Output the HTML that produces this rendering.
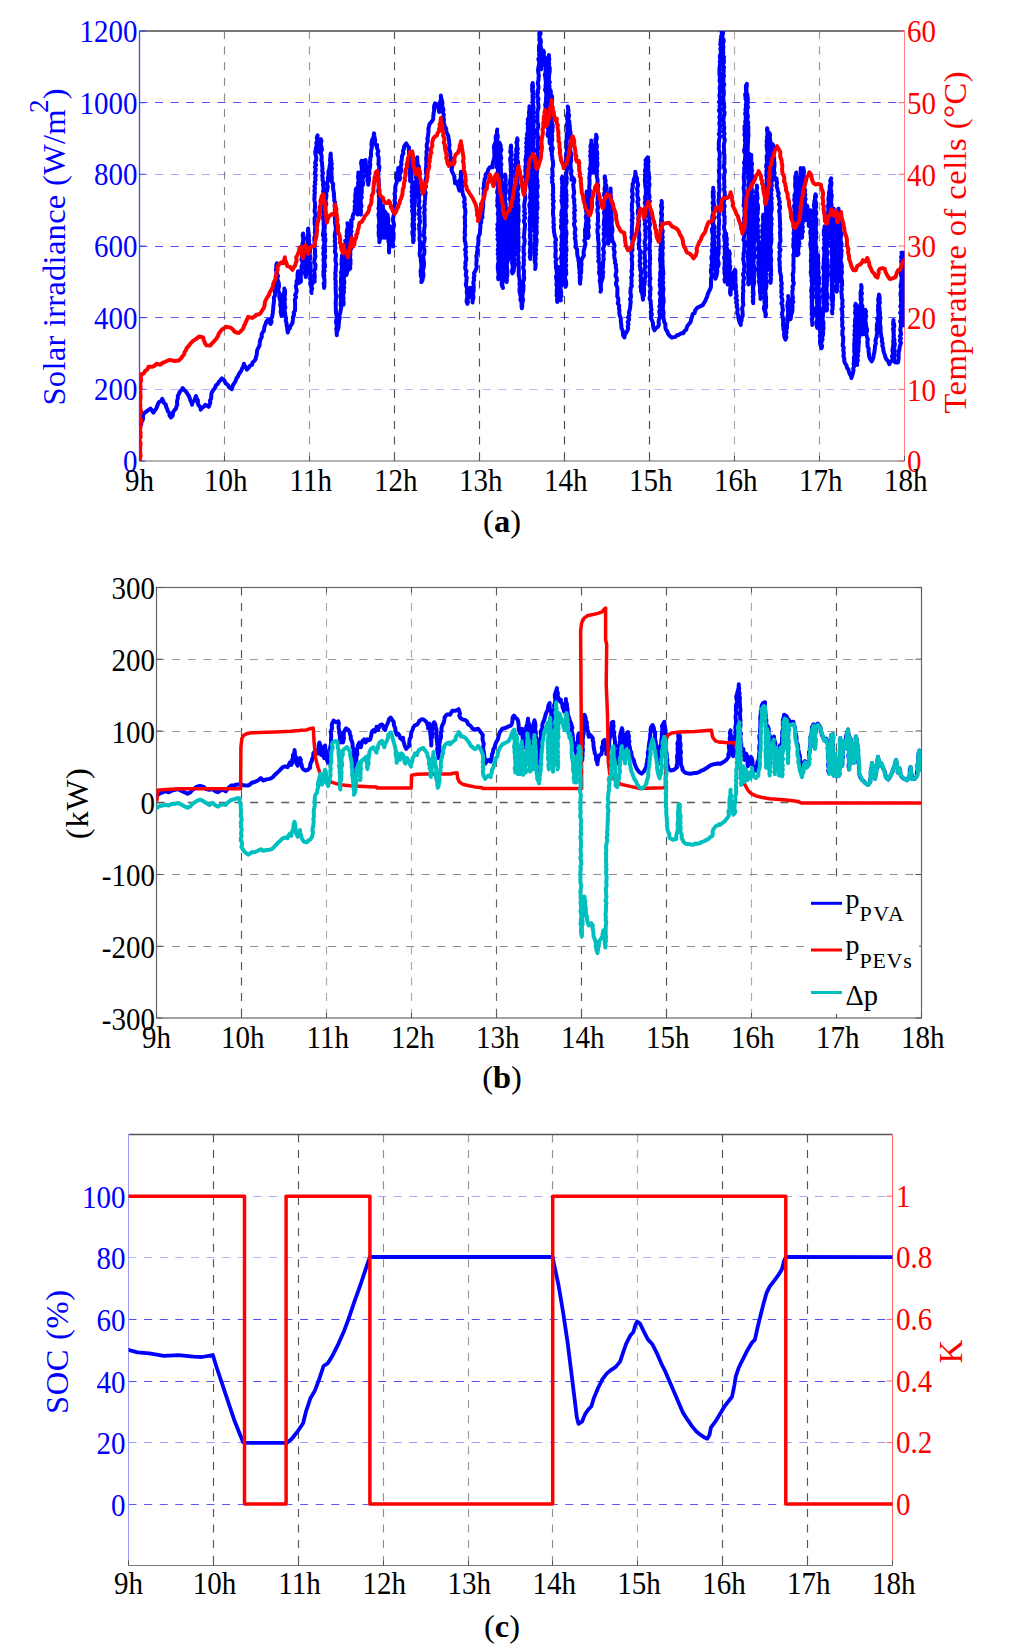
<!DOCTYPE html>
<html><head><meta charset="utf-8"><title>Figure</title>
<style>html,body{margin:0;padding:0;background:#fff}svg{display:block}text{font-family:"Liberation Serif", serif}</style>
</head><body>
<svg width="1024" height="1652" viewBox="0 0 1024 1652">
<rect width="1024" height="1652" fill="#fff"/>
<g>
<line x1="224.5" y1="31" x2="224.5" y2="461" stroke="#8a8a8a" stroke-width="1.15" stroke-dasharray="8 7.6"/>
<line x1="309.5" y1="31" x2="309.5" y2="461" stroke="#999" stroke-width="1.15" stroke-dasharray="8 7.6"/>
<line x1="394.5" y1="31" x2="394.5" y2="461" stroke="#555" stroke-width="1.15" stroke-dasharray="8 7.6"/>
<line x1="479.5" y1="31" x2="479.5" y2="461" stroke="#505050" stroke-width="1.15" stroke-dasharray="8 7.6"/>
<line x1="564.5" y1="31" x2="564.5" y2="461" stroke="#484848" stroke-width="1.15" stroke-dasharray="8 7.6"/>
<line x1="649.5" y1="31" x2="649.5" y2="461" stroke="#484848" stroke-width="1.15" stroke-dasharray="8 7.6"/>
<line x1="734.5" y1="31" x2="734.5" y2="461" stroke="#aaa" stroke-width="1.15" stroke-dasharray="8 7.6"/>
<line x1="819.5" y1="31" x2="819.5" y2="461" stroke="#999" stroke-width="1.15" stroke-dasharray="8 7.6"/>
<line x1="139.5" y1="389.5" x2="904.5" y2="389.5" stroke="#2222ff" stroke-opacity="0.33" stroke-width="1.1" stroke-dasharray="8 7.6"/>
<line x1="139.5" y1="317.5" x2="904.5" y2="317.5" stroke="#2222ff" stroke-opacity="0.75" stroke-width="1.1" stroke-dasharray="8 7.6"/>
<line x1="139.5" y1="246.5" x2="904.5" y2="246.5" stroke="#2222ff" stroke-opacity="0.8" stroke-width="1.1" stroke-dasharray="8 7.6"/>
<line x1="139.5" y1="174.5" x2="904.5" y2="174.5" stroke="#2222ff" stroke-opacity="0.4" stroke-width="1.1" stroke-dasharray="8 7.6"/>
<line x1="139.5" y1="102.5" x2="904.5" y2="102.5" stroke="#2222ff" stroke-opacity="0.8" stroke-width="1.1" stroke-dasharray="8 7.6"/>
<line x1="139.5" y1="31" x2="904.5" y2="31" stroke="#777" stroke-width="2.1"/>
<line x1="139.5" y1="461" x2="904.5" y2="461" stroke="#999" stroke-width="1.3"/>
<line x1="139.5" y1="31" x2="139.5" y2="461" stroke="#4444ff" stroke-width="1.3"/>
<line x1="904.5" y1="31" x2="904.5" y2="461" stroke="#ff8080" stroke-width="1"/>
<line x1="139.5" y1="461" x2="139.5" y2="456" stroke="#555" stroke-width="1"/>
<line x1="224.5" y1="461" x2="224.5" y2="456" stroke="#555" stroke-width="1"/>
<line x1="309.5" y1="461" x2="309.5" y2="456" stroke="#555" stroke-width="1"/>
<line x1="394.5" y1="461" x2="394.5" y2="456" stroke="#555" stroke-width="1"/>
<line x1="479.5" y1="461" x2="479.5" y2="456" stroke="#555" stroke-width="1"/>
<line x1="564.5" y1="461" x2="564.5" y2="456" stroke="#555" stroke-width="1"/>
<line x1="649.5" y1="461" x2="649.5" y2="456" stroke="#555" stroke-width="1"/>
<line x1="734.5" y1="461" x2="734.5" y2="456" stroke="#555" stroke-width="1"/>
<line x1="819.5" y1="461" x2="819.5" y2="456" stroke="#555" stroke-width="1"/>
<line x1="904.5" y1="461" x2="904.5" y2="456" stroke="#555" stroke-width="1"/>
<line x1="139.5" y1="461.0" x2="145.5" y2="461.0" stroke="#4444ff" stroke-width="1"/>
<line x1="904.5" y1="461.0" x2="898.5" y2="461.0" stroke="#ff6060" stroke-width="1"/>
<text transform="translate(137.50,471.90) scale(1,1.09)" fill="#0000ff" text-anchor="end" font-size="29" >0</text>
<text transform="translate(906.90,472.40) scale(1,1.09)" fill="#ff0000" text-anchor="start" font-size="29" >0</text>
<line x1="139.5" y1="389.3" x2="145.5" y2="389.3" stroke="#4444ff" stroke-width="1"/>
<line x1="904.5" y1="389.3" x2="898.5" y2="389.3" stroke="#ff6060" stroke-width="1"/>
<text transform="translate(137.50,400.23) scale(1,1.09)" fill="#0000ff" text-anchor="end" font-size="29" >200</text>
<text transform="translate(906.90,400.73) scale(1,1.09)" fill="#ff0000" text-anchor="start" font-size="29" >10</text>
<line x1="139.5" y1="317.7" x2="145.5" y2="317.7" stroke="#4444ff" stroke-width="1"/>
<line x1="904.5" y1="317.7" x2="898.5" y2="317.7" stroke="#ff6060" stroke-width="1"/>
<text transform="translate(137.50,328.57) scale(1,1.09)" fill="#0000ff" text-anchor="end" font-size="29" >400</text>
<text transform="translate(906.90,329.07) scale(1,1.09)" fill="#ff0000" text-anchor="start" font-size="29" >20</text>
<line x1="139.5" y1="246.0" x2="145.5" y2="246.0" stroke="#4444ff" stroke-width="1"/>
<line x1="904.5" y1="246.0" x2="898.5" y2="246.0" stroke="#ff6060" stroke-width="1"/>
<text transform="translate(137.50,256.90) scale(1,1.09)" fill="#0000ff" text-anchor="end" font-size="29" >600</text>
<text transform="translate(906.90,257.40) scale(1,1.09)" fill="#ff0000" text-anchor="start" font-size="29" >30</text>
<line x1="139.5" y1="174.3" x2="145.5" y2="174.3" stroke="#4444ff" stroke-width="1"/>
<line x1="904.5" y1="174.3" x2="898.5" y2="174.3" stroke="#ff6060" stroke-width="1"/>
<text transform="translate(137.50,185.23) scale(1,1.09)" fill="#0000ff" text-anchor="end" font-size="29" >800</text>
<text transform="translate(906.90,185.73) scale(1,1.09)" fill="#ff0000" text-anchor="start" font-size="29" >40</text>
<line x1="139.5" y1="102.7" x2="145.5" y2="102.7" stroke="#4444ff" stroke-width="1"/>
<line x1="904.5" y1="102.7" x2="898.5" y2="102.7" stroke="#ff6060" stroke-width="1"/>
<text transform="translate(137.50,113.57) scale(1,1.09)" fill="#0000ff" text-anchor="end" font-size="29" >1000</text>
<text transform="translate(906.90,114.07) scale(1,1.09)" fill="#ff0000" text-anchor="start" font-size="29" >50</text>
<line x1="139.5" y1="31.0" x2="145.5" y2="31.0" stroke="#4444ff" stroke-width="1"/>
<line x1="904.5" y1="31.0" x2="898.5" y2="31.0" stroke="#ff6060" stroke-width="1"/>
<text transform="translate(137.50,41.90) scale(1,1.09)" fill="#0000ff" text-anchor="end" font-size="29" >1200</text>
<text transform="translate(906.90,42.40) scale(1,1.09)" fill="#ff0000" text-anchor="start" font-size="29" >60</text>
<text transform="translate(139.50,490.50) scale(1,1.09)" fill="#000" text-anchor="middle" font-size="29" >9h</text>
<text transform="translate(225.70,490.50) scale(1,1.09)" fill="#000" text-anchor="middle" font-size="29" >10h</text>
<text transform="translate(310.70,490.50) scale(1,1.09)" fill="#000" text-anchor="middle" font-size="29" >11h</text>
<text transform="translate(395.70,490.50) scale(1,1.09)" fill="#000" text-anchor="middle" font-size="29" >12h</text>
<text transform="translate(480.70,490.50) scale(1,1.09)" fill="#000" text-anchor="middle" font-size="29" >13h</text>
<text transform="translate(565.70,490.50) scale(1,1.09)" fill="#000" text-anchor="middle" font-size="29" >14h</text>
<text transform="translate(650.70,490.50) scale(1,1.09)" fill="#000" text-anchor="middle" font-size="29" >15h</text>
<text transform="translate(735.70,490.50) scale(1,1.09)" fill="#000" text-anchor="middle" font-size="29" >16h</text>
<text transform="translate(820.70,490.50) scale(1,1.09)" fill="#000" text-anchor="middle" font-size="29" >17h</text>
<text transform="translate(905.70,490.50) scale(1,1.09)" fill="#000" text-anchor="middle" font-size="29" >18h</text>
<clipPath id="ca"><rect x="139.5" y="31" width="765.0" height="430"/></clipPath>
<polyline points="140.7,425.3 141.3,424.3 141.3,422.1 142.7,420.1 143.1,418.0 142.9,415.7 143.7,413.6 145.6,412.1 147.6,410.7 150.5,408.7 152.0,410.6 153.4,412.6 154.9,410.4 156.4,408.3 157.3,405.8 158.1,403.7 159.2,402.0 161.4,400.9 162.2,398.9 163.3,400.9 163.9,403.0 165.8,404.5 166.1,406.8 167.2,408.9 167.8,411.2 169.4,413.0 169.5,415.6 171.0,417.5 172.7,415.6 172.9,412.8 174.1,410.6 175.9,408.7 176.4,406.6 177.3,404.6 177.0,402.4 177.2,400.3 177.9,398.2 177.8,396.0 178.8,394.1 179.8,391.9 181.4,390.1 182.7,388.2 184.4,390.1 186.3,391.9 187.6,394.1 188.9,396.1 189.8,398.2 190.4,400.5 191.5,402.5 192.1,404.8 192.5,402.3 194.5,400.6 195.1,398.2 196.0,396.0 196.6,398.4 198.0,400.4 197.7,403.1 198.7,405.3 200.4,407.2 200.7,409.7 202.0,407.9 203.9,406.6 205.2,404.8 208.7,406.8 209.5,404.7 210.3,402.7 210.0,400.5 211.1,398.5 211.3,396.3 211.3,394.1 212.0,392.1 213.4,389.9 215.1,387.8 215.9,385.3 217.8,383.9 218.9,381.9 220.4,380.2 221.8,378.4 224.3,380.5 225.7,383.3 227.9,385.0 229.3,387.5 231.6,389.2 232.4,387.0 233.1,384.7 234.6,382.8 235.7,380.7 236.4,378.4 237.9,376.6 238.7,374.4 240.0,372.5 241.3,370.6 242.2,368.3 243.4,366.2 243.9,363.8 244.8,365.8 246.0,367.6 246.8,369.6 248.5,368.0 249.9,365.9 252.1,364.8 252.5,362.5 254.3,361.0 255.6,359.2 256.0,356.9 256.7,354.8 256.9,352.5 257.2,350.1 258.2,348.0 259.4,346.0 259.7,343.7 259.9,341.3 260.6,339.1 261.8,337.0 261.6,334.5 262.7,332.4 264.0,330.4 264.2,328.0 264.8,325.7 265.7,323.7 266.4,321.6 267.7,319.8 269.1,321.8 270.6,323.8 271.6,321.7 270.6,319.3 272.0,317.3 272.4,315.1 272.8,313.0 272.9,310.8 273.3,308.6 273.3,306.4 273.6,304.2 273.9,302.0 274.0,299.7 273.8,297.4 275.2,295.4 275.0,293.1 274.8,290.8 275.5,288.6 275.6,286.5 275.7,284.4 275.7,282.2 275.8,280.1 276.1,278.0 276.4,275.9 276.5,273.8 276.4,271.7 275.9,269.5 276.3,267.4 276.3,265.3 276.9,263.2 276.9,265.3 276.6,267.5 276.9,269.6 277.0,271.7 277.1,273.8 278.0,275.9 277.3,278.0 277.7,280.1 278.6,282.2 278.9,284.3 279.0,286.4 278.4,288.6 278.3,290.7 279.2,292.8 279.7,294.8 279.2,297.0 279.8,299.1 280.4,301.1 280.5,303.3 280.2,305.4 280.9,307.5 281.0,309.6 280.6,311.8 281.2,313.8 281.4,315.9 281.3,313.8 281.8,311.7 281.4,309.6 282.1,307.5 282.4,305.4 282.3,303.3 282.4,301.2 283.7,299.2 283.4,297.0 283.2,294.9 284.0,292.8 284.5,290.7 284.3,288.6 285.0,290.7 285.1,292.8 285.0,294.9 284.3,297.0 285.1,299.1 284.5,301.2 284.6,303.3 284.8,305.4 285.4,307.5 284.4,309.7 284.7,311.7 285.2,313.8 285.3,315.9 286.0,318.3 285.8,320.7 286.5,323.0 286.6,325.4 287.3,327.8 287.3,330.2 287.8,332.5 288.3,330.0 290.0,327.9 290.5,325.7 292.1,323.8 292.7,321.6 292.9,319.2 293.0,317.0 294.1,314.9 293.7,312.6 295.0,310.6 295.1,308.4 295.1,306.1 295.1,303.9 295.0,301.6 294.8,299.4 296.1,297.2 295.1,294.9 296.3,292.7 296.7,290.5 296.2,288.2 295.8,285.9 296.9,283.7 296.5,281.4 297.6,279.0 297.5,276.4 297.6,273.8 298.0,271.3 298.4,273.6 298.8,275.9 299.3,278.2 298.9,280.6 299.4,282.9 300.9,281.4 300.9,279.3 300.7,277.1 300.7,274.9 301.6,272.7 301.2,270.5 301.6,268.4 301.5,266.2 302.4,264.0 302.5,261.9 301.4,259.6 301.8,257.4 302.4,255.3 302.2,253.1 303.2,251.0 303.0,248.8 302.4,246.6 302.3,244.4 303.0,242.2 303.3,240.1 303.5,237.9 302.8,235.7 303.1,233.5 302.7,235.7 303.1,237.9 303.5,240.0 303.0,242.3 304.2,244.4 303.6,246.6 304.7,248.7 304.7,250.9 303.8,253.1 304.5,255.3 305.0,257.4 304.4,259.7 304.7,261.8 304.5,264.0 305.3,266.2 305.4,268.4 305.6,270.5 304.9,272.7 305.4,274.9 305.7,277.1 306.8,274.8 307.2,272.3 307.1,269.8 306.7,267.6 307.3,265.5 306.7,263.3 306.7,261.1 306.8,258.9 308.0,256.8 307.9,254.6 308.0,252.4 307.4,250.2 307.8,248.0 308.1,245.9 307.6,243.7 307.9,241.5 307.5,239.3 307.4,237.1 307.7,234.9 308.6,232.8 308.2,230.6 308.2,228.4 307.8,230.9 308.6,233.3 309.1,235.8 308.6,238.3 309.2,240.8 308.8,243.0 310.0,245.2 309.2,247.5 310.1,249.7 310.1,251.9 309.1,254.1 310.4,256.3 310.2,258.6 309.2,260.8 310.1,263.0 310.6,265.2 310.6,267.5 310.5,269.7 309.9,272.0 310.3,274.2 311.0,276.2 310.0,278.4 310.9,280.5 310.2,282.6 310.4,284.7 311.4,286.7 311.6,288.8 311.4,291.0 311.5,293.1 311.2,290.8 312.2,288.7 311.6,286.5 311.8,284.3 313.4,282.2 313.0,280.0 314.7,281.4 314.4,279.3 314.8,277.2 314.6,275.1 314.5,273.0 314.1,270.9 315.3,268.8 315.4,266.6 315.4,264.5 314.2,262.4 314.4,260.3 314.9,258.2 315.5,256.1 314.8,254.0 315.1,251.9 315.0,249.7 314.5,247.6 314.9,245.5 314.5,243.4 314.5,241.3 314.2,239.2 314.5,237.1 315.5,235.0 314.8,232.8 315.1,230.7 315.1,228.6 315.5,226.5 314.7,224.4 314.6,222.3 314.6,220.2 314.6,218.0 315.4,215.9 315.5,213.8 314.6,211.7 314.7,209.6 315.0,207.5 315.0,205.4 315.1,203.3 314.6,201.1 314.3,199.0 314.6,196.9 314.4,194.8 315.0,192.7 314.4,190.6 315.0,188.5 314.4,186.3 315.3,184.2 314.8,182.0 315.6,179.9 315.2,177.8 315.8,175.6 314.8,173.5 315.4,171.3 315.8,169.2 314.9,167.0 316.1,164.9 315.1,162.8 316.0,160.6 316.3,158.5 316.1,156.4 315.5,154.2 315.2,152.1 315.8,149.9 315.9,147.8 316.8,145.4 316.3,142.8 317.4,140.4 316.8,137.8 317.6,135.4 317.2,137.9 318.7,140.1 318.5,142.6 317.9,145.0 318.2,147.4 318.3,149.8 319.1,152.1 319.8,150.0 320.0,147.8 320.3,145.6 319.9,143.4 320.5,141.2 320.9,139.1 321.5,141.2 320.8,143.3 321.0,145.5 321.6,147.6 322.0,149.7 320.8,151.9 321.1,154.0 321.6,156.1 321.7,158.2 321.3,160.4 322.0,162.5 322.1,164.6 322.3,166.7 322.5,168.9 322.2,171.0 323.0,173.3 322.2,175.5 322.7,177.8 322.5,180.1 323.4,182.3 323.0,184.6 323.4,186.8 323.6,189.1 323.1,191.4 323.5,193.5 322.7,195.6 323.3,197.7 323.4,199.8 323.1,201.9 323.6,204.0 324.0,206.1 323.3,208.2 323.3,210.3 323.1,212.4 323.5,214.5 323.1,216.6 323.1,218.7 323.8,220.8 323.5,222.9 323.5,225.0 323.9,227.1 323.6,229.2 323.5,231.3 323.0,233.4 323.0,235.5 323.9,237.6 323.4,239.7 324.3,241.8 324.3,243.9 323.7,246.0 323.2,248.1 324.2,250.2 323.4,252.3 323.3,254.4 324.1,256.5 323.6,258.6 323.4,260.7 324.1,262.8 323.6,264.9 323.6,267.0 323.8,269.1 323.5,271.2 323.4,273.3 323.4,275.4 323.9,277.5 324.5,279.6 324.4,281.7 324.5,283.8 324.0,285.9 324.1,288.0 324.5,285.9 323.6,283.7 324.5,281.6 324.5,279.5 324.1,277.3 324.3,275.2 323.8,273.1 324.7,270.9 323.7,268.8 325.1,266.7 324.8,264.6 324.6,262.4 324.1,260.3 325.1,258.2 325.2,256.0 324.0,253.9 325.0,251.8 325.1,249.7 324.8,247.5 324.9,245.4 324.6,243.3 325.3,241.1 325.4,239.0 324.6,236.9 325.2,234.8 324.7,232.6 324.4,230.5 324.6,228.4 324.9,226.2 324.5,224.0 325.7,221.8 325.8,219.6 324.8,217.3 325.6,215.1 325.4,212.8 325.1,210.6 325.5,208.3 325.5,206.1 326.3,203.9 325.4,201.6 325.8,199.4 326.3,197.2 326.4,195.0 326.0,192.9 327.1,190.8 327.3,188.7 327.8,186.7 327.1,184.5 327.4,182.4 328.0,180.3 327.8,178.1 328.4,176.1 328.5,173.9 328.4,171.6 329.2,169.4 329.6,167.2 329.9,164.9 330.4,162.7 330.0,160.4 330.2,158.1 330.9,155.9 330.7,153.6 330.4,155.7 330.8,157.8 331.2,159.9 331.4,162.0 331.8,164.1 330.9,166.3 332.0,168.4 331.2,170.5 331.6,172.6 331.1,174.7 331.8,176.8 331.8,179.3 331.8,181.8 333.2,184.0 333.0,186.5 333.2,189.0 333.6,191.4 334.0,193.6 333.9,195.9 334.3,198.1 334.2,200.4 335.1,202.6 334.6,204.9 334.8,207.2 335.2,209.4 335.0,211.7 335.2,213.8 334.7,215.9 334.8,218.0 335.1,220.2 334.9,222.3 335.3,224.4 335.6,226.5 335.9,228.6 335.6,230.7 335.1,232.8 334.7,235.0 334.8,237.1 335.3,239.2 334.7,241.3 335.4,243.4 334.9,245.5 335.5,247.6 335.1,249.7 334.8,251.9 335.8,254.0 336.0,256.1 335.4,258.2 335.5,260.3 335.8,262.4 336.3,264.5 335.8,266.6 335.7,268.8 335.8,270.9 335.2,273.0 335.6,275.1 335.4,277.2 335.2,279.3 335.8,281.4 335.5,283.6 335.9,285.7 335.5,287.9 335.7,290.0 335.8,292.2 335.8,294.3 336.2,296.5 335.9,298.6 335.9,300.8 335.6,303.0 335.8,305.1 335.8,307.3 335.9,309.4 335.9,311.6 336.2,313.7 336.6,315.8 336.8,318.0 336.2,320.2 336.0,322.3 336.5,324.4 337.1,326.6 336.2,328.8 336.7,330.9 336.8,333.0 336.8,335.2 336.6,332.5 337.7,330.1 338.5,327.6 338.7,325.0 338.9,322.6 339.1,320.2 339.8,317.8 339.3,315.3 340.3,312.9 340.6,310.5 341.2,308.3 340.9,306.0 340.5,303.8 341.0,301.6 340.9,299.4 340.4,297.1 340.4,294.9 341.4,292.7 340.6,290.4 340.4,288.2 341.4,286.0 341.1,283.8 340.9,281.5 341.1,279.3 341.1,277.1 341.6,274.9 340.9,272.7 341.6,270.6 341.8,268.4 342.0,266.2 341.3,264.0 341.9,261.8 341.5,259.6 342.0,257.5 342.0,255.3 342.5,257.4 341.7,259.6 341.7,261.7 342.5,263.9 342.7,266.0 341.7,268.2 342.2,270.3 342.0,272.5 343.2,274.6 342.1,276.8 342.5,278.9 343.0,281.1 342.9,283.2 342.5,285.4 342.6,287.5 343.5,289.6 342.9,291.8 343.6,293.9 342.6,296.1 343.4,298.2 342.8,300.4 343.1,302.6 343.5,304.7 343.7,302.6 343.2,300.4 343.6,298.3 343.1,296.2 343.2,294.1 344.0,292.0 343.6,289.8 344.2,287.7 343.5,285.6 344.2,283.5 344.3,281.3 343.7,279.2 344.1,277.1 343.6,274.9 344.0,272.8 344.2,270.7 343.8,268.5 344.0,266.4 343.8,264.2 344.7,262.1 345.1,260.0 344.3,257.8 344.1,255.7 345.1,253.6 345.3,251.5 345.6,249.3 345.2,247.2 344.9,245.0 345.6,242.9 345.2,240.8 345.8,242.9 345.1,245.0 346.0,247.1 345.6,249.3 345.6,251.4 345.8,253.6 346.2,255.7 346.2,257.8 345.4,260.0 346.0,262.1 345.9,264.2 346.5,266.4 345.9,268.5 346.5,270.6 346.2,272.8 346.4,274.9 347.0,272.8 347.1,270.6 345.9,268.4 347.0,266.3 347.1,264.2 346.4,262.0 346.5,259.9 346.8,257.7 347.3,255.6 346.7,253.4 347.4,251.3 347.2,249.1 346.4,247.0 347.5,244.8 346.3,242.7 346.6,240.5 347.3,238.4 346.5,236.2 347.0,234.1 346.7,231.9 347.2,229.8 347.8,227.6 347.9,225.5 347.4,223.3 348.1,225.4 348.1,227.5 347.1,229.7 348.3,231.8 348.0,233.9 348.3,236.0 348.4,238.1 348.6,240.2 347.8,242.4 347.7,244.5 347.9,246.6 347.7,248.7 348.0,250.8 348.5,252.9 348.2,255.0 347.8,257.2 348.3,259.3 348.9,261.4 349.3,263.5 348.1,265.6 348.6,267.7 348.8,269.8 350.3,268.4 350.1,266.2 350.5,264.0 350.5,261.8 350.5,259.7 349.8,257.5 350.3,255.3 350.4,253.1 350.1,250.9 351.1,248.8 350.5,246.6 350.9,244.4 351.0,242.2 351.1,240.0 351.1,237.9 351.1,235.7 350.5,233.5 351.5,231.3 350.4,229.1 351.5,227.0 351.5,224.8 351.5,222.6 351.0,220.4 352.8,219.0 352.6,216.7 353.2,214.5 354.6,212.5 354.6,210.2 354.8,208.1 354.8,205.9 355.8,203.8 354.6,201.5 355.4,199.4 355.4,197.2 355.2,195.0 355.7,192.8 356.3,190.7 356.1,188.5 355.7,190.7 357.0,192.8 356.4,195.0 357.2,197.1 356.3,199.4 357.4,201.5 357.6,203.7 357.2,205.9 356.9,208.1 357.6,210.2 358.0,212.4 357.6,214.6 358.0,212.5 358.1,210.4 358.2,208.3 357.4,206.2 357.6,204.1 357.4,202.0 357.9,199.9 357.6,197.7 357.7,195.6 358.3,193.5 358.6,191.4 358.1,189.3 357.5,187.2 358.3,185.1 358.0,183.0 358.8,180.9 358.5,178.8 358.7,176.7 358.5,174.6 358.3,172.5 358.4,174.6 358.0,176.7 358.2,178.8 359.1,180.8 359.4,182.9 359.2,185.1 359.2,187.2 359.9,189.2 359.4,191.4 359.8,193.5 359.6,195.6 360.5,197.7 359.5,199.8 359.9,201.9 360.5,204.0 360.7,206.1 360.7,208.3 360.9,210.4 360.4,212.5 360.9,214.6 360.9,212.5 361.0,210.3 360.5,208.2 361.6,206.0 360.8,203.9 360.8,201.7 360.5,199.6 361.8,197.4 361.1,195.3 361.7,193.1 361.8,191.0 361.8,188.8 361.6,186.7 361.8,184.5 361.8,182.4 361.7,180.2 360.8,178.0 361.4,175.9 361.4,173.8 362.1,171.6 361.8,169.5 361.7,167.3 361.8,165.2 361.3,163.0 361.5,160.8 361.0,163.1 361.5,165.4 361.9,167.6 362.0,169.8 361.3,172.1 362.1,174.3 362.7,176.5 362.8,178.8 362.2,181.1 362.4,183.3 362.6,185.6 363.3,183.3 362.4,181.0 362.8,178.8 363.4,176.6 362.5,174.3 362.7,172.1 363.4,169.8 363.2,167.6 363.0,165.3 363.4,163.1 363.8,160.8 365.6,160.1 365.6,162.4 366.0,164.7 366.9,167.0 367.1,169.3 366.3,171.7 367.0,173.9 367.0,176.1 367.9,178.2 367.2,180.5 368.6,182.6 368.2,184.8 368.2,182.5 369.0,180.3 369.0,177.9 368.5,175.6 369.6,173.4 369.2,171.0 369.5,168.9 370.1,166.7 370.3,164.5 369.8,162.3 370.3,160.1 370.3,158.0 371.1,155.8 371.0,153.6 371.1,151.4 371.4,149.3 371.9,147.1 371.4,144.9 371.6,142.5 372.0,140.1 373.3,138.0 373.8,135.7 374.0,133.2 374.3,135.6 374.7,137.9 375.2,140.2 374.8,142.6 375.7,144.9 377.2,144.9 376.9,147.1 377.4,149.2 378.4,151.4 377.4,153.6 378.1,155.8 378.7,157.9 378.7,160.1 378.6,162.3 378.4,164.4 379.4,166.5 379.2,168.6 379.0,170.7 378.2,172.8 378.4,174.9 378.1,177.0 378.7,179.1 378.7,181.2 378.7,183.3 378.8,185.4 378.8,187.5 378.4,189.6 378.3,191.7 379.0,193.8 378.8,195.9 379.2,198.0 379.2,200.1 379.0,202.3 378.9,204.4 379.0,206.5 378.4,208.6 379.5,210.7 378.9,212.8 378.4,214.9 378.8,217.0 379.0,219.1 379.3,221.2 379.3,223.3 378.6,225.4 378.7,227.5 379.0,229.6 378.7,231.7 378.7,233.8 378.8,235.9 379.5,238.0 379.4,240.1 379.4,242.2 379.8,240.1 379.3,238.0 379.9,235.9 379.5,233.8 379.4,231.7 379.6,229.6 379.2,227.5 379.6,225.4 379.7,223.2 379.2,221.1 379.5,219.0 379.6,216.9 380.5,214.8 380.2,212.7 379.8,210.6 380.9,208.5 379.9,206.4 380.3,204.3 380.7,202.2 380.4,200.1 380.2,202.3 380.6,204.5 380.2,206.8 380.7,209.0 380.4,211.2 380.8,213.4 380.2,215.7 380.6,217.9 381.6,220.1 381.6,222.3 380.5,224.5 381.6,226.7 381.9,228.9 381.7,231.2 381.4,233.4 380.8,235.6 381.5,237.8 381.5,235.7 382.0,233.6 382.3,231.5 381.3,229.3 382.2,227.2 382.8,225.1 382.3,222.9 382.4,220.8 382.2,218.7 383.1,216.6 383.3,214.4 382.1,212.3 382.9,210.2 382.8,208.0 383.0,205.9 382.8,208.0 383.7,210.1 383.6,212.3 383.6,214.4 383.4,216.5 383.0,218.7 383.0,220.8 383.2,222.9 383.4,225.1 384.3,227.2 384.0,229.3 383.7,231.5 384.3,233.6 384.1,235.7 384.1,237.8 384.8,235.7 383.8,233.5 384.9,231.3 383.9,229.1 384.4,226.9 385.2,224.8 384.3,222.6 384.9,220.4 384.8,218.2 385.5,216.1 385.8,213.9 385.2,211.7 385.6,213.9 385.4,216.1 385.0,218.3 385.6,220.4 386.2,222.6 385.5,224.8 386.2,226.9 386.2,229.1 386.9,231.3 385.7,233.5 386.3,235.7 386.6,237.8 387.3,235.8 387.5,233.7 386.6,231.5 387.0,229.4 387.0,227.3 387.5,225.2 387.7,223.1 387.0,220.9 387.1,218.8 387.8,216.7 387.6,214.6 387.8,216.8 388.3,219.0 388.3,221.3 387.9,223.5 387.9,225.7 387.5,228.0 388.2,230.2 388.2,232.4 388.9,234.6 388.6,236.8 388.9,239.0 388.4,241.3 389.1,243.5 389.2,245.7 389.1,247.9 389.0,250.2 389.1,252.4 389.0,250.2 389.4,248.0 388.9,245.8 390.0,243.7 389.8,241.5 389.7,239.3 389.1,237.1 389.6,234.9 390.2,232.8 390.3,230.6 390.6,228.4 390.2,226.2 389.9,228.7 391.0,231.0 391.0,233.5 391.5,235.9 392.0,238.3 391.7,240.8 392.9,243.5 393.2,246.6 392.9,244.4 392.7,242.2 393.3,240.0 393.6,237.9 393.5,235.7 393.7,233.5 393.1,231.3 393.1,229.1 393.7,227.0 394.1,224.8 393.5,222.6 393.0,220.4 393.1,218.2 393.5,216.1 394.0,213.9 393.9,211.7 393.5,209.4 393.8,207.2 394.6,204.9 395.2,202.7 394.5,200.4 395.0,198.2 395.0,195.9 394.5,193.6 395.3,191.4 395.3,189.2 395.3,186.9 395.7,184.8 396.7,182.7 396.8,180.5 396.8,178.3 396.5,175.7 396.9,173.1 398.2,170.7 398.2,168.1 399.1,170.4 399.1,172.7 399.4,175.1 400.0,177.3 399.7,179.7 399.3,177.5 399.6,175.3 400.2,173.2 401.2,171.1 401.0,168.9 400.6,166.6 401.5,164.5 401.1,162.3 401.7,160.1 401.9,157.9 402.1,155.6 403.4,153.4 403.0,150.9 404.0,148.7 404.1,146.3 406.2,143.4 407.5,145.7 409.1,147.8 408.7,150.0 409.1,152.2 408.9,154.5 409.6,156.7 409.3,158.9 409.4,161.1 409.6,163.4 409.7,165.6 409.8,167.8 410.1,170.0 409.4,172.3 409.9,174.5 410.1,176.7 410.8,178.9 410.3,181.2 410.0,180.4 410.2,178.2 409.9,175.9 410.1,173.6 410.6,171.4 410.9,169.1 410.6,166.8 410.8,164.6 411.3,162.3 411.4,160.1 411.5,162.2 411.7,164.3 412.1,166.4 411.8,168.5 411.5,170.6 411.7,172.7 411.7,174.8 411.3,176.9 411.5,179.0 411.6,181.1 412.6,183.2 412.3,185.3 411.8,187.4 412.6,189.5 411.5,191.7 412.7,193.7 411.7,195.9 412.7,198.0 411.8,200.1 411.9,202.2 412.6,204.3 411.9,206.4 413.0,208.5 412.0,210.6 412.7,212.7 412.7,214.8 413.2,216.9 412.6,219.0 413.1,221.1 412.6,223.2 412.4,225.3 412.7,227.4 413.6,229.5 412.3,231.7 412.4,233.8 412.9,235.9 413.3,238.0 413.1,240.1 413.2,242.2 413.8,240.0 413.3,237.7 413.9,235.5 413.7,233.2 413.6,231.0 414.4,228.8 413.7,226.5 414.1,224.3 413.4,222.0 414.1,219.8 413.6,217.5 414.4,215.3 414.8,213.1 413.9,210.8 414.1,208.6 414.3,206.3 414.4,204.1 415.0,201.9 414.9,199.6 414.9,197.4 416.0,195.2 416.0,193.0 415.8,190.7 416.1,188.5 415.8,186.2 416.4,184.0 415.7,181.7 416.6,179.5 415.9,177.3 416.5,175.1 416.3,172.8 416.1,170.6 417.1,168.4 417.4,166.1 416.7,163.9 417.6,161.7 416.9,159.4 417.3,157.2 417.3,159.6 417.1,162.1 417.6,164.5 418.9,166.8 418.6,169.3 418.7,171.7 418.9,173.8 419.1,176.0 418.4,178.1 418.9,180.2 418.6,182.4 418.7,184.5 418.9,186.7 419.6,188.8 418.8,190.9 418.5,193.1 419.6,195.2 418.9,197.3 419.2,199.5 419.4,201.6 418.9,203.8 418.6,205.9 420.0,208.0 418.8,210.2 419.5,212.3 418.9,214.4 419.9,216.6 419.2,218.7 420.1,220.8 419.8,223.0 418.9,225.1 419.4,227.3 419.2,229.4 419.7,231.5 419.7,233.7 419.8,235.8 419.4,237.9 419.5,240.1 420.3,242.2 419.9,244.3 420.0,246.6 420.0,248.8 420.0,251.0 419.6,253.3 419.8,255.5 420.9,257.7 420.7,259.9 421.1,262.1 421.3,264.3 421.3,266.5 421.3,268.8 420.5,271.0 420.8,273.2 420.7,275.5 421.5,277.7 421.7,279.9 421.3,282.1 422.5,280.1 422.8,277.9 423.5,275.7 423.4,273.4 422.7,271.3 423.3,269.2 423.7,267.1 423.9,265.0 424.1,262.9 423.6,260.8 423.5,258.6 423.0,256.5 424.1,254.4 424.4,252.3 424.4,250.2 424.0,248.1 423.6,246.0 423.5,243.9 424.3,241.8 424.6,239.7 424.7,237.6 423.6,235.4 424.2,233.3 424.1,231.2 424.1,229.1 424.6,227.0 424.8,224.9 424.6,222.8 424.6,220.7 424.6,218.6 424.6,216.5 424.5,214.3 424.1,212.2 424.9,210.1 424.5,208.0 424.1,205.9 424.9,203.8 424.6,201.6 425.0,199.5 425.2,197.3 425.0,195.2 425.8,193.1 424.8,190.9 424.6,188.8 426.0,186.7 425.2,184.5 425.2,182.4 425.5,180.2 425.9,178.1 426.5,176.0 426.2,173.8 426.0,171.7 425.8,169.5 426.2,167.2 426.2,165.0 426.4,162.8 426.3,160.6 426.1,158.3 426.5,156.1 426.6,153.9 426.4,151.6 427.4,149.4 426.8,147.2 426.7,145.0 427.3,142.7 427.8,140.5 427.4,138.3 428.1,136.0 428.2,133.7 428.6,131.4 428.4,129.0 428.9,126.7 429.5,124.3 431.1,122.3 433.2,119.4 433.2,117.1 433.5,114.8 433.7,112.5 434.2,110.3 434.0,107.9 434.2,105.6 435.0,103.4 437.6,106.3 438.7,109.1 439.1,112.1 438.9,110.0 440.0,108.0 439.8,105.9 439.6,103.7 440.1,101.7 441.0,99.7 440.8,97.5 440.9,95.4 441.2,97.9 441.8,100.3 442.4,102.8 442.2,105.3 442.7,107.8 443.5,110.0 442.7,112.4 443.9,114.6 443.2,116.9 443.9,119.2 443.7,121.5 444.1,123.8 444.7,126.2 446.1,128.5 446.3,131.0 447.0,133.5 448.3,135.7 448.5,138.3 449.1,140.4 449.1,142.6 449.5,144.8 449.2,147.0 449.0,149.3 449.9,151.4 450.4,153.6 450.0,155.9 451.1,158.1 450.6,160.4 451.4,162.6 451.4,164.9 452.2,167.1 451.4,169.5 452.1,171.7 453.6,174.6 454.4,176.7 454.4,179.0 455.0,181.1 455.0,183.3 457.2,181.9 457.3,184.2 458.2,186.3 458.7,188.4 459.4,190.6 459.9,188.5 459.4,186.4 459.3,184.2 460.5,182.2 459.9,180.1 460.8,178.0 461.2,175.9 460.9,173.8 460.9,171.7 461.6,173.8 460.7,175.9 461.1,178.0 461.8,180.1 462.1,182.2 461.8,184.3 462.5,186.4 461.6,188.5 462.3,190.6 462.7,193.1 463.3,195.6 464.5,197.8 464.7,200.0 464.0,202.2 465.1,204.3 464.3,206.5 465.0,208.6 465.4,210.8 465.3,213.0 465.2,215.1 464.5,217.3 465.1,219.4 465.0,221.6 464.8,223.8 465.3,225.9 464.9,228.1 464.9,230.2 464.6,232.4 465.2,234.6 464.7,236.7 464.6,238.9 464.9,241.0 465.5,243.2 465.7,245.3 466.0,247.5 465.0,249.7 466.0,251.8 465.5,254.0 465.7,256.1 466.3,258.3 466.1,260.4 465.3,262.6 465.7,264.8 465.2,266.9 465.3,269.1 466.5,271.2 465.9,273.4 465.8,275.6 466.8,277.7 466.4,279.9 466.4,282.1 465.8,284.3 466.4,286.5 467.1,288.6 466.8,290.8 466.8,293.0 467.4,295.2 467.3,297.4 466.7,299.6 466.6,301.8 467.4,303.9 468.0,301.8 467.3,299.5 468.7,297.4 468.3,295.2 469.1,293.1 468.8,290.8 470.3,287.9 471.1,290.3 471.5,292.7 470.8,295.3 472.0,297.6 472.7,299.9 472.5,302.5 472.6,300.2 473.4,298.0 473.3,295.8 472.8,293.5 473.7,291.3 473.6,289.1 473.7,286.8 473.6,284.6 473.3,282.3 474.2,280.1 473.7,277.9 474.4,275.7 473.9,273.4 475.1,271.3 476.1,269.1 476.8,266.9 476.3,264.7 476.4,262.5 476.7,260.3 476.5,258.1 476.4,255.9 477.1,253.8 477.1,251.6 477.8,249.5 477.2,247.2 478.2,245.1 478.3,242.9 478.5,240.8 478.3,238.5 478.6,236.2 479.8,234.0 480.0,231.6 480.1,229.3 480.5,226.9 480.3,224.4 481.3,222.1 480.9,219.5 482.5,217.3 482.1,214.8 482.6,212.4 482.6,210.2 483.0,208.0 483.2,205.9 483.2,203.7 483.2,201.5 483.6,199.3 484.0,197.2 483.5,194.9 483.7,192.8 484.3,190.6 483.3,188.4 484.1,186.2 483.9,183.8 484.4,181.6 484.6,179.2 485.8,177.0 485.6,174.6 487.7,171.7 488.4,169.3 489.9,167.3 492.8,167.3 492.4,165.1 492.9,163.0 493.4,160.8 494.0,158.7 494.4,156.5 494.4,154.3 494.2,152.1 494.3,149.9 493.9,147.5 494.2,145.2 495.3,143.0 495.9,140.7 495.7,138.3 495.8,136.1 497.1,134.0 496.9,131.8 497.2,129.6 497.1,131.7 497.0,133.8 497.8,135.9 497.7,138.0 496.6,140.1 497.6,142.2 497.9,144.3 497.6,146.4 497.0,148.5 497.7,150.6 497.8,152.8 497.7,154.9 497.4,157.0 497.1,159.1 497.7,161.2 496.9,163.3 496.8,165.4 497.0,167.5 498.1,169.6 497.8,171.7 496.9,173.8 497.0,175.9 498.1,178.0 497.6,180.2 497.8,182.3 497.3,184.4 498.3,186.5 497.9,188.6 497.3,190.7 497.1,192.8 498.3,194.9 497.6,197.0 497.5,199.1 497.2,201.2 497.9,203.3 497.1,205.5 498.2,207.6 498.3,209.7 498.3,211.8 497.7,213.9 498.4,216.0 498.2,218.1 498.3,220.2 498.5,222.3 497.3,224.4 498.2,226.5 497.3,228.6 497.6,230.7 498.4,232.8 497.4,235.0 498.7,237.1 497.4,239.2 498.7,241.3 498.4,243.4 498.0,245.5 498.8,247.6 497.7,249.7 498.7,251.8 497.7,253.9 498.8,256.0 498.1,258.1 498.6,260.2 498.5,262.4 498.2,264.5 498.4,266.6 498.4,268.7 498.1,270.8 498.7,272.9 498.8,275.0 498.1,277.1 498.3,279.2 498.1,277.1 499.0,275.0 498.3,272.9 498.4,270.8 497.8,268.7 497.8,266.6 497.9,264.5 498.6,262.4 498.7,260.3 499.1,258.2 498.4,256.1 498.8,254.0 498.3,251.9 498.0,249.8 498.5,247.7 498.9,245.6 499.0,243.5 499.3,241.4 499.1,239.3 498.7,237.2 498.7,235.1 498.7,233.0 498.7,230.9 499.0,228.8 498.8,226.7 499.2,224.6 498.7,222.5 498.7,220.4 499.3,218.3 499.1,216.2 498.9,214.1 498.9,212.0 499.3,209.9 499.0,207.8 498.5,205.7 498.6,203.6 499.1,201.5 498.3,199.4 498.9,197.3 499.5,195.2 498.6,193.1 498.9,191.0 499.3,188.9 499.6,186.8 499.3,184.7 499.2,182.6 498.9,180.5 499.0,178.4 499.3,176.3 498.9,174.2 499.5,172.1 498.5,170.0 499.5,167.9 499.5,165.8 498.9,163.7 498.5,161.5 499.0,159.4 499.4,157.3 499.7,155.3 499.8,153.1 498.9,151.0 498.7,148.9 498.8,146.8 500.0,144.7 499.4,142.6 500.8,145.6 500.6,147.7 501.4,149.8 500.6,151.9 500.2,154.0 500.7,156.1 501.3,158.2 500.3,160.3 500.7,162.4 501.4,164.5 500.6,166.7 501.0,168.8 500.9,170.9 501.2,173.0 501.3,175.1 501.2,177.2 501.0,179.3 501.1,181.4 500.6,183.6 501.7,185.7 501.5,187.8 500.5,189.9 501.0,192.0 501.0,194.1 501.0,196.2 501.6,198.3 501.4,200.4 501.6,202.6 501.7,204.7 500.6,206.8 500.9,208.9 500.8,211.0 502.0,213.1 501.0,215.2 501.6,217.3 501.4,219.4 501.1,221.6 502.1,223.7 501.6,225.8 501.4,227.9 500.9,230.0 501.4,232.1 501.7,234.2 501.3,236.3 501.4,238.4 501.8,240.6 501.5,242.7 501.9,244.8 502.3,246.9 501.8,249.0 502.2,251.1 501.6,253.2 501.6,255.3 501.1,257.5 501.3,259.6 501.3,261.7 501.0,263.8 502.0,265.9 501.9,268.0 502.1,270.1 502.3,272.2 501.8,274.3 501.8,276.4 502.3,278.6 501.8,280.7 501.6,283.2 501.9,285.6 503.0,287.9 502.4,285.8 502.4,283.6 502.5,281.5 503.5,279.3 503.7,277.2 502.6,275.0 502.6,272.9 503.4,270.7 503.1,268.6 502.7,266.4 502.8,264.2 503.1,262.1 503.1,259.9 503.3,257.8 503.7,255.6 503.3,253.5 503.3,251.3 503.4,249.2 504.3,247.0 503.5,244.9 504.0,242.7 503.9,240.6 503.7,238.4 503.9,236.3 503.4,234.1 503.7,232.0 504.1,229.8 504.4,227.7 504.6,225.6 503.9,223.4 503.9,221.3 504.9,219.2 503.8,217.1 504.8,215.0 505.0,212.8 504.0,210.7 505.0,208.6 504.1,206.5 504.0,204.3 504.4,202.2 504.5,200.1 504.9,198.0 504.7,195.8 505.2,193.7 505.1,191.6 504.4,189.5 504.5,187.3 505.3,185.2 504.5,183.1 505.7,181.0 505.5,178.9 504.7,176.7 505.2,174.6 505.5,176.7 505.6,178.8 505.4,180.9 505.6,183.0 506.0,185.1 505.7,187.3 505.8,189.4 505.6,191.5 505.5,193.6 504.9,195.7 505.3,197.8 505.3,199.9 505.0,202.0 505.7,204.1 505.7,206.2 506.0,208.3 505.2,210.5 505.1,212.6 505.1,214.7 505.6,216.8 506.3,218.9 506.4,221.0 505.4,223.1 505.3,225.2 505.8,227.3 505.3,229.4 505.3,231.5 505.6,233.6 506.2,235.7 506.1,237.9 506.3,240.0 506.2,242.1 506.1,244.2 506.8,246.3 506.7,248.4 506.7,250.5 506.1,252.6 505.7,254.7 506.0,256.8 506.8,258.9 506.4,261.0 506.2,263.2 506.9,265.2 507.0,267.4 506.3,269.5 506.8,271.6 506.3,273.7 507.0,275.8 506.1,277.9 506.9,280.0 506.6,282.1 506.6,280.0 506.8,277.8 507.3,275.7 507.4,273.5 507.3,271.4 507.2,269.2 506.3,267.0 506.6,264.9 507.1,262.7 507.8,260.6 507.5,258.4 506.7,256.2 507.0,254.1 507.9,252.0 507.3,249.8 507.9,247.6 507.9,245.5 507.9,243.3 507.7,241.2 507.8,239.0 507.4,236.8 507.1,234.7 508.3,232.6 507.1,230.4 507.5,228.2 508.0,226.1 508.5,223.9 507.5,221.7 507.6,219.6 508.5,217.5 508.1,215.3 508.4,217.5 508.4,219.6 508.5,221.8 509.0,224.0 507.8,226.2 508.2,228.4 509.3,230.5 509.2,232.7 509.2,234.9 509.0,237.1 508.3,239.3 509.4,241.4 509.4,243.6 509.3,245.8 509.1,248.0 508.7,250.2 509.2,252.3 508.8,254.5 509.4,256.7 509.5,258.9 509.5,256.7 510.1,254.6 509.7,252.5 509.6,250.3 509.7,248.2 509.5,246.0 509.6,243.9 509.1,241.8 509.4,239.6 510.2,237.5 509.3,235.4 509.4,233.2 509.4,231.1 509.7,228.9 509.3,226.8 509.8,224.7 510.1,222.5 510.3,220.4 510.6,218.3 509.5,216.1 510.3,214.0 509.7,211.8 509.9,209.7 510.3,207.6 510.7,205.4 510.5,203.3 510.9,201.2 509.6,199.0 510.1,196.9 510.3,194.7 509.7,192.6 509.8,190.4 510.2,188.3 510.5,186.2 510.0,184.0 509.9,181.9 510.3,179.8 510.9,177.6 510.7,175.5 511.3,173.4 510.8,171.2 511.2,169.1 510.8,166.9 510.7,164.8 510.6,162.7 510.2,160.5 510.2,158.4 511.1,156.2 511.4,154.1 510.2,152.0 510.5,149.8 510.7,147.7 511.0,145.6 511.3,147.7 510.6,149.8 511.4,151.9 511.3,154.1 511.1,156.2 510.5,158.3 511.4,160.5 511.0,162.6 511.8,164.7 511.3,166.9 510.6,169.0 511.7,171.1 511.5,173.3 511.1,175.4 511.3,177.5 511.3,179.6 511.2,181.8 511.2,183.9 511.7,186.0 511.7,188.2 511.6,190.3 511.5,192.4 511.4,194.6 511.0,196.7 511.7,198.8 511.7,201.0 511.2,203.1 511.0,205.2 512.0,207.3 511.4,209.5 512.1,211.6 511.4,213.7 512.4,215.9 511.8,218.0 511.7,220.1 511.6,222.3 511.3,224.4 511.5,226.5 511.8,228.7 512.0,230.8 512.7,232.9 511.9,235.1 511.9,237.2 511.7,239.3 512.5,241.4 512.0,243.6 512.7,245.7 511.8,247.8 511.7,250.0 512.3,252.1 511.9,254.2 512.0,256.4 512.5,258.5 512.9,260.6 511.9,262.8 512.5,264.9 512.8,267.0 512.5,269.1 511.9,271.3 512.4,273.4 513.7,271.1 513.8,268.6 514.3,266.1 515.0,264.0 513.9,261.9 514.4,259.7 513.7,257.6 514.1,255.5 515.0,253.3 513.9,251.2 514.8,249.0 514.6,246.9 515.3,244.8 515.3,242.6 514.1,240.5 514.4,238.4 515.4,236.2 514.5,234.1 514.3,231.9 515.4,229.8 515.0,227.7 514.6,225.5 515.0,223.4 514.8,221.3 514.9,219.1 515.0,217.0 514.5,214.9 515.2,212.7 515.7,210.6 515.2,208.5 515.5,206.3 514.8,204.2 514.7,202.0 514.5,199.9 515.9,197.8 514.7,195.6 515.1,193.5 515.5,191.4 515.7,189.2 515.5,187.1 515.3,184.9 515.9,182.8 515.4,180.7 516.0,178.5 514.9,176.4 515.9,174.3 515.0,172.1 515.4,170.0 515.5,167.9 515.2,165.7 515.6,163.6 516.2,161.4 515.1,159.3 515.8,157.2 515.5,155.0 516.8,153.0 516.2,150.9 516.3,148.8 517.2,146.7 517.1,144.6 516.4,142.5 517.2,140.4 517.2,138.3 517.7,140.4 516.9,142.5 517.2,144.6 516.9,146.7 517.9,148.8 516.8,151.0 517.8,153.1 516.9,155.2 517.5,157.3 516.9,159.4 518.0,161.5 518.1,163.6 517.6,165.7 516.9,167.9 517.6,170.0 517.6,172.1 518.1,174.2 517.6,176.3 517.8,178.4 517.1,180.5 517.4,182.6 517.8,184.7 518.2,186.8 518.3,189.0 517.1,191.1 517.7,193.2 518.2,195.3 517.4,197.4 518.3,199.5 518.0,201.6 517.4,203.7 518.5,205.8 518.5,208.0 518.6,210.1 518.5,212.2 518.2,214.3 518.3,216.4 518.4,218.5 518.8,220.6 518.2,222.7 518.2,224.9 517.8,227.0 518.5,229.1 518.1,231.2 518.5,233.3 517.9,235.4 518.7,237.5 518.3,239.6 518.4,241.7 518.4,243.9 518.3,246.0 518.4,248.1 518.7,250.2 518.0,252.3 517.8,254.4 518.4,256.5 518.3,258.6 518.2,260.7 518.8,262.9 518.5,265.0 518.7,267.1 518.7,269.2 518.8,271.3 518.7,273.4 518.8,275.6 519.4,277.7 519.6,279.9 519.8,282.1 519.4,284.3 520.1,286.5 519.5,288.7 519.5,290.9 519.9,293.0 520.4,295.2 520.9,297.4 520.3,299.6 521.4,301.7 521.6,303.9 521.5,306.1 521.9,308.3 522.3,306.0 522.1,303.7 522.8,301.5 523.0,299.3 522.4,296.9 522.5,294.7 522.9,292.4 523.4,290.2 523.3,287.9 523.6,285.8 522.9,283.7 523.3,281.5 524.0,279.4 524.2,277.3 523.7,275.2 524.0,273.1 524.1,270.9 523.3,268.8 523.1,266.7 523.9,264.5 523.6,262.4 524.1,260.3 523.5,258.2 523.8,256.0 524.3,253.9 523.4,251.8 523.8,249.7 523.5,247.5 524.1,245.4 524.4,243.3 524.8,241.2 524.5,239.0 523.7,236.9 524.1,234.8 524.3,232.7 524.5,230.5 524.6,228.4 525.0,226.3 525.0,224.2 524.0,222.0 524.0,219.9 525.2,217.8 524.1,215.6 525.2,213.5 524.1,211.4 524.8,209.3 524.2,207.1 524.2,205.0 524.5,202.9 524.8,200.8 525.3,198.6 525.2,196.5 524.7,194.3 524.5,192.2 524.9,190.0 524.7,187.9 524.9,185.7 525.3,183.6 525.3,181.4 526.0,179.3 524.9,177.1 525.6,175.0 525.7,172.8 525.2,170.7 525.5,168.5 525.3,166.4 526.4,164.3 525.7,162.1 525.4,159.9 526.0,157.8 526.1,155.7 526.7,153.5 526.2,151.4 526.7,149.3 526.1,147.1 527.2,145.1 526.1,142.9 527.2,140.8 526.4,138.6 527.6,136.6 526.9,134.4 527.8,132.4 528.0,130.3 527.7,128.1 528.2,126.0 527.5,123.7 528.1,121.6 527.8,119.4 528.9,117.2 529.4,115.1 528.9,112.9 529.3,110.7 529.5,108.5 529.4,106.3 529.9,108.4 529.6,110.6 529.7,112.7 529.1,114.8 529.6,116.9 529.7,119.0 529.4,121.2 529.9,123.3 530.1,125.4 529.9,127.5 530.2,129.6 529.3,131.7 529.6,133.9 529.4,136.0 529.5,138.1 530.2,140.2 529.2,142.3 529.2,144.5 530.3,146.6 529.8,148.7 529.3,150.8 529.8,152.9 529.2,155.1 529.4,157.2 529.5,159.3 529.2,161.4 529.4,163.5 529.6,165.6 530.4,167.8 529.9,169.9 529.5,172.0 529.8,174.1 529.7,176.2 530.1,178.4 529.4,180.5 530.2,182.6 529.7,184.7 530.0,186.8 530.4,189.0 530.6,191.1 530.4,193.2 530.2,195.3 530.0,197.4 530.6,199.5 530.6,201.7 529.6,203.8 529.3,205.9 530.1,208.0 530.1,210.1 529.9,212.3 530.6,214.4 530.0,216.5 529.8,218.6 529.5,220.7 529.9,222.9 530.0,225.0 530.2,227.1 529.6,229.2 530.1,231.3 530.2,233.5 529.8,235.6 530.3,237.7 530.8,239.8 530.1,241.9 529.7,244.1 530.4,246.2 530.8,248.3 530.8,250.4 529.7,252.5 530.8,254.6 530.1,256.8 530.3,258.9 529.8,256.7 530.4,254.6 531.0,252.5 530.0,250.3 530.2,248.2 530.6,246.1 530.6,243.9 530.6,241.8 530.4,239.6 530.0,237.5 530.8,235.4 530.3,233.2 530.9,231.1 530.6,229.0 530.4,226.8 531.5,224.7 530.6,222.6 531.5,220.4 530.8,218.3 530.9,216.1 530.6,214.0 530.5,211.9 531.3,209.7 531.0,207.6 531.2,205.5 530.6,203.3 531.1,201.2 531.4,199.1 531.5,196.9 531.4,194.8 531.1,192.6 531.5,190.5 531.4,188.4 531.3,186.2 531.3,184.1 531.6,182.0 531.1,179.9 530.8,177.8 531.0,175.7 532.2,173.6 532.1,171.5 532.0,169.4 531.2,167.3 532.1,165.2 532.1,163.1 531.7,161.0 531.4,158.9 531.2,156.8 532.5,154.7 532.5,152.6 532.3,150.5 531.8,148.3 532.2,146.2 532.5,144.1 532.0,142.0 531.4,139.9 532.7,137.8 532.1,135.7 532.4,133.6 532.3,131.5 531.5,129.4 532.1,127.3 531.5,125.2 531.9,123.1 532.9,121.0 532.5,118.9 532.4,116.8 531.8,114.6 532.6,112.6 532.5,110.4 532.6,108.3 532.7,106.2 533.1,104.1 532.4,102.0 532.7,99.9 532.6,97.8 532.7,95.7 532.9,93.6 532.2,91.5 532.1,89.4 532.2,87.3 532.1,85.2 532.8,83.1 532.7,85.2 533.1,87.3 532.4,89.4 533.3,91.5 533.4,93.6 532.4,95.7 533.5,97.8 533.2,99.9 532.7,102.0 532.9,104.1 533.4,106.2 533.6,108.3 533.0,110.4 533.5,112.5 532.7,114.6 533.5,116.7 532.6,118.8 533.9,120.9 533.1,123.0 533.6,125.1 533.3,127.2 533.4,129.3 532.9,131.4 533.8,133.5 533.0,135.6 534.1,137.7 533.3,139.8 533.0,141.9 533.6,144.0 533.1,146.1 533.8,148.2 533.8,150.3 533.0,152.4 533.0,154.5 533.3,156.6 534.1,158.7 533.1,160.8 533.9,162.9 533.3,165.0 534.1,167.1 534.2,169.2 534.2,171.3 533.6,173.4 533.2,175.6 533.9,177.6 534.5,179.7 533.7,181.9 533.5,184.0 533.6,186.1 534.8,188.1 534.4,190.2 533.7,192.4 533.9,194.5 533.5,196.6 533.6,198.7 534.2,200.8 533.8,202.9 534.0,205.0 534.5,207.2 535.0,209.3 534.0,211.4 534.5,213.6 533.9,215.7 535.0,217.8 534.0,220.0 534.3,222.1 534.0,224.2 534.3,226.4 534.7,228.5 534.6,230.6 535.3,232.8 535.1,234.9 534.7,237.0 535.2,239.2 535.0,241.3 534.7,243.4 534.8,245.6 534.4,247.7 535.0,249.8 534.9,252.0 535.1,254.1 534.7,256.3 534.9,258.4 534.5,260.5 535.6,262.6 535.7,264.8 535.5,266.9 535.2,269.1 535.5,266.9 535.5,264.8 535.0,262.6 535.2,260.5 535.7,258.4 535.3,256.2 536.1,254.1 535.2,252.0 536.2,249.9 535.3,247.7 536.2,245.6 536.3,243.4 536.6,241.3 536.6,239.2 535.4,237.0 536.4,234.9 536.8,232.8 536.7,230.6 536.3,228.5 536.7,226.4 536.1,224.2 536.9,222.1 536.4,220.0 537.3,217.8 536.0,215.7 536.9,213.6 536.3,211.4 537.2,209.3 537.6,207.2 537.0,205.0 537.5,202.9 536.7,200.7 536.5,198.6 537.6,196.5 537.3,194.3 537.1,192.2 536.7,190.1 537.5,188.0 537.9,185.9 536.8,183.8 537.5,181.6 537.2,179.5 536.7,177.4 536.8,175.3 536.8,173.2 537.2,171.0 537.2,168.9 537.5,166.8 537.6,164.7 538.0,162.6 538.0,160.5 537.1,158.3 537.7,156.2 538.1,154.1 537.2,152.0 537.7,149.9 538.3,147.7 537.8,145.6 537.9,143.5 537.4,141.4 538.3,139.3 538.1,137.1 537.4,135.0 537.4,132.9 537.0,130.8 537.7,128.7 538.3,126.5 538.2,124.4 537.3,122.3 537.4,120.2 537.3,118.1 537.5,115.9 537.4,113.8 537.4,111.7 537.9,109.6 538.5,107.5 538.4,105.4 538.1,103.2 537.7,101.1 538.5,99.0 537.6,96.9 537.3,94.8 538.0,92.6 537.7,90.5 538.5,88.4 538.5,86.3 538.0,84.2 537.9,82.1 538.6,80.0 538.5,77.9 538.9,75.8 538.5,73.7 538.1,71.6 538.1,69.5 538.4,67.4 538.9,65.3 539.2,63.2 539.0,61.1 538.3,59.0 539.7,56.9 539.1,54.8 539.3,52.7 538.9,50.5 539.0,48.4 539.0,46.3 539.6,44.2 540.1,42.2 539.3,40.0 539.5,37.9 539.5,35.8 539.2,33.7 539.9,31.6 540.6,33.7 539.6,35.8 539.5,37.9 540.8,40.0 540.9,42.1 540.4,44.2 540.7,46.3 540.9,48.4 540.1,50.5 541.1,52.6 541.2,54.7 540.3,56.8 540.8,58.9 540.7,61.0 540.9,63.1 541.8,65.2 540.6,67.3 541.3,69.4 540.9,67.2 541.4,65.2 542.0,63.1 542.7,61.1 543.1,59.0 542.0,56.7 542.4,54.7 542.5,52.5 543.4,50.5 544.1,52.7 543.3,55.1 544.8,57.3 544.4,59.6 545.1,61.9 545.7,64.1 545.3,66.5 545.6,68.6 545.7,70.7 545.3,72.9 544.8,75.0 545.4,77.1 545.4,79.2 545.8,81.4 545.9,83.5 545.5,85.6 545.7,87.7 545.0,89.9 546.0,92.0 546.3,94.1 546.3,96.2 545.9,98.3 546.1,100.5 545.9,102.6 545.2,104.7 545.5,106.8 545.7,109.0 545.4,111.1 545.3,113.2 546.5,115.3 545.7,117.5 546.5,119.6 546.0,121.7 545.9,119.5 545.9,117.4 545.8,115.2 545.5,113.1 545.8,110.9 546.5,108.8 546.9,106.7 546.9,104.5 545.7,102.3 546.5,100.2 546.1,98.0 546.6,95.9 546.6,93.8 546.2,91.6 546.1,89.4 546.7,87.3 546.1,85.1 547.3,83.0 547.4,80.9 546.2,78.7 547.4,76.6 547.5,74.4 546.4,72.2 547.2,70.1 547.1,68.0 547.2,70.1 547.6,72.2 546.8,74.4 547.2,76.5 546.8,78.6 546.7,80.8 546.7,82.9 547.1,85.0 546.9,87.2 548.0,89.3 547.7,91.4 547.5,93.6 547.5,95.7 547.7,97.8 547.1,100.0 547.5,102.1 547.1,104.2 547.7,106.4 547.0,108.5 547.9,110.6 547.0,112.8 547.7,114.9 547.9,117.0 547.6,119.2 548.4,121.3 547.6,123.4 547.7,125.6 547.5,127.7 548.5,129.8 548.1,132.0 547.9,134.1 548.0,136.2 547.4,134.1 548.4,132.0 548.6,129.8 548.3,127.7 548.5,125.5 548.8,123.4 548.1,121.2 548.2,119.1 548.8,117.0 548.5,114.8 548.0,112.7 548.4,110.5 548.7,108.4 548.8,106.3 547.8,104.1 547.9,102.0 548.7,99.8 548.7,97.7 548.8,95.6 548.5,93.4 548.3,91.3 549.2,89.1 548.2,87.0 548.3,84.8 547.9,82.7 548.0,80.6 548.8,78.4 548.9,76.3 548.3,74.1 549.0,72.0 548.3,69.9 548.6,67.7 549.0,65.6 549.2,63.4 548.8,61.3 549.3,59.2 548.8,57.0 548.9,54.9 548.7,57.0 548.5,59.1 548.9,61.2 548.9,63.3 548.4,65.4 549.7,67.5 549.7,69.6 549.7,71.7 549.3,73.9 549.0,76.0 549.0,78.1 548.9,80.2 549.8,82.3 548.7,84.4 549.6,86.5 548.6,88.6 549.5,90.7 548.8,92.9 549.0,95.0 550.0,97.1 549.3,99.2 549.5,101.3 548.7,103.4 549.8,105.5 549.6,107.6 549.9,109.7 550.1,111.8 549.4,114.0 549.3,116.1 550.0,118.2 549.1,120.3 549.9,122.4 549.0,124.5 549.4,126.6 549.0,128.7 549.7,130.8 549.2,133.0 549.5,135.1 549.4,137.2 549.8,139.3 549.7,141.4 549.8,143.5 549.5,141.3 549.6,139.2 550.4,137.1 549.3,134.9 550.3,132.8 550.2,130.6 549.4,128.4 549.8,126.3 550.4,124.2 550.0,122.0 550.0,119.8 550.0,117.7 549.6,115.5 550.8,113.4 550.5,111.2 549.8,109.1 549.9,106.9 550.5,104.8 550.7,102.6 550.3,100.5 549.9,98.3 550.1,96.2 550.4,94.0 550.9,91.9 550.3,89.7 550.1,91.8 550.8,93.9 551.1,96.0 550.2,98.2 550.8,100.3 550.0,102.4 551.0,104.5 549.9,106.6 550.2,108.7 551.0,110.8 551.3,112.9 550.3,115.0 551.3,117.1 551.2,119.2 551.0,121.3 551.3,123.4 551.4,125.5 550.8,127.6 550.7,129.7 550.5,131.8 551.6,133.9 551.6,136.0 551.1,138.1 550.7,140.2 551.5,142.3 551.0,144.4 551.7,146.5 550.6,148.7 551.2,150.8 551.8,148.6 551.9,146.5 551.1,144.4 550.7,142.3 551.8,140.1 551.3,138.0 551.2,135.9 551.3,133.8 551.7,131.7 551.8,129.5 551.4,127.4 551.2,125.3 551.0,123.1 550.9,121.0 552.2,118.9 552.2,116.8 551.0,114.7 551.7,112.5 552.3,110.4 551.8,108.3 552.3,106.2 551.2,104.0 552.0,101.9 552.2,99.8 551.2,97.7 551.8,95.5 552.2,97.7 551.2,99.8 552.2,101.9 551.7,104.0 551.3,106.1 551.6,108.2 551.5,110.3 552.2,112.4 551.5,114.5 552.5,116.6 552.1,118.7 552.0,120.8 551.7,122.9 552.7,125.0 552.7,127.1 552.3,129.3 552.6,131.4 551.5,133.5 552.2,135.6 552.0,137.7 552.3,139.8 551.7,141.9 551.6,144.0 551.7,146.1 552.8,148.2 552.1,150.3 551.9,152.4 551.7,154.5 552.2,156.6 552.4,158.8 552.8,160.9 553.1,163.0 553.1,165.1 552.7,167.2 552.1,169.3 552.6,171.4 552.4,173.5 552.8,175.6 551.8,177.7 552.5,179.8 552.0,182.0 553.0,184.1 552.9,186.3 553.3,188.4 553.0,190.6 553.3,192.7 552.6,194.9 553.3,197.0 552.8,199.2 553.8,201.3 552.9,203.5 553.1,205.6 553.6,207.7 553.0,209.9 553.0,212.1 553.0,214.2 553.3,216.3 553.7,218.5 553.6,220.6 553.4,222.8 554.1,224.9 553.4,227.1 554.0,229.2 553.9,231.5 554.4,233.6 554.7,235.8 555.4,237.9 556.1,240.0 555.1,242.2 555.7,244.3 555.4,246.5 555.5,248.6 555.9,250.7 555.5,252.9 555.4,255.0 555.3,257.1 556.7,259.2 555.5,261.4 555.8,263.5 556.1,265.6 555.9,267.8 556.6,269.9 556.6,272.0 557.1,274.1 556.0,276.3 556.2,278.4 556.7,280.6 556.6,282.7 556.4,284.8 557.3,286.9 556.8,289.1 556.7,291.2 556.9,293.3 556.5,295.5 557.5,297.6 557.0,299.7 557.3,301.9 557.8,299.7 557.4,297.5 558.3,295.4 557.6,293.1 557.4,290.9 557.5,288.8 557.9,286.6 558.9,284.5 558.9,282.3 559.0,280.1 558.7,277.9 558.6,275.7 558.9,273.5 559.0,271.4 559.6,269.2 559.1,267.0 559.3,269.2 559.4,271.4 559.1,273.7 559.1,275.9 559.3,278.1 560.2,280.3 559.7,282.6 560.3,284.8 560.4,287.0 560.6,289.3 561.0,291.5 561.0,293.7 560.3,296.0 560.3,298.2 560.8,300.4 560.3,298.3 561.5,296.2 560.8,294.0 561.3,291.9 560.3,289.8 560.4,287.6 561.4,285.5 560.4,283.4 560.4,281.2 561.3,279.1 560.4,277.0 561.0,274.9 561.6,272.7 560.6,270.6 561.7,268.5 561.8,266.3 561.9,264.2 561.4,262.1 561.7,260.0 560.8,257.8 561.4,255.7 561.9,253.6 561.9,251.4 560.9,249.3 561.9,247.2 561.3,245.0 561.5,242.9 561.9,240.8 561.8,238.7 561.3,236.5 562.1,234.4 562.2,232.3 562.1,230.1 561.0,228.0 561.0,225.9 561.8,223.8 561.2,221.6 561.2,219.5 562.3,217.4 561.2,215.2 561.5,213.1 561.6,211.0 562.5,208.9 562.5,206.7 562.3,204.6 561.9,202.5 561.4,200.3 562.6,198.2 561.6,196.1 562.2,193.9 562.5,191.8 562.1,189.7 562.7,187.6 562.8,185.4 562.0,183.3 562.5,181.2 561.7,179.0 562.2,176.9 562.4,179.0 562.1,181.2 562.7,183.3 562.5,185.4 562.0,187.6 562.8,189.7 561.9,191.9 563.0,194.0 562.9,196.1 562.4,198.3 563.0,200.4 562.1,202.5 562.8,204.7 563.2,206.8 562.5,208.9 562.8,211.1 562.6,213.2 563.3,215.3 563.4,217.5 563.1,219.6 562.9,221.7 563.3,223.9 563.3,226.0 562.5,228.2 563.4,230.3 563.2,232.4 562.5,234.6 562.4,236.7 562.7,238.8 563.6,240.9 562.8,243.1 563.8,245.2 562.8,247.4 563.6,249.5 563.7,251.6 563.4,253.8 563.9,255.9 563.1,258.0 563.0,260.2 563.2,262.3 563.1,264.4 564.0,266.6 563.8,268.7 563.1,270.9 563.8,273.0 563.3,275.1 563.6,277.3 564.2,279.4 563.7,281.5 565.0,284.0 565.6,286.8 566.2,284.6 566.2,282.5 565.8,280.4 565.0,278.2 565.0,276.1 566.3,274.0 566.1,271.8 566.0,269.7 565.4,267.6 566.3,265.4 565.1,263.3 566.0,261.2 566.0,259.1 565.6,256.9 566.2,254.8 565.4,252.7 566.5,250.5 566.4,248.4 565.6,246.3 565.6,244.1 566.3,242.0 565.7,239.9 566.0,237.7 566.2,235.6 566.5,233.5 566.3,231.3 565.6,229.2 565.7,227.1 565.4,225.0 566.4,222.8 566.5,220.7 565.6,218.6 566.0,216.4 565.8,214.3 565.7,212.2 565.4,210.0 566.2,207.9 566.7,205.8 565.6,203.6 566.5,201.5 566.5,199.4 566.2,197.3 566.6,195.1 566.0,193.0 566.3,190.9 565.6,188.7 565.7,186.6 566.3,184.5 566.7,182.3 566.2,180.2 566.9,178.1 566.2,175.9 566.1,173.8 566.7,171.7 566.9,169.6 566.9,167.4 566.3,165.3 566.6,163.2 566.0,161.1 566.2,159.0 566.6,156.9 565.9,154.8 566.4,152.7 567.1,150.6 566.4,148.5 567.0,146.4 566.6,144.3 566.4,142.2 566.7,140.1 566.7,138.0 566.7,135.9 566.8,133.8 567.7,131.7 567.3,129.6 567.3,127.5 567.0,125.4 567.1,123.3 567.8,121.2 567.2,119.1 567.0,116.9 567.4,114.9 567.9,112.8 568.3,110.7 568.2,108.6 567.8,106.5 568.0,108.6 568.6,110.8 567.8,113.0 569.2,115.1 568.7,117.4 568.3,119.6 569.4,121.7 569.3,123.9 569.8,126.0 569.9,128.2 570.0,130.4 570.6,132.6 569.9,134.7 569.9,136.9 570.7,139.0 571.0,141.1 570.7,143.3 570.6,145.4 570.5,147.6 570.2,149.8 570.6,151.9 571.3,154.0 571.4,156.2 570.9,158.3 571.3,160.5 570.5,162.7 570.6,164.8 570.6,166.9 570.9,169.1 571.6,171.2 570.8,173.4 571.6,175.5 571.8,177.7 571.4,179.8 573.6,178.4 574.3,180.5 573.9,182.6 573.1,184.8 573.5,186.9 573.6,189.0 574.1,191.2 574.1,193.3 573.5,195.5 573.4,197.6 574.4,199.7 574.1,201.8 574.3,204.0 574.7,206.1 574.3,208.2 575.0,210.4 574.0,212.5 574.6,214.6 574.4,216.8 574.2,218.9 575.0,221.0 574.1,223.2 574.1,225.3 574.9,227.4 575.5,229.6 574.8,231.7 574.8,233.9 575.5,236.0 574.7,238.1 575.5,240.2 575.6,242.4 575.9,244.5 575.3,246.7 577.2,249.6 577.2,251.7 577.2,253.9 577.5,256.0 578.2,258.1 578.4,260.2 578.9,262.3 578.9,264.5 579.0,266.6 579.3,268.7 579.7,270.8 579.4,273.0 580.1,275.1 579.6,277.3 580.5,279.4 580.1,281.6 580.1,283.7 579.7,281.5 579.9,279.3 580.8,277.2 580.1,274.9 581.2,272.8 581.2,270.6 581.2,268.5 581.2,266.3 581.6,264.1 581.1,261.9 581.6,259.7 582.7,257.5 584.0,255.4 583.5,253.2 583.6,251.1 584.3,249.0 584.7,246.9 585.3,244.8 585.3,242.6 584.3,240.4 585.6,238.4 585.0,236.2 585.2,234.1 585.0,231.9 585.0,229.8 585.6,227.7 585.9,225.5 585.9,223.4 586.5,221.3 586.3,219.2 585.7,217.0 586.3,214.9 586.6,212.8 585.9,210.6 586.0,208.5 586.0,206.4 587.0,204.2 585.9,202.1 586.7,200.0 586.3,197.8 586.9,195.7 586.6,193.6 586.7,191.4 587.1,193.5 586.3,195.7 586.8,197.8 587.6,199.9 587.4,202.0 587.5,204.1 587.4,206.2 587.7,208.3 587.1,210.5 587.2,212.6 587.5,214.7 587.8,216.8 587.3,218.9 587.8,221.0 587.3,223.1 587.2,225.3 587.5,227.4 587.2,229.5 588.2,231.6 587.5,233.7 588.2,235.8 588.1,237.9 588.7,235.8 588.4,233.6 588.0,231.5 588.0,229.3 588.9,227.2 588.4,225.0 588.0,222.9 588.7,220.7 588.1,218.5 588.0,216.4 588.4,214.2 589.1,212.1 588.4,209.9 589.4,207.8 588.3,205.6 588.8,203.5 588.3,201.3 589.3,199.2 589.3,197.0 589.6,194.9 589.7,192.7 589.9,190.6 589.2,188.4 589.2,186.3 589.6,184.1 589.5,182.0 589.6,179.8 589.2,177.6 589.7,175.5 589.7,173.3 590.5,171.1 589.5,168.9 590.5,166.8 590.5,164.6 590.9,162.4 590.5,160.2 590.8,158.0 590.1,155.8 591.3,153.7 590.2,151.5 591.1,149.3 590.5,147.1 590.7,144.9 591.5,142.8 591.3,140.6 591.6,142.7 591.3,144.9 592.1,147.0 592.4,149.1 592.2,151.2 592.1,153.4 591.8,155.5 591.8,157.7 592.6,159.8 592.0,161.9 592.6,164.0 593.3,166.1 592.9,168.3 592.8,170.4 593.2,172.6 593.9,170.2 593.4,167.6 594.2,165.3 595.0,163.2 594.6,160.9 593.9,158.7 594.5,156.6 595.4,154.4 594.4,152.2 594.9,150.0 595.5,147.9 594.9,145.6 595.9,143.5 595.8,141.3 595.5,139.1 596.4,137.0 596.1,134.8 596.8,136.9 596.7,139.1 595.9,141.2 596.2,143.4 596.9,145.5 596.7,147.6 596.1,149.8 597.1,151.9 597.3,154.1 596.8,156.2 597.3,158.4 596.7,160.5 597.4,162.7 597.5,164.8 597.0,167.0 596.6,169.1 597.2,171.2 596.7,173.4 596.7,175.6 597.1,177.7 597.6,179.8 597.5,182.0 597.8,184.1 598.2,186.2 597.6,188.4 598.1,190.5 597.6,192.6 597.8,194.8 597.7,196.9 597.6,199.0 597.7,201.2 597.2,203.3 597.7,205.5 598.4,207.6 597.3,209.7 597.5,211.9 598.1,214.0 598.0,216.1 597.9,218.3 598.1,220.4 597.8,222.6 597.3,224.7 598.7,226.8 597.5,229.0 597.4,231.1 597.6,233.2 598.2,235.4 597.9,237.5 598.2,239.6 598.4,241.8 598.7,243.9 598.6,246.0 598.3,248.2 598.6,250.3 598.3,252.5 598.8,254.6 598.4,256.8 599.0,259.0 598.3,261.2 599.5,263.3 599.4,265.5 599.2,267.7 599.7,269.9 598.9,272.1 599.5,274.3 600.2,276.4 600.2,278.6 599.6,280.8 600.3,283.0 600.4,285.1 600.6,287.3 601.0,289.5 600.5,291.7 601.1,289.6 600.8,287.3 600.9,285.1 601.0,282.9 601.8,280.8 602.4,278.7 603.0,276.5 602.6,274.3 603.3,272.1 602.1,270.0 602.9,267.8 603.0,265.7 603.1,263.6 603.1,261.4 603.8,259.3 603.5,257.2 603.3,255.0 604.1,252.9 603.6,250.8 603.0,248.6 603.9,246.5 604.5,244.4 604.1,242.2 603.6,240.1 604.1,237.9 604.6,235.8 603.5,233.7 604.7,231.5 603.7,229.4 604.7,227.3 603.8,225.2 603.8,223.0 604.0,220.9 604.3,218.8 604.6,216.6 604.4,214.5 603.8,212.4 605.0,210.3 604.9,208.1 604.3,206.0 603.8,203.9 604.4,201.7 605.2,199.6 605.2,197.5 604.1,195.3 604.2,193.2 605.3,191.1 604.4,189.0 605.0,186.8 605.3,184.7 605.2,182.6 605.2,180.5 605.0,178.3 604.8,176.2 604.6,178.5 605.7,180.7 605.0,183.1 606.2,185.2 606.5,187.5 605.9,189.8 605.8,192.2 606.7,194.3 606.4,196.5 606.7,198.7 607.5,200.8 606.9,202.9 607.5,205.1 607.0,207.2 607.3,209.4 607.7,211.5 607.2,213.7 606.9,215.8 607.1,218.0 608.0,220.1 606.9,222.3 607.0,224.4 607.9,226.6 607.1,228.7 608.2,230.9 608.0,233.0 607.4,235.2 608.6,237.3 608.2,239.4 608.8,241.6 608.2,243.8 607.9,241.6 608.1,239.4 608.9,237.2 608.7,235.0 608.1,232.8 609.1,230.7 609.2,228.5 608.6,226.3 608.5,224.1 609.4,222.0 609.8,219.8 608.9,217.6 609.1,215.4 609.2,213.2 610.2,211.1 609.6,208.9 609.1,206.6 609.2,204.3 609.5,202.1 610.0,199.8 610.8,197.6 609.7,195.3 610.8,193.1 610.6,190.8 610.6,188.5 610.2,190.7 610.1,192.9 610.5,195.0 611.2,197.1 610.4,199.3 611.7,201.4 610.4,203.6 611.3,205.7 611.5,207.9 610.7,210.0 611.3,212.2 611.6,214.3 611.7,216.4 611.6,218.6 611.9,220.7 611.6,222.9 611.8,225.0 612.1,227.2 612.5,229.3 612.4,231.5 611.6,233.6 611.7,235.8 612.1,237.9 612.5,241.0 614.0,243.8 614.6,245.8 613.7,248.0 613.9,250.1 614.8,252.2 614.1,254.4 614.3,256.5 614.6,258.6 615.2,260.7 614.9,262.8 616.0,264.8 615.7,267.0 616.3,269.2 616.4,271.4 615.8,273.7 615.5,276.0 616.7,278.1 616.9,280.4 616.0,282.7 616.1,284.9 617.2,287.1 617.5,289.3 617.3,291.6 617.4,293.8 617.2,296.1 618.2,298.4 618.4,300.8 617.8,303.4 619.2,305.6 619.0,308.1 619.4,310.6 619.3,312.8 619.6,315.0 620.4,317.1 620.9,319.2 620.8,321.5 621.2,323.6 621.3,325.8 621.5,328.0 622.5,330.3 623.0,332.7 623.1,335.3 624.4,337.5 624.8,335.0 626.0,332.9 627.3,330.9 628.1,328.7 627.8,326.4 628.5,324.2 627.7,321.8 629.2,319.7 628.1,317.3 629.4,315.1 628.9,312.8 629.5,310.6 630.0,308.4 630.3,306.1 630.4,303.9 630.8,301.7 630.0,299.4 631.0,297.2 630.9,294.9 630.4,292.7 630.6,290.4 630.6,288.2 631.9,286.0 631.3,283.7 631.7,281.5 631.5,279.4 631.2,277.3 632.2,275.2 631.8,273.1 631.4,271.0 632.2,268.8 631.9,266.7 632.2,264.6 632.1,262.5 631.8,260.4 631.7,258.3 632.4,256.2 631.5,254.0 631.4,251.9 632.5,249.8 632.2,247.7 632.6,245.6 632.2,243.5 632.7,241.4 631.9,239.3 631.4,237.1 632.3,235.0 631.7,232.9 631.9,230.8 631.9,228.7 631.9,226.6 632.2,224.5 632.3,222.4 631.6,220.2 632.7,218.1 632.0,216.0 632.6,213.9 632.0,211.8 631.7,209.7 632.0,207.6 631.9,205.4 632.0,203.3 632.6,201.2 632.6,199.1 631.9,197.0 632.7,194.9 632.6,192.8 631.9,190.6 632.4,188.5 632.9,186.5 632.5,184.3 633.7,182.3 633.6,180.1 634.4,178.1 635.2,176.1 635.3,174.0 635.3,171.8 635.7,174.0 636.1,176.2 637.0,178.3 637.1,180.5 637.5,182.7 638.2,184.8 637.6,187.0 637.0,189.1 637.7,191.2 637.4,193.3 637.3,195.5 637.8,197.6 638.5,199.7 637.3,201.8 638.1,204.0 638.2,206.1 638.8,208.2 637.9,210.3 637.8,212.5 638.3,214.6 638.8,216.7 638.2,218.8 639.0,220.9 638.8,223.1 639.0,225.2 638.7,227.3 638.5,229.4 638.7,231.6 639.3,233.7 639.3,235.8 639.0,237.9 639.5,240.0 639.1,242.2 638.6,244.3 639.1,246.4 638.9,248.5 640.1,250.6 640.3,252.7 639.6,254.9 640.2,257.0 640.1,259.1 639.6,261.3 640.6,263.3 639.6,265.5 640.4,267.6 640.2,269.7 641.1,271.8 641.1,273.9 640.4,276.1 641.3,278.2 640.6,280.3 641.1,282.4 641.2,284.5 640.4,286.7 641.1,288.8 641.0,291.1 642.2,293.1 642.4,295.3 642.9,297.5 643.0,299.7 642.7,297.4 644.1,295.2 643.9,292.9 644.2,290.6 644.0,288.3 643.9,286.0 644.7,283.8 644.8,281.5 644.4,279.4 645.4,277.3 645.4,275.1 645.5,273.0 644.4,270.9 644.6,268.7 645.4,266.6 644.8,264.5 645.0,262.4 645.2,260.2 644.5,258.1 644.9,256.0 644.4,253.8 644.3,251.7 645.6,249.6 645.3,247.5 645.2,245.3 644.6,243.2 644.7,241.1 645.6,239.0 645.7,236.8 645.3,234.7 645.7,232.6 644.9,230.4 645.6,228.3 645.4,226.2 644.7,224.1 645.7,221.9 644.5,219.8 644.8,217.7 645.2,215.5 645.8,213.4 645.0,211.3 644.7,209.2 645.5,207.0 645.5,204.9 644.7,202.8 645.5,200.6 645.1,198.5 645.2,196.4 645.9,194.3 645.8,192.1 646.0,190.0 645.6,187.9 645.2,185.7 645.2,183.6 644.9,181.5 644.8,179.4 645.4,177.2 644.9,175.1 645.5,173.0 645.0,170.8 645.5,168.7 646.0,166.6 645.4,164.5 646.1,162.3 645.5,160.2 647.7,157.3 648.1,159.5 648.5,161.8 647.8,164.1 648.4,166.3 648.2,168.6 648.4,170.8 648.8,173.1 649.0,175.3 649.4,177.5 649.1,179.8 648.5,182.0 649.6,184.1 649.2,186.3 648.7,188.4 648.8,190.6 648.6,192.7 649.1,194.8 649.6,197.0 648.8,199.1 649.9,201.3 648.7,203.4 649.4,205.6 649.1,207.7 648.8,209.9 649.4,212.0 649.0,214.2 648.9,216.3 649.4,218.5 648.9,220.6 649.8,222.7 650.0,224.9 649.2,227.0 649.1,229.2 649.7,231.3 650.2,233.5 649.7,235.6 650.0,237.8 650.2,239.9 650.1,242.1 649.5,244.2 649.8,246.4 649.2,248.5 650.1,250.6 649.6,252.8 650.0,254.9 650.0,257.1 650.2,259.2 649.4,261.4 650.1,263.5 649.6,265.7 649.5,267.8 649.8,270.0 649.6,272.1 649.9,274.3 649.6,276.5 650.5,278.6 649.5,280.8 649.9,283.0 649.5,285.2 650.5,287.4 650.6,289.6 649.8,291.8 650.3,294.0 650.0,296.2 649.5,298.5 650.7,300.7 650.7,302.9 651.0,305.2 650.9,307.4 651.6,309.6 650.7,312.0 651.9,314.1 651.2,316.5 651.3,318.7 652.2,320.9 653.0,323.2 653.0,325.7 653.5,328.1 654.6,330.3 655.8,328.1 658.0,326.7 659.0,324.5 658.6,322.0 658.9,319.7 659.9,317.5 659.9,315.1 659.4,312.9 659.3,310.7 660.6,308.6 659.3,306.4 660.2,304.2 660.1,302.0 660.0,299.8 660.5,297.7 660.6,295.5 659.5,293.3 660.3,291.1 660.7,288.9 660.1,286.7 659.7,284.6 660.4,282.4 659.6,280.2 660.2,278.0 660.4,275.9 660.0,273.7 660.5,271.5 660.9,269.3 660.5,267.1 660.5,265.0 660.6,262.9 660.1,260.7 659.9,258.6 660.6,256.5 660.3,254.3 660.9,252.2 660.2,250.0 660.7,247.9 660.9,245.8 661.3,243.6 660.3,241.5 661.5,239.4 660.5,237.2 661.6,235.1 661.5,233.0 661.6,230.8 661.7,228.7 660.6,226.5 661.0,224.4 661.4,222.3 661.0,220.1 661.5,218.0 661.9,215.9 661.0,213.7 661.2,211.6 662.0,209.4 661.3,207.3 661.0,205.2 661.9,203.0 661.6,200.9 661.9,203.0 661.6,205.2 662.3,207.3 661.7,209.4 661.4,211.6 661.9,213.7 662.1,215.8 661.5,218.0 661.9,220.1 662.0,222.3 662.5,224.4 661.8,226.5 661.7,228.7 662.8,230.8 662.5,232.9 662.0,235.1 662.8,237.2 661.8,239.4 662.8,241.5 662.7,243.6 662.5,245.8 663.0,247.9 661.9,250.1 662.5,252.2 662.7,254.3 662.4,256.5 662.3,258.6 662.6,260.7 662.5,262.9 662.5,265.0 662.8,267.1 662.9,269.3 663.2,271.5 663.4,273.7 662.7,275.9 663.1,278.0 662.3,280.2 663.3,282.4 662.6,284.6 663.1,286.8 663.5,288.9 663.2,291.1 662.9,293.3 662.9,295.5 663.4,297.6 663.6,299.8 663.7,302.0 663.1,304.2 663.0,306.4 662.7,308.5 663.3,310.7 663.6,312.9 663.4,315.1 663.3,317.5 663.9,319.8 664.2,322.1 665.5,324.3 665.3,326.7 665.8,329.3 667.3,331.5 668.2,334.0 669.8,336.0 671.8,337.6 675.4,336.9 676.9,335.3 679.1,334.7 681.0,333.3 683.4,333.2 684.4,331.0 686.3,329.6 686.8,327.4 687.7,325.5 689.2,323.8 690.7,321.6 691.2,319.0 692.1,316.5 692.6,314.3 694.7,313.0 695.0,310.7 697.2,307.8 700.1,306.4 703.0,304.9 703.9,302.9 705.2,301.2 705.9,299.1 707.1,296.8 707.7,294.2 708.8,291.8 710.0,289.5 710.9,287.2 711.0,284.6 711.0,282.4 711.0,280.3 711.1,278.2 711.8,276.1 711.4,273.9 710.9,271.8 710.9,269.6 711.9,267.5 711.2,265.4 712.2,263.3 712.0,261.1 711.5,259.0 711.4,256.8 712.3,254.7 712.2,252.6 711.7,250.4 712.9,248.3 712.3,246.1 712.1,244.0 712.8,241.8 712.5,239.7 712.6,237.5 712.9,235.3 712.4,233.2 711.9,231.0 712.1,228.8 713.3,226.7 712.8,224.5 712.0,222.4 712.2,220.2 712.2,218.0 712.4,215.9 713.0,213.7 713.4,211.6 713.0,209.4 712.9,207.2 713.5,205.1 712.4,202.9 713.6,200.8 713.2,198.6 712.7,196.4 713.5,194.3 712.7,192.1 713.3,190.0 713.2,187.8 713.3,189.9 713.8,192.1 712.7,194.2 713.8,196.3 713.6,198.4 713.3,200.6 713.8,202.7 714.1,204.8 713.8,206.9 713.8,209.1 713.2,211.2 713.6,213.3 713.1,215.5 714.3,217.6 713.4,219.7 713.2,221.9 713.2,224.0 714.2,226.1 714.5,228.2 713.6,230.4 714.1,232.5 713.9,234.6 714.7,236.7 713.5,238.9 714.2,241.0 714.4,243.2 713.7,245.5 715.1,247.6 714.8,249.9 714.6,252.1 714.8,254.3 715.1,256.5 714.1,258.8 714.8,261.0 714.3,263.2 714.9,265.4 714.6,267.7 714.9,269.9 715.7,272.1 715.0,274.3 715.0,276.5 715.4,278.8 716.5,275.9 717.1,272.9 717.3,270.6 717.0,268.2 718.3,266.0 718.7,263.7 718.3,261.3 717.7,259.2 717.7,257.1 718.2,255.0 718.7,252.9 718.3,250.8 718.8,248.7 718.9,246.5 718.6,244.4 718.6,242.3 718.7,240.2 718.3,238.1 718.1,236.0 719.1,233.9 718.2,231.7 719.0,229.6 718.6,227.5 718.9,225.4 719.0,223.3 719.2,221.2 719.1,219.1 718.4,216.9 719.1,214.8 719.2,212.7 718.9,210.6 718.3,208.5 719.4,206.4 719.2,204.3 718.6,202.1 718.5,200.0 719.2,197.9 719.0,195.8 718.7,193.7 719.4,191.6 719.6,189.5 719.1,187.3 719.4,185.2 719.1,183.1 718.7,181.0 719.4,178.9 719.3,176.8 719.5,174.7 719.0,172.6 718.8,170.4 719.7,168.3 719.3,166.1 719.4,164.0 719.6,161.9 719.1,159.7 719.6,157.6 719.7,155.5 719.8,153.3 719.3,151.2 718.6,149.0 718.9,146.9 718.8,144.8 718.8,142.6 719.1,140.5 719.5,138.4 720.0,136.2 718.8,134.1 720.0,132.0 719.5,129.8 719.9,127.7 719.9,125.6 719.3,123.4 719.8,121.3 719.9,119.1 719.3,117.0 720.1,114.9 720.1,112.7 718.9,110.6 720.1,108.5 719.5,106.3 720.3,104.2 719.1,102.0 720.2,99.9 719.7,97.8 719.4,95.6 719.7,93.5 720.2,91.4 719.7,89.2 719.7,87.1 720.4,85.0 720.3,82.8 719.5,80.7 719.9,78.5 719.8,76.4 719.5,74.3 719.5,72.1 719.4,70.0 719.5,67.9 719.9,65.7 720.0,63.6 719.8,61.4 720.5,59.3 719.8,57.2 720.1,55.0 721.2,53.0 720.7,50.8 720.3,48.7 721.3,46.6 720.2,44.4 720.7,42.3 720.6,40.1 721.1,38.0 721.2,35.9 722.0,33.8 721.5,31.6 722.9,31.6 723.0,33.7 722.4,35.8 722.4,37.9 723.7,40.0 723.6,42.1 722.7,44.3 723.4,46.3 723.2,48.5 723.0,50.6 723.3,52.7 722.8,54.8 724.0,56.9 723.7,59.0 724.0,61.1 723.7,63.2 722.7,65.3 724.1,67.4 723.4,69.5 723.9,71.6 723.2,73.7 724.0,75.8 723.3,77.9 723.6,80.0 723.0,82.1 724.3,84.2 723.7,86.3 723.2,88.4 723.8,90.5 723.8,92.6 723.9,94.8 723.2,96.9 723.4,99.1 723.5,101.3 724.0,103.4 724.1,105.6 724.2,107.7 723.3,109.9 724.5,112.0 724.5,114.2 723.8,116.3 723.5,118.5 723.3,120.6 723.9,122.8 723.5,124.9 724.3,127.1 724.1,129.2 723.7,131.4 724.6,133.5 723.8,135.7 724.2,137.8 724.8,140.0 724.4,142.1 723.9,144.3 723.8,146.5 724.0,148.6 724.2,150.8 723.9,152.9 724.4,155.0 724.5,157.1 724.4,159.3 724.3,161.4 724.5,163.5 723.7,165.7 724.0,167.8 724.8,169.9 724.8,172.1 724.3,174.2 724.1,176.3 724.0,178.4 724.4,180.6 724.2,182.7 724.2,184.8 724.6,187.0 723.9,189.1 724.5,191.2 724.8,193.4 724.8,195.5 724.1,197.6 724.4,199.7 723.8,201.9 723.8,204.0 724.7,206.1 723.9,208.3 724.1,210.4 724.3,212.5 723.7,214.7 724.8,216.8 724.5,218.9 724.5,221.0 724.7,223.2 724.2,225.3 723.9,227.4 724.4,229.6 725.0,231.7 724.7,233.8 724.1,236.0 724.4,238.1 724.5,240.3 725.1,242.4 724.8,244.6 724.4,246.8 724.7,249.0 724.9,251.2 724.7,253.3 725.1,255.5 724.0,257.7 724.9,259.9 724.7,262.1 724.6,264.2 724.7,266.4 724.1,268.6 725.2,270.8 724.7,273.0 725.2,275.1 725.4,277.3 724.5,279.5 724.8,281.7 724.7,279.5 725.3,277.3 725.0,275.1 724.4,272.9 724.6,270.8 724.6,268.6 725.4,266.4 725.2,264.2 725.1,262.0 725.2,259.9 725.5,257.7 726.1,255.5 726.2,253.4 726.2,251.2 726.2,249.0 725.4,246.8 725.8,244.6 726.5,242.5 725.7,240.2 726.5,238.1 725.7,235.9 726.3,233.7 725.9,235.9 726.7,237.9 726.8,240.1 725.9,242.2 727.1,244.3 726.1,246.4 727.0,248.5 727.1,250.7 727.3,252.8 727.5,254.9 727.1,257.0 727.1,259.1 727.3,261.3 727.8,263.4 726.6,265.5 726.8,267.6 727.1,269.7 727.9,271.8 727.9,274.0 727.5,276.1 728.0,278.2 727.9,280.3 728.1,282.4 727.7,284.6 728.2,282.4 728.2,280.1 727.6,277.9 728.7,275.7 728.4,273.4 728.7,271.2 728.6,269.0 728.5,266.7 728.6,264.5 728.6,262.3 728.2,260.0 729.5,257.9 728.8,255.6 728.5,253.4 729.2,251.2 729.8,253.3 729.5,255.5 729.1,257.7 729.5,259.9 729.8,262.0 729.0,264.3 730.3,266.4 730.1,268.6 729.3,270.8 730.0,272.9 730.0,275.1 730.6,277.3 730.0,279.5 729.9,281.7 729.8,283.9 730.9,286.0 730.3,288.2 730.1,290.4 730.0,292.6 730.6,294.7 730.5,292.1 731.1,289.6 732.6,287.2 732.5,284.6 732.6,282.4 732.9,280.2 733.6,278.1 733.1,275.8 733.2,273.6 734.0,271.5 734.0,273.8 734.1,276.1 733.8,278.4 735.1,280.6 734.5,282.9 735.4,285.2 735.0,287.5 735.1,285.3 735.2,283.1 734.9,280.9 734.8,278.6 734.9,276.4 735.4,274.2 735.5,272.0 735.0,269.8 735.2,272.0 734.9,274.2 735.4,276.4 735.5,278.5 735.4,280.7 735.5,282.9 735.8,285.1 735.9,287.3 735.5,289.5 736.3,291.6 736.0,293.8 736.8,295.9 735.7,298.2 737.2,300.3 736.2,302.5 737.2,304.7 736.6,306.9 737.7,309.0 737.3,311.2 737.2,313.4 738.4,315.7 738.5,318.2 739.1,320.7 739.8,322.9 740.8,325.0 740.5,322.6 741.6,320.4 741.7,318.0 742.7,315.8 742.6,313.4 742.5,311.2 742.1,308.9 742.5,306.7 743.4,304.5 743.0,302.2 742.9,300.0 742.9,297.8 743.0,295.5 742.9,293.3 743.5,291.1 743.0,288.8 743.1,286.6 743.7,284.4 743.2,282.2 743.4,280.1 744.3,278.0 743.3,275.8 743.1,273.7 744.4,271.6 743.8,269.5 744.5,267.3 744.2,265.2 743.8,263.1 743.7,261.0 743.1,258.8 743.7,256.7 743.5,254.6 743.7,252.5 744.4,250.3 744.1,248.2 744.5,246.1 744.3,244.0 744.4,241.8 743.4,239.7 744.0,237.6 744.4,235.4 744.4,233.3 744.4,231.2 743.9,229.1 743.5,226.9 744.0,224.8 744.1,222.7 744.4,220.6 743.9,218.4 744.6,216.3 744.6,214.2 744.4,212.1 744.4,209.9 744.8,207.8 743.5,205.7 743.9,203.5 744.0,201.4 744.0,199.3 744.1,197.2 744.4,195.0 744.1,192.9 744.1,190.7 743.6,188.6 743.7,186.4 744.3,184.3 744.1,182.1 744.0,179.9 743.7,177.8 743.8,175.6 744.0,173.5 744.4,171.3 744.1,169.2 744.5,167.0 744.9,164.9 744.0,162.7 744.8,160.6 745.0,158.4 745.2,156.3 745.4,154.1 744.3,152.0 744.1,149.8 745.0,147.7 744.9,145.5 745.4,143.4 745.0,141.2 744.9,139.1 745.4,137.0 744.3,134.8 745.0,132.7 744.6,130.6 744.6,128.5 744.5,126.3 745.8,124.2 745.1,122.1 745.7,120.0 745.7,117.9 745.8,115.8 745.1,113.6 745.8,111.5 745.4,109.4 746.1,107.3 745.8,105.2 746.2,103.1 746.3,100.9 745.5,98.8 745.5,96.7 745.1,94.6 746.3,92.5 746.0,90.3 745.9,88.2 745.9,85.9 746.9,83.8 746.8,86.0 746.4,88.1 746.5,90.3 746.4,92.4 747.4,94.6 747.5,96.7 747.9,98.8 747.8,101.0 747.7,103.1 747.2,105.3 748.1,107.4 746.9,109.6 747.3,111.7 747.1,113.8 747.9,116.0 747.6,118.1 747.1,120.3 748.3,122.4 747.8,124.5 748.4,126.6 748.3,128.7 748.2,130.8 748.3,132.9 748.5,135.0 748.3,137.1 747.9,139.2 748.1,141.4 747.9,143.5 747.9,145.6 747.6,147.7 747.8,149.8 747.2,151.9 747.3,154.0 747.3,156.1 747.9,158.2 748.3,160.3 748.0,162.4 747.9,164.5 747.9,166.6 747.3,168.7 747.7,170.8 747.4,172.9 748.5,175.0 747.8,177.1 748.3,179.2 748.7,181.3 748.7,183.4 748.2,185.5 748.5,187.6 748.3,189.7 748.7,191.8 748.7,193.9 748.4,196.0 747.7,198.1 748.1,200.2 747.8,202.3 747.5,204.4 748.1,206.5 748.0,208.6 748.5,210.7 748.3,212.9 747.8,215.0 747.7,217.1 748.6,219.2 748.6,221.3 748.2,223.4 748.2,225.5 748.0,227.6 747.7,229.7 748.5,231.8 748.8,233.9 748.8,236.0 748.5,238.1 748.4,240.2 748.7,242.3 747.8,244.4 748.4,246.5 748.6,248.6 748.6,250.7 747.7,252.8 748.1,254.9 747.8,257.0 748.8,259.1 748.8,261.2 748.4,263.3 748.4,265.4 748.8,267.5 748.7,269.6 748.9,271.7 748.9,273.8 748.8,275.9 748.7,278.0 748.6,280.1 748.2,282.2 748.4,284.4 749.1,282.2 748.5,280.1 748.4,278.0 748.3,275.9 747.9,273.8 748.7,271.7 748.4,269.6 748.7,267.5 748.3,265.4 748.1,263.3 748.3,261.1 748.0,259.0 748.2,256.9 749.2,254.8 748.2,252.7 748.7,250.6 749.2,248.5 748.5,246.4 748.4,244.3 748.1,242.2 748.2,240.1 749.3,238.0 748.7,235.8 748.5,233.7 748.1,231.6 749.0,229.5 748.2,227.4 748.8,225.3 749.1,223.2 749.2,221.1 749.3,219.0 748.5,216.9 748.4,214.7 748.3,212.6 748.6,210.5 748.7,208.4 748.5,206.3 748.4,204.2 748.8,202.1 748.8,200.0 748.4,197.9 749.4,195.8 748.4,193.7 748.8,191.6 748.8,189.4 748.9,187.3 749.2,185.2 749.1,183.1 749.2,181.0 749.4,178.9 748.5,176.8 749.8,174.7 749.1,172.6 749.5,170.5 748.7,168.4 749.1,166.2 749.6,164.1 748.9,162.0 749.3,159.9 749.7,157.8 749.3,155.7 749.2,153.6 749.2,155.7 749.0,157.9 748.7,160.0 749.6,162.1 748.7,164.2 749.0,166.4 749.5,168.5 749.8,170.6 749.7,172.7 749.5,174.9 749.1,177.0 749.6,179.1 750.1,181.3 750.1,183.4 748.9,185.5 750.1,187.7 749.0,189.8 749.0,191.9 749.4,194.0 749.4,196.2 749.1,198.3 749.2,200.4 749.3,202.6 749.3,204.7 749.1,206.8 750.1,208.9 749.8,211.1 749.4,213.2 749.5,215.3 749.9,217.5 749.1,219.6 750.4,221.7 750.3,223.8 750.3,226.0 750.1,228.1 749.3,230.2 749.2,232.4 749.5,234.5 750.0,236.6 749.3,238.8 750.2,240.9 749.9,243.0 749.7,245.1 750.2,247.3 749.7,249.4 749.5,251.5 750.3,253.7 749.7,255.8 750.7,257.9 749.5,260.1 750.2,262.2 750.4,264.3 749.5,266.4 750.8,268.6 750.2,270.7 749.6,272.8 750.4,274.9 750.3,277.1 749.9,275.0 750.2,272.9 750.5,270.8 750.0,268.7 751.0,266.6 750.9,264.5 750.8,262.4 750.4,260.2 750.3,258.1 750.1,256.0 750.2,253.9 750.4,251.8 750.3,249.7 750.5,247.6 749.8,245.5 751.0,243.4 750.9,241.3 751.0,239.2 750.0,237.1 750.3,235.0 750.2,232.9 750.7,230.8 751.3,228.7 750.5,226.6 751.2,224.5 750.1,222.4 751.0,220.3 750.6,218.2 750.6,216.1 751.0,214.0 751.3,211.9 751.4,209.8 750.7,207.6 750.9,205.5 750.8,203.4 750.3,201.3 751.0,199.2 751.3,197.1 751.5,195.0 750.6,192.9 751.1,190.8 751.4,188.7 750.6,186.6 750.7,184.5 750.9,182.4 751.3,180.3 751.6,178.2 750.8,176.1 751.3,174.0 751.8,171.9 751.8,169.8 751.6,167.7 751.1,165.6 751.5,163.5 751.2,161.4 751.3,159.2 751.1,157.1 751.3,155.0 750.6,157.2 751.0,159.4 751.3,161.6 752.1,163.7 751.7,165.9 751.0,168.1 752.1,170.3 751.0,172.5 751.7,174.7 752.2,176.8 751.7,179.0 751.3,181.2 752.3,183.4 751.7,185.5 751.5,187.7 751.9,189.9 752.1,192.1 751.7,194.3 751.8,196.4 752.5,198.6 751.4,200.8 751.5,203.0 752.0,205.2 751.5,207.4 751.9,209.5 752.1,211.7 752.8,213.8 751.6,216.0 752.0,218.1 752.7,220.2 752.9,222.3 751.9,224.5 752.5,226.6 752.8,228.7 752.1,230.9 752.3,233.0 751.9,235.1 752.3,237.2 752.5,239.4 752.7,241.5 751.8,243.6 751.9,245.8 753.2,247.9 751.9,250.0 752.2,252.1 753.0,254.3 752.2,256.4 752.5,258.5 752.5,260.7 752.2,262.8 753.0,264.9 752.3,267.0 752.7,269.2 753.0,271.3 752.2,273.4 753.4,275.6 752.8,277.7 752.4,279.8 753.5,281.9 752.4,284.1 752.9,286.2 752.9,288.3 753.3,290.5 752.7,292.6 753.6,294.7 753.1,296.8 753.3,299.0 753.1,301.1 753.2,303.2 752.8,301.0 753.3,298.9 752.6,296.7 753.5,294.5 753.5,292.3 752.9,290.1 753.2,288.0 753.4,285.8 754.0,283.6 754.3,281.5 753.8,279.3 754.1,277.1 753.6,274.9 754.4,272.7 754.5,270.6 754.6,268.4 754.1,266.2 753.4,264.0 753.6,261.8 753.7,259.6 754.3,257.5 754.2,255.3 754.0,253.2 754.2,251.1 754.7,248.9 753.8,246.8 753.8,244.7 754.1,242.6 754.7,240.5 754.2,238.3 755.2,236.2 754.7,234.1 754.8,232.0 754.8,229.9 754.2,227.7 755.0,225.6 755.0,223.5 755.2,221.4 754.8,219.3 755.6,217.2 755.0,215.0 755.5,212.9 754.5,210.8 755.4,208.7 755.9,206.6 755.3,204.4 755.1,202.3 755.0,200.2 755.1,198.1 755.8,196.0 756.6,194.0 755.9,191.8 756.7,189.8 757.0,187.7 756.8,185.6 757.2,187.7 756.4,189.8 756.9,192.0 757.2,194.1 757.3,196.3 757.6,198.4 756.8,200.6 756.8,202.7 757.8,204.8 758.0,206.9 758.0,209.1 757.7,211.2 757.8,213.4 757.0,215.5 757.3,217.7 758.2,219.8 757.3,222.0 757.3,224.1 758.0,226.2 757.4,228.4 758.0,230.5 757.9,232.6 757.6,234.7 758.6,236.8 757.5,239.0 758.6,241.1 758.5,243.2 758.7,245.3 758.1,247.4 758.1,249.5 758.8,251.6 758.9,253.8 757.9,255.9 758.2,258.0 759.0,260.1 758.2,262.3 758.4,264.4 758.9,266.5 758.2,268.6 758.5,270.7 759.2,272.8 758.4,275.0 759.0,277.1 759.3,279.2 758.9,281.5 759.4,283.6 759.7,285.8 760.1,288.0 759.8,290.2 760.0,292.3 760.4,294.5 760.7,296.7 760.4,298.9 760.5,296.8 760.4,294.6 760.7,292.5 761.0,290.4 761.3,288.3 760.8,286.2 761.0,284.0 760.3,281.9 760.6,279.8 760.9,277.7 761.2,275.6 760.8,273.4 761.3,271.3 761.6,269.2 761.6,267.1 761.9,265.0 761.6,262.9 761.9,260.7 761.8,258.6 761.1,256.5 761.9,254.4 762.0,252.3 761.5,250.1 761.9,248.0 762.4,245.8 761.9,243.6 762.7,241.4 762.8,239.1 762.3,236.9 762.9,234.7 762.2,232.4 762.2,230.2 763.2,228.0 762.3,225.7 763.2,223.5 763.4,221.3 763.1,219.1 762.9,216.8 763.3,214.6 764.0,216.7 763.5,218.9 763.5,221.0 763.5,223.1 763.9,225.3 763.8,227.4 763.9,229.5 764.0,231.7 763.8,233.8 763.1,235.9 763.1,238.1 763.6,240.2 763.4,242.3 763.5,244.4 763.6,246.6 763.8,248.7 763.5,250.8 764.0,253.0 764.1,255.1 764.2,257.2 764.0,259.4 763.6,261.5 764.6,263.6 763.6,265.8 763.6,267.9 763.7,270.0 763.8,272.1 764.6,274.3 764.3,276.4 764.6,278.5 764.1,280.7 764.2,282.8 764.3,284.9 763.5,287.1 764.3,289.2 763.7,291.3 764.5,293.4 764.7,295.6 764.5,297.7 764.5,299.8 764.4,302.0 765.0,304.1 764.2,306.2 763.8,308.4 764.5,310.5 765.5,313.3 765.5,316.3 766.0,314.2 765.4,312.1 765.0,309.9 765.9,307.8 766.2,305.7 765.9,303.5 766.0,301.4 766.1,299.3 766.1,297.2 765.6,295.0 765.6,292.9 765.1,290.8 766.0,288.7 766.3,286.5 766.3,284.4 766.3,282.3 765.7,280.1 766.1,278.0 765.6,275.9 766.3,273.8 765.3,271.6 765.2,269.5 765.4,267.4 765.5,265.2 765.4,263.1 765.8,261.0 766.2,258.9 765.9,256.7 766.5,254.6 765.4,252.5 765.2,250.4 765.7,248.2 766.2,246.1 765.5,244.0 765.3,241.8 765.7,239.7 766.5,237.6 765.7,235.5 765.6,233.3 765.7,231.2 766.1,229.1 766.5,227.0 766.3,224.8 766.6,222.7 766.0,220.6 765.7,218.4 765.7,216.3 765.5,214.2 766.3,212.1 765.9,209.9 766.0,207.8 766.0,205.7 765.6,203.5 766.1,201.4 765.7,199.3 766.2,197.2 765.8,195.0 766.9,192.9 765.9,190.7 766.6,188.5 766.3,186.4 766.2,184.2 767.1,182.1 766.5,179.9 767.1,177.8 766.2,175.6 766.6,173.4 766.3,171.3 767.1,169.1 766.1,167.0 766.3,164.8 767.4,162.7 766.8,160.5 766.8,158.4 766.6,156.2 767.5,154.0 767.6,151.9 766.9,149.7 766.9,147.6 766.5,145.4 766.9,143.3 766.6,141.1 767.2,138.9 767.0,136.8 767.7,134.6 767.4,132.5 767.6,130.3 767.2,128.2 767.0,130.3 767.7,132.4 767.3,134.5 767.6,136.6 767.4,138.7 768.0,140.8 766.9,143.0 766.8,145.1 766.8,147.2 767.9,149.3 768.1,151.4 767.5,153.5 767.0,155.7 767.4,157.8 767.4,159.9 768.2,162.0 768.3,164.1 767.0,166.2 767.7,168.3 767.7,170.4 767.8,172.6 767.8,174.7 767.9,176.8 768.3,178.9 768.1,181.0 768.2,183.1 768.4,185.2 768.0,187.4 767.7,189.5 767.3,191.6 767.6,193.7 767.5,195.8 768.2,197.9 767.8,200.0 768.5,202.2 768.3,204.3 768.3,206.4 768.0,208.5 767.4,210.6 768.8,212.7 768.6,214.8 768.2,217.0 767.9,219.1 767.7,221.2 768.6,223.3 768.9,225.4 767.7,227.5 768.8,229.6 768.4,231.8 768.7,233.9 768.9,236.0 768.1,238.1 768.4,240.2 768.6,242.3 768.7,244.4 767.9,246.6 768.0,248.7 769.1,250.8 768.1,252.9 769.0,255.0 769.0,257.1 768.6,259.2 768.5,261.4 768.6,263.5 769.2,265.6 768.0,267.7 768.7,269.8 769.1,267.7 768.9,265.6 769.4,263.5 769.5,261.4 768.9,259.3 768.7,257.2 769.0,255.1 769.2,253.0 768.2,250.9 769.1,248.8 768.8,246.7 769.0,244.6 768.4,242.5 768.3,240.4 769.0,238.3 768.6,236.2 769.4,234.1 769.6,232.0 769.1,229.9 769.6,227.8 768.7,225.7 768.8,223.6 768.8,221.5 768.8,219.4 768.4,217.3 769.0,215.2 769.1,213.1 769.7,211.0 768.9,208.9 768.8,206.8 769.8,204.7 769.5,202.6 768.5,200.5 768.8,198.4 768.9,196.3 769.6,194.2 768.9,192.1 769.8,190.0 769.5,187.9 769.8,185.8 769.7,183.7 769.5,181.6 769.3,179.5 769.9,177.4 768.9,175.3 769.4,173.2 769.4,171.1 769.1,169.0 769.4,166.9 769.0,164.8 769.6,162.7 768.9,160.6 769.7,158.5 769.6,156.4 770.1,154.3 769.6,152.2 769.8,150.1 769.6,148.0 769.9,145.9 769.7,143.8 770.2,141.7 770.1,139.6 769.9,137.5 768.9,135.3 769.6,133.2 770.2,135.4 769.2,137.5 769.1,139.6 770.1,141.7 769.2,143.8 770.4,145.9 769.8,148.0 770.1,150.1 769.1,152.2 770.3,154.3 769.9,156.4 769.3,158.5 769.6,160.6 769.3,162.8 769.8,164.9 770.4,167.0 770.1,169.1 769.7,171.2 769.9,173.3 769.2,175.4 769.8,177.5 770.0,179.6 769.8,181.7 770.1,183.8 770.2,185.9 770.2,188.0 770.1,190.2 769.3,192.3 770.2,194.4 769.5,196.5 770.2,198.6 770.1,200.7 769.5,202.8 769.8,204.9 770.3,207.0 770.6,209.1 769.5,211.2 770.4,213.3 769.8,215.4 769.6,217.6 770.3,219.7 770.4,221.8 770.8,223.9 769.9,226.0 770.7,228.1 770.0,230.2 770.9,232.3 770.8,234.4 770.0,236.5 770.6,238.6 771.0,240.7 770.8,242.8 770.7,245.0 769.7,247.1 770.8,249.2 770.9,251.3 770.8,253.4 770.6,255.5 770.7,257.6 770.3,259.7 770.5,261.8 770.4,263.9 770.2,266.0 770.3,268.1 771.2,270.2 771.0,272.3 770.3,274.5 770.5,276.6 771.0,278.7 770.0,280.8 770.6,282.9 770.8,280.8 770.7,278.7 770.7,276.6 771.2,274.4 771.0,272.3 771.0,270.2 771.0,268.1 770.8,266.0 770.7,263.9 770.9,261.8 771.3,259.6 770.9,257.5 770.2,255.4 770.5,253.3 771.2,251.2 770.5,249.1 770.4,247.0 770.4,244.8 771.2,242.7 771.3,240.6 771.5,238.5 771.1,236.4 771.4,234.3 770.6,232.2 771.2,230.1 771.0,227.9 771.3,225.8 771.6,223.7 770.6,221.6 771.7,219.5 771.3,217.4 770.6,215.3 771.0,213.2 771.4,211.0 771.8,208.9 771.6,206.8 771.4,204.7 771.6,202.6 770.8,200.5 771.8,198.4 770.8,196.2 771.4,194.1 770.7,192.0 771.8,189.9 770.7,187.8 771.8,185.7 771.6,183.6 771.4,181.5 771.1,179.3 771.6,177.2 771.4,175.1 771.6,173.0 771.2,170.9 770.9,168.8 771.4,166.7 771.7,164.6 771.0,162.4 771.9,160.3 771.7,158.2 770.8,156.1 770.9,154.0 771.6,151.9 772.2,149.8 770.9,147.6 772.1,145.5 771.6,143.4 773.1,144.9 773.0,147.1 773.2,149.2 773.4,151.4 773.3,153.6 772.9,155.8 774.3,157.9 773.9,160.1 774.4,162.3 774.5,164.5 774.4,166.6 774.0,168.8 774.0,171.0 774.7,173.2 774.1,175.4 773.8,177.6 774.5,179.7 776.4,178.3 776.7,180.5 777.1,182.6 776.6,184.9 776.8,187.1 777.6,189.2 777.9,191.4 778.8,193.4 778.1,195.8 778.9,197.9 779.3,200.1 779.8,202.2 778.9,204.5 780.1,206.6 779.9,208.8 779.1,211.0 779.6,213.2 779.7,215.3 779.8,217.5 779.9,219.7 779.9,221.9 780.2,224.0 779.8,226.2 780.3,228.4 780.3,230.6 779.9,232.7 780.2,234.9 780.1,237.0 780.4,239.1 780.5,241.2 779.6,243.4 779.6,245.5 779.3,247.6 780.6,249.8 779.4,251.9 779.6,254.0 779.9,256.2 779.2,258.3 779.3,260.4 779.8,262.6 779.6,264.7 779.8,266.8 780.0,268.9 779.8,271.0 780.4,273.1 780.8,275.1 781.2,277.2 781.0,279.3 781.2,281.4 781.9,283.6 781.1,285.8 781.8,288.0 781.3,290.2 781.3,292.4 782.0,294.5 781.3,296.7 782.1,298.9 782.5,301.0 781.4,303.3 782.4,305.4 782.4,307.6 783.0,309.7 782.4,312.0 781.9,314.2 782.6,316.3 782.9,318.5 783.2,320.7 783.1,322.9 783.0,325.1 783.4,327.2 783.4,329.4 784.4,331.5 784.1,333.8 784.3,336.8 785.4,339.6 786.4,337.3 785.4,334.8 786.6,332.6 786.1,330.2 787.0,327.9 787.0,325.8 787.0,323.7 787.7,321.6 787.1,319.4 787.8,317.3 787.8,315.2 788.2,313.0 787.9,310.9 787.9,308.8 787.4,306.6 787.4,304.5 787.8,302.4 788.4,300.2 788.4,298.1 788.2,296.0 788.7,298.3 789.1,300.6 788.6,303.0 788.7,305.3 789.3,307.6 789.4,309.9 790.4,312.2 789.9,314.6 790.2,316.9 790.5,319.2 791.0,317.1 791.1,314.8 791.9,312.7 792.4,310.5 792.4,308.4 792.6,306.2 792.0,304.1 793.3,302.0 792.4,299.8 793.0,297.7 792.6,295.5 792.4,293.4 792.3,291.2 792.9,289.1 792.4,286.9 793.4,284.8 793.8,282.7 792.8,280.5 793.2,278.4 793.0,276.2 792.6,274.1 793.5,272.0 793.4,269.8 793.7,267.7 793.3,265.6 793.4,263.5 793.6,261.3 793.5,259.2 793.6,257.1 793.3,255.0 794.0,252.9 794.1,250.8 793.9,248.6 793.2,246.5 793.3,244.4 793.7,242.3 793.4,240.1 793.6,238.0 794.5,235.9 793.5,233.8 793.8,231.7 793.9,229.6 794.4,227.4 794.8,225.3 794.6,223.2 794.4,221.1 794.3,219.0 794.5,216.8 794.3,214.7 794.1,212.5 794.8,210.4 794.4,208.3 794.0,206.1 794.9,204.0 794.8,201.9 794.2,199.7 794.7,197.6 794.4,195.4 795.4,193.3 795.6,191.2 795.8,189.1 795.1,186.9 795.1,184.8 795.3,182.6 795.4,180.1 795.1,177.5 795.8,175.0 796.3,172.5 795.9,174.6 796.4,176.7 796.5,178.8 796.0,181.0 796.9,183.1 796.9,185.2 796.6,187.3 796.8,189.5 795.9,191.6 795.9,193.7 796.5,195.8 796.7,198.0 797.1,200.1 795.9,202.2 796.9,204.3 796.5,206.4 796.6,208.6 797.4,210.7 796.7,212.8 797.0,214.9 796.8,217.1 796.2,219.2 796.5,221.3 796.5,223.4 796.5,225.6 797.1,227.7 796.6,229.8 796.9,231.9 796.5,234.1 796.6,236.2 797.1,238.3 797.3,240.4 796.5,242.6 797.3,244.7 797.3,246.8 797.5,248.9 796.5,251.0 796.7,253.2 797.2,255.3 798.6,253.8 798.1,251.7 798.2,249.5 798.5,247.4 798.9,245.2 799.5,243.1 798.8,240.9 798.7,238.7 798.9,236.6 798.5,234.4 799.0,232.3 799.0,230.1 799.6,228.0 798.9,225.8 798.9,223.6 799.7,221.5 798.4,219.3 799.7,217.2 799.3,215.0 799.3,212.8 799.0,210.7 799.7,208.5 799.8,206.4 799.9,204.2 799.6,202.1 799.0,199.9 799.3,197.7 799.0,195.6 799.6,193.4 799.8,191.3 799.3,189.1 800.1,187.0 799.6,184.8 799.6,182.6 800.2,180.2 800.0,177.8 800.7,175.4 800.8,173.0 800.7,170.6 800.7,168.1 801.1,170.2 801.4,172.3 800.3,174.5 801.1,176.6 800.7,178.7 800.8,180.8 801.4,182.9 800.6,185.0 801.5,187.1 800.7,189.3 801.8,191.4 801.4,193.5 800.7,195.6 801.1,197.7 801.6,199.8 802.0,201.9 801.5,204.0 800.8,206.2 801.2,208.3 802.0,210.4 801.5,212.5 801.2,214.6 801.4,216.7 801.7,218.8 801.5,221.0 802.1,223.1 802.3,225.2 801.7,227.3 801.9,229.4 801.7,231.5 801.6,233.6 801.7,235.7 802.1,237.8 802.1,235.7 801.8,233.6 802.9,231.5 802.1,229.4 802.9,227.3 802.1,225.2 802.7,223.1 802.2,220.9 802.7,218.8 802.7,216.7 802.8,214.6 801.9,212.5 802.7,210.4 803.2,208.3 802.7,206.2 802.5,204.0 802.2,201.9 802.1,199.8 802.1,197.7 802.4,195.6 802.3,193.5 802.7,191.4 803.0,189.3 802.8,187.1 802.9,185.0 803.2,182.9 803.1,180.8 802.8,178.7 803.1,176.6 802.7,174.5 803.4,172.3 803.9,170.2 803.3,168.1 803.2,170.4 804.1,172.6 803.1,174.9 804.3,177.1 804.3,179.4 804.4,181.7 803.7,184.0 803.8,186.2 804.5,188.5 805.2,190.6 804.5,192.7 805.4,194.8 804.6,197.0 805.6,199.1 804.5,201.3 805.2,203.4 805.7,205.5 805.5,207.6 805.9,209.7 805.7,211.9 805.4,214.0 806.3,216.1 805.4,218.3 805.9,220.4 806.3,218.0 806.2,215.6 806.5,213.1 807.2,210.8 806.6,208.3 807.4,205.9 807.5,208.2 807.7,210.4 807.3,212.7 808.6,214.9 808.6,217.2 808.2,219.5 809.0,221.7 809.0,223.9 808.8,226.2 808.7,223.9 809.7,221.7 809.2,219.4 809.7,217.1 809.9,214.8 809.6,212.5 810.3,210.2 811.0,212.4 810.9,214.5 810.5,216.6 809.9,218.8 810.0,220.9 810.5,223.0 810.9,225.1 811.2,227.3 811.1,229.4 810.2,231.5 810.4,233.7 810.8,235.8 810.7,237.9 811.1,240.0 810.5,242.2 810.3,244.3 810.5,246.4 810.9,248.5 811.2,250.7 811.4,252.8 811.0,254.9 811.3,257.1 811.0,259.2 810.8,261.3 811.3,263.4 811.1,265.6 811.1,267.7 811.3,269.8 810.7,272.0 811.0,274.1 811.3,276.2 812.1,278.3 811.5,280.4 811.9,282.6 812.1,284.7 811.7,286.8 811.4,288.9 811.1,291.1 811.7,293.2 811.7,295.3 811.4,297.4 811.9,299.5 811.6,301.7 812.3,303.8 811.6,305.9 811.8,308.0 811.8,310.2 811.9,312.3 811.6,314.4 812.8,316.5 811.7,318.7 812.0,320.8 812.4,322.9 812.3,325.0 812.7,322.9 812.3,320.8 812.0,318.7 812.5,316.6 812.8,314.5 812.5,312.4 812.4,310.3 812.3,308.2 812.3,306.1 811.9,304.0 811.9,301.8 812.3,299.7 812.9,297.6 812.5,295.5 812.6,293.4 812.0,291.3 813.3,289.2 812.3,287.1 812.5,285.0 813.3,282.9 812.5,280.8 813.4,278.7 813.1,276.6 812.5,274.5 813.1,272.4 812.4,270.2 813.4,268.2 813.0,266.0 813.2,263.9 813.5,261.8 812.8,259.7 812.4,257.6 813.3,255.5 812.9,253.4 813.0,251.3 813.5,249.2 812.7,247.1 812.7,245.0 813.3,242.9 813.2,240.8 813.4,238.5 813.2,236.3 812.8,234.1 813.3,231.9 814.0,229.7 813.9,227.4 813.2,225.2 813.9,223.0 813.8,220.8 814.4,218.6 813.6,216.3 814.0,214.1 814.0,211.9 814.4,209.7 814.2,207.4 813.8,205.2 814.2,203.0 814.4,200.8 815.1,198.7 815.0,196.4 815.6,194.3 816.1,196.4 815.0,198.6 815.3,200.7 816.1,202.8 815.9,205.0 816.2,207.1 815.1,209.3 816.1,211.4 816.3,213.6 815.3,215.7 815.6,217.9 816.5,220.0 816.2,222.1 816.4,224.3 815.8,226.4 815.8,228.6 815.9,230.7 816.5,232.9 815.7,235.0 816.4,237.2 815.8,239.3 815.6,241.5 815.7,243.6 815.9,245.7 816.5,247.9 815.9,250.0 816.5,252.2 815.5,254.3 815.6,256.5 816.7,258.6 816.1,260.8 815.6,262.9 816.5,265.0 816.9,267.2 816.0,269.3 816.0,271.5 815.7,273.6 816.6,275.8 816.3,277.9 816.5,280.1 816.6,282.2 816.4,284.4 816.9,286.5 815.9,288.7 816.3,290.9 817.0,293.1 816.6,295.2 816.8,297.4 817.2,299.6 816.8,301.8 817.3,304.0 817.2,306.1 816.2,308.3 816.4,310.5 816.5,312.7 816.6,314.9 817.3,317.0 817.3,319.2 816.8,321.4 816.9,323.6 816.7,325.8 817.2,327.9 817.6,325.8 817.3,323.7 817.5,321.5 817.8,319.4 817.3,317.2 817.1,315.1 817.5,313.0 818.0,310.8 817.6,308.7 817.1,306.6 817.7,304.4 818.0,302.3 817.8,300.2 818.0,298.0 817.0,295.9 818.0,293.8 818.3,291.6 818.2,289.5 818.0,287.3 817.1,285.2 818.0,283.1 817.2,280.9 818.5,278.8 817.2,276.6 817.7,274.5 818.4,272.4 817.5,270.2 817.5,268.1 817.5,266.0 818.4,263.8 818.2,261.7 817.4,259.6 818.2,257.4 818.1,255.3 818.0,257.5 818.0,259.7 817.7,261.8 818.0,264.0 818.3,266.2 818.2,268.4 818.4,270.5 818.8,272.7 817.8,274.9 818.9,277.1 819.1,279.3 818.9,281.4 819.1,283.6 818.2,285.8 818.7,288.0 819.0,290.2 819.1,292.3 818.3,294.5 819.2,296.7 819.0,298.9 819.1,301.1 819.1,303.2 818.8,305.4 819.7,307.6 819.8,309.8 819.0,312.0 819.6,314.1 819.3,316.3 820.1,318.5 820.0,320.7 820.0,322.8 819.1,325.0 819.5,327.2 819.7,329.4 820.1,331.6 820.4,333.7 819.7,335.9 820.4,338.1 820.0,340.3 820.0,342.5 820.6,345.4 821.5,348.3 822.2,346.2 821.2,343.8 821.5,341.7 822.6,339.6 822.1,337.3 822.9,335.2 823.2,333.1 822.8,331.0 823.5,328.9 823.4,326.8 823.3,324.7 823.5,322.6 822.8,320.4 822.5,318.3 823.0,316.2 822.9,314.1 823.3,312.0 822.8,309.9 823.9,307.8 823.9,305.7 823.5,303.6 823.5,301.5 823.4,299.3 823.1,297.2 823.1,295.1 823.4,293.0 822.9,290.9 823.0,288.8 824.0,286.7 823.6,284.6 823.7,282.5 823.8,280.4 823.6,278.3 823.5,276.1 824.0,274.0 824.3,271.9 823.6,269.8 823.1,267.6 823.6,265.5 823.8,263.3 823.8,261.1 823.8,258.9 824.2,256.7 824.2,254.6 824.4,252.4 824.1,250.2 823.6,248.0 824.8,245.9 824.4,243.7 824.7,241.5 824.0,239.3 824.9,237.1 823.8,234.9 823.8,232.8 823.8,230.6 824.5,228.4 824.5,226.2 824.7,228.3 824.0,230.4 825.1,232.5 824.0,234.6 825.2,236.7 824.9,238.8 824.7,240.9 824.2,243.1 824.8,245.2 825.3,247.3 824.7,249.4 825.3,251.5 824.7,253.6 824.2,255.7 825.4,257.8 825.0,259.9 824.9,262.0 825.5,264.1 825.1,266.2 824.3,268.3 825.4,270.4 824.9,272.5 825.0,274.6 824.8,276.7 824.6,278.8 825.1,280.9 824.7,283.0 824.5,285.1 824.8,287.2 825.2,289.3 825.6,291.4 824.8,293.5 825.7,295.6 825.9,297.7 825.6,299.8 826.0,301.9 825.4,304.0 825.4,306.1 826.2,308.3 826.8,310.5 827.1,308.4 826.4,306.3 827.4,304.2 826.6,302.0 826.3,299.9 827.4,297.8 827.0,295.7 827.2,293.6 826.5,291.5 826.5,289.4 826.6,287.2 826.9,285.1 826.7,283.0 827.4,280.9 826.6,278.8 827.2,276.7 827.7,274.6 826.9,272.5 827.5,270.3 827.8,268.2 827.6,266.1 827.6,264.0 826.8,261.9 827.4,259.8 826.6,257.7 826.9,255.6 827.5,253.4 827.2,251.3 826.6,249.2 826.7,247.1 827.6,245.0 827.5,242.9 827.4,240.8 827.9,238.6 827.4,236.5 827.9,234.4 828.2,232.3 827.2,230.1 827.6,228.0 828.3,225.9 828.2,223.7 828.0,221.6 828.5,219.5 828.7,217.3 828.2,215.2 827.9,213.1 828.2,210.9 828.3,208.8 828.1,206.5 828.3,204.3 828.8,202.0 828.3,199.7 828.5,197.5 829.1,195.2 828.9,192.9 829.6,190.7 829.7,188.5 829.8,185.9 830.7,183.4 830.2,180.7 831.2,178.3 830.5,180.4 831.4,182.6 831.4,184.7 830.9,186.8 830.6,189.0 831.3,191.1 830.9,193.3 831.9,195.4 831.5,197.5 831.4,199.7 830.9,201.8 831.5,204.0 831.5,206.1 831.5,208.2 831.4,210.4 832.0,212.5 831.4,214.7 831.6,216.8 831.9,218.9 831.3,221.1 832.2,223.2 832.0,225.3 830.9,227.5 831.8,229.6 831.2,231.8 830.9,233.9 831.1,236.0 831.2,238.2 832.2,240.3 831.2,242.5 832.0,244.6 831.0,246.7 832.4,248.9 831.5,251.0 831.8,253.2 831.8,255.3 832.1,257.4 832.0,259.6 831.5,261.8 832.4,263.9 831.5,266.1 832.2,268.2 832.0,270.4 831.3,272.5 831.3,274.7 831.5,276.8 831.5,279.0 832.2,281.1 831.9,283.3 831.7,285.4 832.5,287.6 831.8,289.7 832.6,291.9 831.9,294.0 831.5,296.2 831.6,298.3 831.7,300.5 832.7,302.6 832.1,304.8 832.7,306.9 832.4,309.1 832.0,311.3 832.3,313.4 831.9,311.3 832.6,309.1 832.4,307.0 832.9,304.9 832.6,302.7 833.0,300.6 833.1,298.5 833.0,296.3 832.9,294.2 832.0,292.0 832.2,289.9 832.0,287.8 832.8,285.6 832.3,283.5 832.5,281.4 832.6,279.2 832.3,277.1 832.5,274.9 832.5,272.8 833.4,270.7 832.5,268.5 832.4,266.4 833.6,264.3 832.5,262.1 833.6,260.0 832.8,257.9 833.2,255.7 833.2,253.6 833.7,251.5 833.1,249.3 832.6,247.2 833.1,245.0 833.0,242.9 833.2,240.8 833.3,238.6 833.4,236.5 834.0,234.4 833.4,232.2 833.1,230.1 833.5,228.0 833.2,225.8 833.0,223.7 833.0,221.6 833.8,219.5 833.2,217.3 833.3,215.2 833.4,213.1 833.7,210.9 833.8,208.8 833.3,211.0 834.2,213.1 833.8,215.3 833.8,217.4 833.5,219.6 833.9,221.7 833.5,223.9 834.3,226.0 834.8,228.1 834.2,230.3 835.0,232.4 833.7,234.6 834.7,236.7 834.4,238.9 834.3,241.1 835.1,243.2 834.8,245.3 834.8,247.5 834.0,249.7 835.2,251.8 834.3,254.0 834.6,256.1 834.5,258.3 834.5,260.4 835.0,262.6 835.1,264.8 834.6,267.1 835.3,269.3 835.7,271.5 836.3,273.7 836.3,275.9 835.9,278.2 835.8,280.4 836.7,282.6 836.9,284.9 836.1,287.2 837.2,289.3 836.7,291.6 836.1,289.5 836.9,287.4 837.5,285.3 837.0,283.1 837.5,281.0 836.5,278.9 837.3,276.8 837.1,274.7 836.9,272.5 837.2,270.4 837.4,268.3 836.7,266.2 837.4,264.1 837.7,262.0 836.6,259.8 836.6,257.7 837.9,255.6 837.6,253.5 837.3,251.4 836.8,249.2 837.7,247.1 837.9,245.0 837.4,242.9 837.6,240.8 837.8,238.6 838.1,236.5 837.1,234.4 837.8,232.2 837.4,230.1 838.1,228.0 837.7,225.8 837.5,223.7 838.2,221.6 837.7,219.4 838.3,217.3 838.2,215.2 838.7,213.1 838.0,210.9 838.5,208.8 838.0,210.9 838.4,213.1 838.1,215.2 838.3,217.3 839.1,219.5 839.0,221.6 838.9,223.8 838.7,225.9 838.9,228.0 838.3,230.2 838.4,232.3 839.4,234.4 838.2,236.6 838.5,238.7 838.7,240.8 838.4,243.0 839.6,245.1 838.8,247.3 838.6,249.4 838.4,251.5 839.3,253.7 838.4,255.8 838.9,257.9 838.4,260.1 839.0,262.2 838.6,264.4 839.0,266.5 839.2,268.6 838.7,270.8 839.0,272.9 839.2,275.0 839.3,277.2 839.3,279.3 839.3,281.4 839.1,279.3 839.3,277.2 839.7,275.1 838.9,273.0 839.9,270.9 840.0,268.8 839.2,266.6 839.9,264.5 839.8,262.4 839.8,260.3 839.1,258.2 840.4,256.1 839.4,254.0 840.3,251.9 840.5,249.8 840.3,247.6 839.7,245.5 839.3,243.4 839.4,241.3 840.4,239.2 840.6,237.1 840.6,235.0 840.5,232.8 839.9,230.7 840.7,228.6 840.3,226.5 840.5,224.4 839.7,222.3 840.8,220.2 840.2,218.0 840.4,215.9 840.8,213.8 840.5,211.7 840.6,213.9 840.3,216.0 840.0,218.2 840.0,220.3 841.3,222.5 840.3,224.6 840.0,226.8 840.2,228.9 840.5,231.1 841.2,233.2 841.4,235.4 840.7,237.5 840.6,239.7 840.8,241.8 841.6,244.0 841.4,246.1 840.5,248.3 841.7,250.4 841.2,252.6 841.4,254.7 841.3,256.9 840.6,259.1 840.7,261.2 841.3,263.4 841.9,265.5 841.7,267.7 841.4,269.8 842.1,272.0 841.6,274.2 841.0,276.4 841.6,278.5 842.0,280.7 842.0,282.9 842.2,285.1 841.4,287.3 841.9,289.4 841.2,291.6 841.6,293.8 841.8,296.0 841.8,298.2 842.6,300.3 842.3,302.5 842.2,304.7 842.8,306.9 841.4,309.1 842.3,311.2 842.2,313.4 842.5,315.6 842.1,317.7 842.0,319.9 842.5,322.0 842.2,324.2 842.2,326.3 843.2,328.5 842.4,330.6 842.4,332.8 842.3,335.0 843.3,337.1 843.2,339.2 843.1,341.4 842.8,343.6 842.7,345.7 843.8,347.8 843.2,350.0 843.9,353.1 843.4,356.2 844.3,358.4 844.2,361.0 845.1,363.3 846.5,365.4 847.0,367.8 848.4,369.6 849.0,371.8 849.7,373.9 850.9,375.8 851.4,378.0 852.2,375.5 852.9,373.1 853.5,370.6 853.2,368.3 854.3,366.1 853.5,363.9 854.0,361.6 854.0,359.4 853.9,357.2 854.8,355.0 854.4,352.7 854.1,350.5 854.4,348.2 854.2,346.0 854.2,343.7 854.6,341.5 854.4,339.3 855.2,337.1 854.3,334.9 854.9,332.7 854.6,330.4 855.5,328.3 854.5,326.0 855.1,323.8 855.0,321.6 855.1,319.4 855.8,317.2 855.6,315.0 854.9,312.7 856.2,310.6 856.2,308.3 855.0,306.1 855.7,303.9 856.3,306.1 855.7,308.3 855.3,310.5 856.4,312.7 856.6,314.9 856.2,317.2 856.6,319.4 856.4,321.6 856.5,323.8 856.2,326.0 856.8,328.2 856.6,330.4 855.9,332.7 856.9,334.9 856.3,337.1 856.9,339.3 856.7,341.5 856.6,343.6 857.5,345.8 856.4,347.9 856.6,350.0 857.2,352.1 856.6,354.3 857.3,356.4 856.5,358.5 857.5,360.6 856.8,362.8 857.2,364.9 856.7,362.6 857.9,360.3 857.1,358.0 858.1,355.7 857.4,353.4 858.4,351.1 858.3,348.8 858.5,346.4 858.7,344.0 859.0,341.6 858.6,339.2 859.4,336.8 859.4,334.4 859.3,332.2 858.9,330.0 860.3,327.8 860.4,325.7 859.2,323.4 860.0,321.2 860.3,319.1 859.7,316.8 860.4,314.7 860.4,312.5 860.0,310.3 860.1,308.2 859.9,306.1 860.8,304.0 861.4,301.9 860.6,299.8 860.7,297.7 860.7,295.6 860.5,293.4 860.8,291.3 861.4,289.2 861.4,287.1 861.2,285.0 861.6,287.1 861.5,289.2 861.0,291.4 862.0,293.4 861.0,295.6 861.4,297.7 861.8,299.8 861.3,301.9 861.4,304.0 862.5,306.1 861.9,308.2 862.3,310.3 862.3,312.5 861.9,314.7 863.0,316.8 862.5,319.0 863.2,321.2 862.3,323.4 863.1,325.6 862.7,327.8 862.6,330.0 862.5,332.2 863.0,334.4 863.0,332.3 863.1,330.2 864.1,328.2 864.2,326.1 863.7,323.9 864.5,321.9 864.1,319.7 865.0,317.3 864.3,314.7 865.4,312.3 865.2,309.7 866.0,311.8 865.5,314.0 866.2,316.1 865.6,318.4 865.4,320.5 865.7,322.7 866.0,324.8 866.2,327.0 867.0,329.0 867.0,331.1 866.0,333.3 866.6,335.4 867.1,337.5 867.9,339.5 867.3,341.7 867.6,344.0 867.5,346.3 868.7,348.5 868.5,350.8 868.9,353.1 869.0,355.4 869.5,357.6 870.5,359.5 871.7,361.3 872.7,359.2 873.5,357.1 873.7,354.8 874.3,352.6 874.6,350.4 874.9,348.1 875.0,345.8 875.9,343.6 875.5,341.2 875.8,338.9 876.7,336.7 876.8,334.4 877.5,332.2 876.6,330.0 876.9,327.8 876.8,325.6 877.1,323.4 878.3,321.3 877.2,319.0 878.3,316.9 878.5,314.7 878.2,312.5 878.0,310.2 878.2,307.9 878.0,305.7 878.7,303.5 878.3,301.2 878.2,298.9 878.9,296.7 879.0,294.4 879.5,296.5 879.8,298.6 879.2,300.8 880.0,302.8 878.8,305.0 879.5,307.1 879.5,309.2 879.8,311.3 880.0,313.4 879.8,315.5 880.6,317.6 880.1,319.7 880.0,322.2 880.0,324.6 880.6,327.0 880.5,329.4 880.6,331.9 881.1,334.3 881.2,336.6 882.1,338.8 881.8,341.2 882.7,343.4 882.3,345.8 883.3,348.0 883.3,350.4 884.0,352.6 884.8,354.7 885.4,357.0 886.2,359.1 888.3,361.4 889.4,364.2 890.2,362.0 892.0,360.6 892.7,358.5 892.0,356.3 893.1,354.2 892.7,352.1 892.4,350.0 892.8,347.9 893.1,345.8 893.6,343.7 893.1,341.5 893.6,339.4 893.7,337.2 893.9,335.0 893.6,332.9 893.3,330.7 892.9,328.5 893.9,326.4 893.1,324.2 893.3,322.0 893.5,319.9 893.4,322.0 894.1,324.2 894.3,326.3 893.5,328.5 893.9,330.7 893.6,332.9 893.6,335.0 893.4,337.2 894.4,339.3 894.2,341.5 894.8,343.8 894.6,346.1 893.7,348.4 894.9,350.6 894.1,352.9 894.6,355.2 894.1,357.5 894.1,359.7 894.7,362.0 896.4,362.6 898.0,362.6 898.3,360.4 898.7,358.2 898.6,355.9 898.6,353.6 898.9,351.4 899.4,349.2 899.7,347.0 900.3,344.8 901.0,342.7 899.7,340.5 900.9,338.4 899.8,336.2 901.1,334.1 900.7,332.0 900.2,329.8 900.7,327.7 900.9,325.5 901.0,323.4 900.1,321.3 901.2,319.1 901.0,317.0 901.3,314.9 900.1,312.7 901.4,310.6 901.2,308.4 900.3,306.3 901.2,304.2 901.2,302.0 900.8,299.9 901.2,297.7 900.6,295.6 900.5,293.4 900.9,291.3 901.5,289.2 900.6,287.0 900.7,284.9 901.1,282.8 901.3,280.6 901.8,278.5 901.3,276.3 900.9,274.2 901.0,272.1 901.5,269.9 901.9,267.8 901.9,265.6 901.5,263.5 901.1,261.4 901.9,259.2 901.0,257.1 902.0,254.9 901.5,252.8 904.0,252.8 904.3,254.9 904.5,257.1 904.7,259.2 904.1,261.3 904.2,263.5 903.7,265.6 903.5,267.7 904.1,269.9 903.4,272.0 903.3,274.2 904.2,276.3 904.5,278.4 904.6,280.6 904.3,282.7 904.2,284.8 903.3,287.0 904.3,289.1 904.5,291.2 903.4,293.4 903.9,295.5 903.8,297.6 903.6,299.8 904.0,301.9 903.6,304.0 903.8,306.2 904.6,308.3 904.7,310.5 903.6,312.6 904.7,314.7 903.6,316.9 904.2,319.0 903.4,321.1 904.6,323.3 904.0,325.4" fill="none" stroke="#0000ff" stroke-width="4.0" stroke-linejoin="round" stroke-linecap="round" clip-path="url(#ca)"/>
<polyline points="140.2,460.5 139.7,458.3 140.6,456.2 140.5,454.0 139.9,451.9 140.2,449.7 140.2,447.6 140.4,445.4 140.6,443.3 139.8,441.1 139.7,439.0 140.7,436.8 140.3,434.7 140.7,432.5 139.8,430.4 140.3,428.2 140.7,426.1 140.1,423.9 141.0,421.8 140.9,419.7 139.9,417.5 139.9,415.3 140.5,413.2 141.0,411.1 140.4,408.9 140.2,406.8 140.4,404.6 140.0,402.5 140.2,400.3 140.5,398.2 140.6,396.0 140.3,393.9 140.3,391.7 140.3,389.6 140.6,387.4 140.4,385.3 140.1,383.1 141.1,381.0 140.8,378.8 140.9,376.7 140.7,374.5 143.7,373.6 145.0,371.1 147.4,369.3 148.6,366.7 152.5,366.7 154.7,365.6 156.4,363.8 160.3,364.8 162.5,362.9 165.2,361.8 167.5,360.7 170.0,359.9 172.4,360.6 174.9,360.9 178.8,360.5 181.0,358.4 182.7,356.0 184.2,354.3 184.6,352.0 186.0,350.3 186.6,348.2 188.8,345.8 190.6,343.3 192.8,341.1 195.4,339.4 197.4,338.0 199.3,336.4 203.2,337.4 203.8,340.2 204.8,342.8 206.2,345.2 210.1,345.6 212.0,343.5 214.0,341.3 216.0,339.0 217.9,336.4 218.7,333.9 220.2,331.7 221.8,329.6 224.0,328.4 225.7,326.7 228.2,327.1 230.6,327.7 232.8,329.3 234.5,331.6 236.4,332.4 238.4,333.1 240.5,331.5 242.3,329.6 243.5,327.8 244.1,325.6 245.2,323.8 246.1,321.4 247.2,319.2 248.2,316.9 252.1,317.9 254.2,316.7 256.0,315.0 259.9,314.0 261.2,312.0 262.4,310.0 263.8,308.1 264.5,305.7 264.7,303.1 265.5,300.6 266.7,298.4 267.9,296.5 269.2,294.7 269.6,292.5 271.2,290.1 272.6,287.6 273.0,285.4 273.4,283.2 274.3,281.2 275.5,279.2 275.5,276.9 276.4,274.6 276.7,272.2 277.7,270.0 277.5,267.4 278.4,265.2 281.4,262.2 283.3,263.2 284.1,260.3 284.9,257.3 284.9,259.7 286.0,261.8 286.7,263.9 287.2,266.1 290.0,266.9 292.6,269.8 293.6,267.5 295.1,265.5 295.7,262.9 296.7,260.5 296.1,257.7 297.3,255.3 298.3,253.0 299.1,250.6 299.4,248.0 300.9,246.6 300.8,249.0 301.4,251.3 301.7,253.6 302.4,255.9 302.8,258.2 303.2,255.9 303.4,253.5 303.3,251.1 304.6,249.0 304.5,246.6 305.7,245.1 306.2,247.3 307.3,249.4 307.5,251.7 308.2,253.8 308.9,250.9 309.6,248.0 311.8,246.6 314.7,245.8 314.9,243.5 315.2,241.2 315.8,239.0 316.3,236.7 316.6,234.4 316.9,232.0 317.1,229.8 316.8,227.5 317.3,225.2 317.5,223.0 318.2,220.8 318.8,218.5 318.9,216.3 319.2,214.0 319.1,211.7 319.8,209.6 319.5,207.3 320.6,205.2 320.7,203.0 320.4,200.7 321.2,198.6 321.7,196.2 323.1,194.3 324.1,196.4 323.6,198.7 324.5,200.8 324.6,203.0 325.3,205.3 324.8,207.7 325.4,209.9 325.9,212.2 325.6,214.6 326.5,217.2 326.5,219.9 327.1,222.6 327.4,220.3 328.2,218.2 329.2,216.1 332.1,213.9 334.3,214.6 334.8,212.1 334.8,209.5 334.9,207.0 335.3,204.4 335.6,206.6 336.4,208.7 336.2,211.0 336.4,213.1 336.9,215.3 336.8,217.5 337.5,219.7 336.8,222.1 337.6,224.4 338.2,226.6 338.0,228.9 338.0,231.3 338.7,233.5 339.6,235.6 340.0,237.8 340.2,240.0 339.9,242.3 340.9,244.3 340.9,246.6 341.3,248.8 342.1,251.0 343.0,253.1 343.3,250.5 343.2,247.8 343.8,245.1 343.9,247.9 344.9,250.5 345.9,253.1 347.0,255.3 348.1,257.5 348.3,254.7 349.3,252.2 349.6,249.5 349.9,247.1 350.5,244.8 350.7,242.5 351.5,240.2 351.8,237.8 352.6,239.9 352.7,242.2 352.3,244.5 353.2,246.6 354.4,244.3 354.4,241.7 355.4,239.3 356.3,237.2 356.2,234.9 357.5,232.9 357.6,230.6 358.6,228.0 358.9,225.2 359.7,222.6 361.9,221.9 362.8,219.9 364.1,218.2 364.7,216.1 366.3,214.6 368.1,212.3 369.2,209.5 369.2,207.0 370.6,204.9 371.4,202.6 371.4,200.1 371.8,197.9 371.7,195.7 372.9,193.6 373.4,191.5 373.4,189.2 373.5,187.0 373.9,184.6 374.1,182.1 374.4,179.7 374.6,177.3 375.6,174.9 375.7,172.5 377.2,171.0 377.5,173.4 378.0,175.8 378.4,178.2 377.9,180.7 378.6,183.1 378.6,185.6 379.1,188.1 379.7,190.6 379.5,193.3 380.4,195.7 383.0,197.9 383.6,200.6 385.2,203.0 387.3,203.0 388.8,200.8 390.1,202.8 390.6,205.0 391.0,207.3 392.3,209.4 393.2,211.7 394.6,213.9 396.2,211.6 396.8,208.8 398.1,207.0 398.6,204.8 399.7,203.0 399.9,200.6 401.1,198.4 401.8,196.1 402.5,193.8 402.6,191.4 402.8,189.2 403.8,187.1 403.9,184.9 404.0,182.6 405.0,180.6 404.5,178.2 405.4,176.2 405.5,173.9 405.4,171.4 405.8,169.0 407.1,166.7 406.6,164.2 407.6,161.9 407.7,159.4 408.5,157.0 409.5,154.7 409.9,152.1 410.0,152.8 412.2,151.4 412.6,153.4 412.9,155.5 413.2,157.6 412.7,159.8 413.3,161.9 413.1,164.0 413.4,166.1 414.6,168.1 414.4,170.2 415.4,172.5 416.5,174.6 417.2,171.5 418.7,168.8 419.7,171.0 420.1,173.4 419.6,175.9 420.1,178.2 420.9,180.4 420.8,182.7 421.7,184.8 421.7,187.0 421.8,189.2 422.6,191.3 422.8,193.5 423.7,191.6 424.1,189.5 425.3,187.7 425.1,185.4 425.7,183.3 426.8,181.2 426.8,179.0 427.6,176.9 427.4,174.6 427.7,172.4 427.9,170.2 428.9,168.1 429.3,166.0 428.7,163.6 429.8,161.6 429.5,159.3 430.3,157.2 430.2,154.8 431.4,152.7 430.7,150.2 431.3,148.0 432.5,145.8 432.1,143.5 432.5,141.2 433.2,138.8 434.7,136.8 436.9,135.4 437.6,133.0 439.1,131.0 439.1,128.8 440.0,126.7 439.5,124.4 440.8,122.4 440.5,120.1 440.9,118.0 440.7,120.2 441.0,122.4 442.1,124.5 442.4,126.6 442.4,128.8 442.7,131.0 443.5,133.2 443.1,135.6 444.2,137.8 444.5,140.1 443.7,142.5 444.8,144.7 444.9,147.0 445.1,149.2 445.7,151.4 446.2,153.5 446.8,155.6 446.2,158.0 447.1,160.1 447.5,163.2 448.9,165.9 451.4,163.0 453.6,164.4 454.7,162.0 454.2,159.3 454.9,156.7 455.8,154.3 457.9,152.8 458.7,150.5 459.7,148.3 459.7,145.9 460.5,143.6 460.9,141.2 461.0,143.5 461.8,145.8 461.8,148.2 462.5,150.5 462.6,152.8 463.1,154.9 463.5,157.0 463.5,159.1 462.9,161.3 463.7,163.3 463.7,165.4 463.9,167.5 463.7,169.7 464.5,171.7 464.9,173.9 465.3,176.0 465.5,178.2 465.8,180.4 465.4,182.7 465.6,184.8 466.6,186.9 466.7,189.1 468.3,191.2 469.6,193.5 471.0,195.7 472.5,197.8 473.4,199.8 474.3,201.8 475.4,203.7 476.0,205.8 476.6,207.9 476.7,210.2 477.2,212.3 477.0,214.6 477.9,216.7 478.2,218.8 478.0,221.1 478.8,218.6 479.0,216.0 480.2,213.6 480.5,210.9 481.0,208.4 482.0,205.9 481.7,203.2 482.6,200.8 483.4,198.3 484.4,196.0 484.8,193.5 485.1,190.9 486.8,188.8 487.0,186.2 487.2,183.8 488.5,181.7 489.3,179.4 489.7,177.0 489.9,174.6 490.8,177.0 491.8,179.3 492.1,181.9 492.8,184.1 493.5,186.2 494.5,184.0 494.2,181.5 495.3,179.3 494.9,176.9 495.7,174.6 497.2,174.6 497.2,176.9 498.8,178.8 499.0,181.1 499.4,183.3 499.2,185.8 499.7,188.2 500.0,190.7 500.4,193.1 500.9,195.5 501.5,197.8 501.6,200.2 502.5,202.4 502.5,204.7 503.2,206.9 502.8,209.3 503.2,211.6 503.7,213.8 504.7,215.9 505.2,218.2 505.8,215.1 507.3,212.4 509.3,210.5 510.2,208.0 511.1,205.9 511.3,203.7 511.8,201.5 512.6,199.4 512.6,197.1 513.2,194.9 513.5,192.8 513.8,190.8 514.1,188.7 514.3,186.5 515.4,184.6 515.5,182.5 516.1,180.4 516.5,178.4 516.3,176.2 517.0,174.2 517.1,172.0 517.5,170.0 518.0,167.9 518.7,165.9 518.6,168.0 519.5,170.0 519.9,172.1 520.0,174.2 520.8,176.2 521.4,178.2 521.1,180.4 521.5,182.5 522.0,184.6 522.2,186.7 522.9,188.7 523.0,190.8 523.4,192.9 524.0,194.9 524.2,192.6 524.9,190.3 525.3,188.0 525.5,185.6 526.2,183.3 526.5,180.9 527.0,178.5 527.8,176.1 528.2,173.7 527.8,171.2 528.4,168.8 528.9,166.6 528.6,164.4 529.0,162.2 529.9,160.1 530.0,159.5 531.0,157.5 532.3,155.8 532.9,153.7 534.4,155.7 535.1,158.0 535.1,160.2 535.2,162.4 536.2,164.5 536.0,166.8 536.5,168.9 538.0,167.3 538.7,165.3 539.4,162.3 540.5,159.5 540.9,157.4 541.1,155.3 541.1,153.1 541.6,151.1 541.8,149.0 542.0,146.8 541.7,144.7 541.4,142.5 541.7,140.4 541.8,138.3 542.4,136.2 542.6,134.1 543.0,131.9 542.4,129.6 543.3,127.5 543.5,125.4 543.3,123.1 543.6,121.0 543.8,118.8 543.8,116.6 544.8,114.5 544.4,112.2 545.3,110.1 544.9,112.4 545.3,114.7 545.7,116.9 546.4,119.2 545.8,121.5 546.0,123.8 546.7,126.1 547.0,123.7 548.2,121.7 548.8,119.4 549.1,117.1 549.2,114.8 549.6,112.4 549.6,110.1 550.0,107.5 551.1,105.1 551.6,102.6 551.5,99.9 552.0,102.4 551.9,105.0 552.7,107.5 553.0,110.1 553.8,112.6 554.0,115.1 554.7,117.6 554.7,120.2 556.9,118.8 556.6,121.0 556.7,123.2 557.9,125.3 557.5,127.5 557.9,129.7 558.4,131.8 558.4,134.0 558.3,136.2 558.8,138.5 558.4,140.8 559.5,143.0 559.5,145.3 559.4,147.6 560.1,149.9 559.8,152.2 560.2,154.8 560.7,157.3 561.0,159.9 562.0,162.4 563.2,165.2 563.7,168.2 564.8,165.9 566.3,163.8 567.1,161.4 567.5,158.9 568.5,156.6 568.9,154.3 568.8,152.0 569.7,149.8 570.1,147.5 570.4,145.2 570.9,142.9 570.7,140.6 571.7,138.4 572.6,136.2 573.5,138.4 574.3,140.6 574.1,142.8 574.3,145.0 574.7,147.1 575.1,149.3 575.4,151.5 575.3,153.7 576.3,156.2 575.9,159.1 576.8,161.7 578.7,160.9 579.4,163.1 578.9,165.3 579.3,167.5 579.1,169.7 579.6,171.9 580.1,174.0 579.7,176.2 580.9,178.3 580.7,180.5 580.8,182.7 581.3,184.9 581.2,187.1 581.6,189.2 581.6,191.4 582.0,193.6 583.1,195.7 583.1,198.0 583.5,200.2 584.1,202.6 584.9,204.9 585.2,207.4 586.4,209.5 587.4,211.8 588.3,213.8 589.9,215.4 590.7,213.3 591.1,211.1 591.8,208.9 592.1,206.6 592.0,204.3 592.0,202.0 592.0,199.7 592.5,197.4 593.1,195.2 593.2,192.9 594.6,190.1 595.1,187.1 596.8,184.2 597.0,186.8 597.9,189.3 597.9,191.9 599.0,194.3 599.6,196.5 599.7,198.8 600.8,200.9 601.2,203.1 601.8,205.7 602.9,208.2 604.0,205.9 603.7,203.4 604.0,201.0 604.8,198.7 606.0,196.6 607.0,194.3 609.6,195.1 610.3,197.3 611.1,199.4 611.6,201.6 613.0,203.9 613.3,206.4 614.0,208.9 614.9,211.0 615.7,213.2 616.2,215.8 616.0,218.4 616.7,220.9 617.2,223.4 618.0,226.1 619.4,228.5 620.4,230.6 622.3,232.1 624.4,232.8 624.4,235.4 625.0,237.8 625.0,240.3 625.4,242.7 625.9,245.2 626.8,247.8 628.1,250.3 630.2,249.6 631.5,246.7 632.4,243.8 633.0,241.3 634.0,238.9 634.6,236.5 635.5,234.1 636.6,231.8 636.8,229.2 637.5,226.8 637.9,224.4 638.2,222.0 638.6,219.6 638.7,217.1 639.0,214.7 639.7,211.7 640.7,208.9 642.6,210.3 643.4,212.7 643.3,215.2 644.0,217.6 645.0,215.1 645.2,212.5 645.3,209.9 646.2,207.4 647.7,204.7 648.4,201.6 649.2,204.5 649.9,207.4 650.7,209.8 651.9,212.1 652.2,214.7 652.7,216.9 653.0,219.1 653.9,221.2 654.4,223.4 655.0,225.7 655.0,228.1 656.2,230.3 656.1,232.7 656.5,235.0 656.8,237.4 657.8,239.5 658.7,241.6 659.0,239.2 659.8,236.9 660.1,234.5 660.5,232.1 660.6,229.9 661.1,227.7 662.3,225.7 662.4,223.4 665.3,223.4 668.9,222.7 670.6,224.3 671.8,226.3 675.4,227.8 677.6,229.6 679.1,232.1 679.7,234.2 681.0,236.0 682.0,237.9 682.7,240.1 683.0,242.3 683.3,244.5 684.1,246.7 685.5,248.4 685.9,250.6 687.0,252.5 690.0,253.9 692.1,256.1 693.6,258.3 695.8,255.4 696.4,253.2 696.9,251.1 696.6,248.8 697.2,246.7 698.3,244.8 698.9,242.6 700.1,240.8 701.2,238.9 701.7,236.8 703.0,235.0 704.3,233.2 705.4,231.4 705.9,229.2 706.7,226.7 707.6,224.2 708.8,221.9 711.8,221.2 713.0,218.7 713.4,216.0 713.9,213.2 715.4,210.5 716.1,207.4 718.3,207.4 719.9,209.0 720.5,211.1 721.2,208.9 721.2,206.7 721.1,204.5 721.5,202.3 721.9,200.2 724.1,198.0 727.0,198.0 729.2,196.5 730.2,194.4 730.6,192.2 730.8,194.4 732.0,196.4 732.1,198.7 732.3,200.9 733.2,203.0 732.6,205.3 733.5,207.4 734.7,209.6 735.7,211.8 736.4,214.2 737.9,216.1 738.4,218.6 739.2,221.0 740.1,223.4 740.9,225.9 741.1,228.5 742.1,230.9 742.3,233.6 742.8,231.2 744.1,229.2 744.6,227.0 744.4,224.7 745.0,222.5 744.6,220.2 745.4,217.9 745.6,215.7 745.3,213.4 745.2,211.1 745.9,208.9 746.0,206.7 746.3,204.5 746.1,202.3 746.4,200.1 746.4,197.9 747.3,195.8 747.9,193.7 747.6,191.4 750.2,188.5 750.9,186.4 751.7,184.4 753.2,182.7 754.4,180.4 755.4,178.0 756.1,175.5 757.8,173.6 758.7,171.1 759.4,173.1 760.5,174.9 761.1,176.9 761.1,179.2 762.3,181.2 762.0,183.5 763.1,185.6 763.1,187.8 763.3,190.0 763.7,192.3 764.2,194.6 764.8,196.8 765.1,199.1 764.8,201.5 765.5,203.8 766.0,201.4 766.7,199.1 766.8,196.6 767.7,194.3 768.1,192.1 767.9,189.8 768.4,187.6 768.9,185.3 769.2,183.1 768.3,180.7 769.4,178.5 769.7,176.3 769.2,173.9 769.5,171.7 769.9,169.4 770.0,167.2 771.0,165.1 771.0,162.8 772.1,160.7 772.2,158.5 773.6,155.7 774.4,152.6 774.8,150.3 776.6,148.5 777.0,146.1 779.0,149.7 780.1,151.8 780.4,154.0 780.2,156.3 780.9,158.5 781.7,160.7 781.7,163.0 782.3,165.2 782.2,167.6 782.1,169.9 782.3,172.2 783.1,174.4 784.0,176.6 784.4,178.9 783.9,181.4 785.3,183.5 785.4,185.8 786.0,188.1 786.0,190.4 787.0,192.3 787.7,194.3 787.6,196.6 788.0,198.6 788.9,200.6 789.0,203.0 789.2,205.5 789.8,207.9 790.5,210.3 790.6,212.7 791.1,215.1 791.0,217.5 791.8,219.8 792.7,222.0 793.3,224.3 793.2,226.7 794.7,228.2 796.3,226.3 796.9,223.8 799.1,220.9 799.5,218.7 799.5,216.3 800.1,214.1 800.4,211.8 800.6,209.5 800.4,207.2 801.2,204.9 801.4,202.6 801.8,200.4 801.8,198.1 802.9,195.9 802.7,193.5 803.3,191.3 803.4,189.0 804.2,187.0 804.9,185.0 805.4,182.9 806.0,180.9 806.3,178.8 807.0,176.5 808.8,174.7 809.2,172.3 810.7,173.9 811.4,175.9 811.7,178.5 812.5,180.9 813.6,183.2 815.8,184.6 818.0,183.9 820.9,184.6 821.2,187.6 822.3,190.4 823.0,192.6 823.1,194.9 822.4,197.2 823.0,199.5 823.3,201.7 822.7,204.0 824.0,206.2 823.6,208.5 823.8,210.8 824.1,213.3 824.8,215.8 824.8,218.4 824.9,220.9 826.7,223.8 827.4,221.5 828.1,219.1 828.1,216.6 830.3,215.1 830.5,212.1 831.8,209.3 832.4,211.5 833.7,213.5 833.9,215.8 835.4,213.4 836.1,210.8 836.9,213.0 837.2,215.3 837.1,217.7 837.0,220.1 837.6,222.4 838.1,220.1 839.0,218.0 839.7,215.0 841.2,212.2 841.2,214.4 841.6,216.6 841.9,218.8 842.6,220.9 843.3,223.2 843.6,225.6 844.2,227.8 844.3,230.2 844.8,232.6 845.7,234.9 846.5,237.3 847.0,239.8 846.9,242.3 846.9,244.7 847.6,247.1 848.4,249.5 848.0,251.9 848.5,254.3 849.1,256.5 849.0,258.8 849.8,260.9 850.6,263.1 851.2,265.6 852.3,268.0 853.5,270.3 855.7,270.3 856.5,268.2 857.2,266.0 860.1,264.5 861.9,262.6 863.0,260.2 865.2,261.6 866.6,260.0 867.3,258.0 868.3,260.6 869.2,263.2 869.5,266.0 870.6,267.8 871.4,269.9 872.4,271.8 874.3,273.7 875.3,276.1 877.5,277.6 877.9,275.4 878.7,273.3 878.6,270.9 879.7,268.9 882.6,268.1 884.8,268.9 885.5,271.9 887.0,274.7 888.3,277.0 889.9,279.1 892.8,278.3 895.7,276.9 896.2,274.6 897.0,272.4 898.0,270.3 900.3,269.7 900.9,267.2 901.7,264.8 902.7,262.4 904.5,260.0" fill="none" stroke="#ff0000" stroke-width="4.0" stroke-linejoin="round" stroke-linecap="round" clip-path="url(#ca)"/>
<text transform="translate(64.8,247) rotate(-90)" fill="#0000ff" text-anchor="middle" font-size="32.6" textLength="317" lengthAdjust="spacing">Solar irradiance (W/m<tspan dx="-4" dy="-16.5" font-size="27">2</tspan><tspan dy="16.5">)</tspan></text>
<text transform="translate(965.8,242.5) rotate(-90)" fill="#ff0000" text-anchor="middle" font-size="32.6" textLength="342" lengthAdjust="spacing">Temperature of cells (°C)</text>
<text x="502" y="532.3" text-anchor="middle" font-size="32.5">(<tspan font-weight="bold">a</tspan>)</text>
</g>
<g>
<line x1="241.5" y1="587.5" x2="241.5" y2="1018" stroke="#555" stroke-width="1.15" stroke-dasharray="8 7.6"/>
<line x1="326.5" y1="587.5" x2="326.5" y2="1018" stroke="#aaa" stroke-width="1.15" stroke-dasharray="8 7.6"/>
<line x1="411.5" y1="587.5" x2="411.5" y2="1018" stroke="#aaa" stroke-width="1.15" stroke-dasharray="8 7.6"/>
<line x1="496.5" y1="587.5" x2="496.5" y2="1018" stroke="#666" stroke-width="1.15" stroke-dasharray="8 7.6"/>
<line x1="581.5" y1="587.5" x2="581.5" y2="1018" stroke="#555" stroke-width="1.15" stroke-dasharray="8 7.6"/>
<line x1="666.5" y1="587.5" x2="666.5" y2="1018" stroke="#555" stroke-width="1.15" stroke-dasharray="8 7.6"/>
<line x1="751.5" y1="587.5" x2="751.5" y2="1018" stroke="#aaa" stroke-width="1.15" stroke-dasharray="8 7.6"/>
<line x1="836.5" y1="587.5" x2="836.5" y2="1018" stroke="#555" stroke-width="1.15" stroke-dasharray="8 7.6"/>
<line x1="156.5" y1="946.5" x2="921.5" y2="946.5" stroke="#8c8c8c" stroke-width="1.15" stroke-dasharray="8 7.6"/>
<line x1="156.5" y1="874.5" x2="921.5" y2="874.5" stroke="#8c8c8c" stroke-width="1.15" stroke-dasharray="8 7.6"/>
<line x1="156.5" y1="802.5" x2="921.5" y2="802.5" stroke="#5a5a5a" stroke-width="1.5" stroke-dasharray="8 7.6"/>
<line x1="156.5" y1="731.5" x2="921.5" y2="731.5" stroke="#999" stroke-width="1.15" stroke-dasharray="8 7.6"/>
<line x1="156.5" y1="659.5" x2="921.5" y2="659.5" stroke="#999" stroke-width="1.15" stroke-dasharray="8 7.6"/>
<rect x="156.5" y="587.5" width="765.0" height="430.5" fill="none" stroke="#666" stroke-width="1.2"/>
<line x1="156.5" y1="1018" x2="156.5" y2="1013" stroke="#555" stroke-width="1"/>
<line x1="156.5" y1="587.5" x2="156.5" y2="592.5" stroke="#555" stroke-width="1"/>
<text transform="translate(156.50,1047.50) scale(1,1.09)" fill="#000" text-anchor="middle" font-size="29" >9h</text>
<line x1="241.5" y1="1018" x2="241.5" y2="1013" stroke="#555" stroke-width="1"/>
<line x1="241.5" y1="587.5" x2="241.5" y2="592.5" stroke="#555" stroke-width="1"/>
<text transform="translate(242.70,1047.50) scale(1,1.09)" fill="#000" text-anchor="middle" font-size="29" >10h</text>
<line x1="326.5" y1="1018" x2="326.5" y2="1013" stroke="#555" stroke-width="1"/>
<line x1="326.5" y1="587.5" x2="326.5" y2="592.5" stroke="#555" stroke-width="1"/>
<text transform="translate(327.70,1047.50) scale(1,1.09)" fill="#000" text-anchor="middle" font-size="29" >11h</text>
<line x1="411.5" y1="1018" x2="411.5" y2="1013" stroke="#555" stroke-width="1"/>
<line x1="411.5" y1="587.5" x2="411.5" y2="592.5" stroke="#555" stroke-width="1"/>
<text transform="translate(412.70,1047.50) scale(1,1.09)" fill="#000" text-anchor="middle" font-size="29" >12h</text>
<line x1="496.5" y1="1018" x2="496.5" y2="1013" stroke="#555" stroke-width="1"/>
<line x1="496.5" y1="587.5" x2="496.5" y2="592.5" stroke="#555" stroke-width="1"/>
<text transform="translate(497.70,1047.50) scale(1,1.09)" fill="#000" text-anchor="middle" font-size="29" >13h</text>
<line x1="581.5" y1="1018" x2="581.5" y2="1013" stroke="#555" stroke-width="1"/>
<line x1="581.5" y1="587.5" x2="581.5" y2="592.5" stroke="#555" stroke-width="1"/>
<text transform="translate(582.70,1047.50) scale(1,1.09)" fill="#000" text-anchor="middle" font-size="29" >14h</text>
<line x1="666.5" y1="1018" x2="666.5" y2="1013" stroke="#555" stroke-width="1"/>
<line x1="666.5" y1="587.5" x2="666.5" y2="592.5" stroke="#555" stroke-width="1"/>
<text transform="translate(667.70,1047.50) scale(1,1.09)" fill="#000" text-anchor="middle" font-size="29" >15h</text>
<line x1="751.5" y1="1018" x2="751.5" y2="1013" stroke="#555" stroke-width="1"/>
<line x1="751.5" y1="587.5" x2="751.5" y2="592.5" stroke="#555" stroke-width="1"/>
<text transform="translate(752.70,1047.50) scale(1,1.09)" fill="#000" text-anchor="middle" font-size="29" >16h</text>
<line x1="836.5" y1="1018" x2="836.5" y2="1013" stroke="#555" stroke-width="1"/>
<line x1="836.5" y1="587.5" x2="836.5" y2="592.5" stroke="#555" stroke-width="1"/>
<text transform="translate(837.70,1047.50) scale(1,1.09)" fill="#000" text-anchor="middle" font-size="29" >17h</text>
<line x1="921.5" y1="1018" x2="921.5" y2="1013" stroke="#555" stroke-width="1"/>
<line x1="921.5" y1="587.5" x2="921.5" y2="592.5" stroke="#555" stroke-width="1"/>
<text transform="translate(922.70,1047.50) scale(1,1.09)" fill="#000" text-anchor="middle" font-size="29" >18h</text>
<line x1="156.5" y1="1018.0" x2="162.5" y2="1018.0" stroke="#555" stroke-width="1"/>
<line x1="921.5" y1="1018.0" x2="915.5" y2="1018.0" stroke="#555" stroke-width="1"/>
<text transform="translate(155.00,1029.60) scale(1,1.09)" fill="#000" text-anchor="end" font-size="29" >-300</text>
<line x1="156.5" y1="946.2" x2="162.5" y2="946.2" stroke="#555" stroke-width="1"/>
<line x1="921.5" y1="946.2" x2="915.5" y2="946.2" stroke="#555" stroke-width="1"/>
<text transform="translate(155.00,957.85) scale(1,1.09)" fill="#000" text-anchor="end" font-size="29" >-200</text>
<line x1="156.5" y1="874.5" x2="162.5" y2="874.5" stroke="#555" stroke-width="1"/>
<line x1="921.5" y1="874.5" x2="915.5" y2="874.5" stroke="#555" stroke-width="1"/>
<text transform="translate(155.00,886.10) scale(1,1.09)" fill="#000" text-anchor="end" font-size="29" >-100</text>
<line x1="156.5" y1="802.8" x2="162.5" y2="802.8" stroke="#555" stroke-width="1"/>
<line x1="921.5" y1="802.8" x2="915.5" y2="802.8" stroke="#555" stroke-width="1"/>
<text transform="translate(155.00,814.35) scale(1,1.09)" fill="#000" text-anchor="end" font-size="29" >0</text>
<line x1="156.5" y1="731.0" x2="162.5" y2="731.0" stroke="#555" stroke-width="1"/>
<line x1="921.5" y1="731.0" x2="915.5" y2="731.0" stroke="#555" stroke-width="1"/>
<text transform="translate(155.00,742.60) scale(1,1.09)" fill="#000" text-anchor="end" font-size="29" >100</text>
<line x1="156.5" y1="659.2" x2="162.5" y2="659.2" stroke="#555" stroke-width="1"/>
<line x1="921.5" y1="659.2" x2="915.5" y2="659.2" stroke="#555" stroke-width="1"/>
<text transform="translate(155.00,670.85) scale(1,1.09)" fill="#000" text-anchor="end" font-size="29" >200</text>
<line x1="156.5" y1="587.5" x2="162.5" y2="587.5" stroke="#555" stroke-width="1"/>
<line x1="921.5" y1="587.5" x2="915.5" y2="587.5" stroke="#555" stroke-width="1"/>
<text transform="translate(155.00,599.10) scale(1,1.09)" fill="#000" text-anchor="end" font-size="29" >300</text>
<clipPath id="cb"><rect x="156.5" y="587.5" width="765.0" height="430.5"/></clipPath>
<polyline points="157.0,795.3 159.4,793.8 162.5,792.2 165.6,791.4 168.8,792.2 171.9,790.6 175.0,789.8 178.1,789.1 181.2,790.6 184.4,792.2 187.5,793.8 190.6,792.2 191.9,790.3 193.8,789.1 196.9,786.7 200.0,785.9 203.1,786.7 206.2,789.1 209.4,789.8 212.5,789.1 215.6,791.4 218.0,792.2 220.3,790.6 223.4,789.8 225.8,791.4 228.1,788.3 231.2,785.6 234.4,785.2 237.5,784.4 240.6,784.4 243.8,785.2 247.7,785.6 249.9,784.6 251.6,782.8 254.7,782.0 257.8,780.5 260.9,778.1 263.3,780.5 266.4,779.4 269.5,778.9 271.6,778.0 273.4,776.6 274.8,774.8 276.6,773.4 278.1,771.9 279.7,770.3 281.2,768.7 282.8,767.2 285.2,766.4 287.5,767.2 288.8,764.9 289.8,762.5 291.4,764.8 292.3,762.6 292.0,760.0 293.0,757.8 292.9,755.1 294.4,752.7 294.5,750.0 294.9,752.5 294.8,755.0 296.1,757.4 295.8,760.0 296.1,762.5 297.7,765.6 298.7,763.0 299.2,760.2 300.0,758.1 300.8,760.1 300.5,762.4 301.6,764.4 301.9,766.9 303.1,769.1 305.5,770.6 307.8,769.8 310.2,767.5 310.1,765.3 310.6,763.2 311.7,761.2 312.3,758.7 313.3,756.1 313.3,753.4 315.6,750.3 318.0,753.4 318.1,751.2 318.3,749.0 318.8,746.9 318.7,744.6 319.5,742.5 320.2,745.0 320.2,747.5 320.5,750.0 321.1,752.5 321.1,755.0 321.3,752.3 321.8,749.7 322.7,747.2 323.0,749.4 323.5,751.5 324.2,753.7 323.5,756.0 324.2,758.1 324.4,755.6 324.7,753.1 324.3,750.6 325.4,748.2 325.0,745.6 324.9,748.2 326.1,750.6 326.1,753.1 326.0,755.7 326.6,758.1 327.1,760.5 328.1,762.8 329.2,760.3 329.1,757.6 329.7,755.0 330.3,752.8 330.2,750.5 330.0,748.2 330.5,746.0 331.0,743.8 331.1,741.5 330.9,739.2 331.2,737.0 331.2,734.7 330.8,732.5 331.3,730.3 332.1,728.2 331.8,725.9 332.0,723.8 333.6,720.6 335.9,722.2 338.3,721.4 338.9,723.5 338.6,725.7 338.6,727.9 339.1,730.0 339.1,732.5 339.7,735.0 339.9,737.5 340.0,740.0 340.3,742.5 340.9,740.2 340.9,737.8 341.0,735.5 341.4,733.1 341.8,735.5 342.7,737.7 343.1,740.1 343.0,742.5 343.4,740.3 344.0,738.2 343.7,735.9 343.7,733.7 344.1,731.6 346.1,728.4 348.4,730.0 349.6,731.9 350.0,734.2 350.8,736.2 350.7,738.5 351.5,740.5 352.3,742.5 352.6,744.7 352.5,746.9 353.6,749.0 353.6,751.3 353.9,753.4 353.5,755.7 354.0,757.8 354.3,760.0 354.6,762.2 354.4,764.4 354.0,766.6 355.3,768.7 354.4,771.0 354.5,773.1 355.0,775.3 355.7,773.0 355.7,770.6 356.0,768.3 355.9,765.9 356.1,763.6 356.2,761.2 356.4,759.0 356.2,756.7 357.4,754.6 357.2,752.3 357.0,750.0 357.6,747.9 357.8,745.6 359.4,742.5 360.2,744.8 360.9,747.2 361.3,745.1 361.8,743.0 362.5,740.9 364.1,739.4 365.6,742.5 367.2,739.4 368.8,740.2 370.3,739.4 370.9,736.8 371.5,734.2 371.9,731.6 373.4,730.0 375.0,731.6 375.9,729.3 376.6,726.9 378.1,730.0 378.9,727.6 379.7,725.3 382.0,724.5 383.3,726.3 383.6,728.4 385.2,730.0 385.6,727.8 386.4,725.7 387.5,723.8 388.4,721.4 389.1,719.1 390.6,717.5 392.2,719.8 393.8,722.2 393.8,724.4 394.4,726.4 395.3,728.4 395.5,730.6 396.0,732.7 396.9,734.7 398.4,733.9 399.5,735.8 400.0,737.8 401.6,739.4 403.1,737.8 403.2,740.5 404.0,743.1 404.7,745.6 406.2,748.8 407.8,747.2 409.4,745.6 409.2,743.4 409.4,741.2 409.7,739.0 410.9,736.9 410.9,734.7 411.4,732.3 412.5,730.0 413.3,727.4 414.8,725.3 417.2,724.5 418.5,722.7 419.5,720.6 421.9,719.1 424.2,719.8 426.6,722.2 427.3,724.2 428.1,726.2 428.1,728.4 428.5,726.0 429.7,723.8 429.8,725.9 430.4,728.1 430.4,730.3 430.1,732.5 430.5,734.7 430.8,736.9 430.8,739.1 431.5,741.2 431.2,743.4 431.2,745.6 431.3,743.3 431.2,740.9 431.3,738.6 432.4,736.3 432.0,733.9 431.8,731.5 432.5,729.2 432.5,726.9 433.6,724.7 434.1,722.2 435.4,724.4 435.6,726.9 436.4,729.1 436.5,731.3 436.0,733.6 436.9,735.8 436.5,738.1 436.8,740.3 437.2,742.5 437.3,744.7 437.8,746.9 437.1,749.2 437.5,751.5 437.9,753.7 438.5,755.9 438.3,758.1 438.7,755.9 438.6,753.6 439.0,751.4 439.0,749.2 439.6,747.0 439.1,744.7 439.8,742.5 439.9,740.1 440.9,737.9 441.1,735.5 440.7,733.1 441.6,730.8 441.4,728.4 442.0,726.0 443.0,723.8 444.0,721.8 444.3,719.7 444.5,717.5 446.9,714.4 449.2,714.4 450.0,714.7 451.1,712.7 452.3,710.8 455.5,710.8 458.6,709.2 459.3,711.3 460.0,713.4 459.3,715.7 460.2,717.8 462.5,719.4 465.6,720.2 467.3,721.8 468.0,724.1 470.3,725.6 472.7,728.8 475.0,729.5 478.1,728.8 480.5,731.9 482.8,735.0 482.6,737.4 482.6,739.7 483.2,742.0 483.8,744.3 483.2,746.7 483.2,749.1 483.7,751.4 484.1,753.8 484.3,756.3 484.8,758.8 485.1,761.4 485.2,763.9 486.4,761.7 488.3,760.0 490.6,761.6 491.4,759.3 491.7,756.9 492.0,754.4 493.0,752.2 493.3,749.5 494.7,747.0 495.3,744.4 496.3,741.9 497.7,739.7 498.4,737.1 499.0,734.4 500.0,731.9 502.3,728.8 505.5,728.0 508.6,726.4 510.9,725.6 511.9,723.6 512.4,721.6 512.5,719.4 512.7,717.2 514.1,715.5 515.6,717.8 517.5,719.4 518.3,721.9 518.5,724.6 518.8,727.2 518.7,729.4 519.5,731.4 520.3,733.4 521.1,731.0 522.2,728.8 522.8,731.2 522.5,733.8 522.5,736.3 522.7,738.8 523.4,741.2 524.1,743.3 524.0,745.5 525.0,747.5 525.4,745.3 525.3,743.1 526.0,741.0 525.3,738.7 526.0,736.6 525.4,734.3 525.7,732.2 526.7,730.0 526.1,727.8 526.6,725.6 527.4,723.3 527.7,721.0 528.1,718.6 527.9,720.8 528.7,722.8 529.0,724.9 529.3,727.0 528.8,729.2 529.3,731.3 529.7,733.4 529.4,735.8 529.7,738.2 530.9,740.4 530.7,742.8 531.5,745.1 531.2,747.5 530.9,745.2 531.1,742.9 532.2,740.8 532.3,738.5 532.5,736.2 532.1,733.9 532.6,731.7 533.0,729.5 532.8,727.2 533.2,724.8 533.9,722.5 534.4,720.2 535.0,722.3 535.4,724.5 535.4,726.8 535.0,729.1 535.6,731.2 535.9,733.4 535.6,735.7 536.3,737.9 536.7,740.2 536.3,742.5 536.4,744.8 537.6,746.9 536.9,749.3 537.8,751.5 537.5,753.8 538.2,755.9 537.5,758.3 538.7,760.4 538.7,762.7 538.0,765.0 538.9,767.1 539.1,769.4 538.7,767.1 538.9,764.9 539.1,762.7 539.8,760.5 539.1,758.2 540.2,756.0 539.7,753.7 540.5,751.5 540.6,749.3 539.9,747.0 540.0,744.8 540.4,742.6 540.0,740.3 540.6,738.1 541.1,735.6 540.7,733.1 541.0,730.5 542.5,728.2 542.2,725.6 542.7,723.2 543.8,720.9 544.6,718.4 545.3,715.7 546.1,713.1 547.7,710.0 548.1,707.6 548.5,705.2 549.7,703.0 549.5,705.4 549.8,707.7 550.1,710.1 551.4,712.3 551.2,714.7 551.6,716.8 551.2,719.0 550.8,721.1 551.4,723.2 551.3,725.3 551.4,727.5 551.9,729.6 551.6,731.7 551.9,733.9 552.0,736.0 552.3,738.1 552.1,740.2 551.3,742.4 552.0,744.5 551.8,746.7 551.9,748.8 551.6,750.9 552.3,753.0 552.4,755.2 552.4,757.3 552.5,759.4 552.3,761.6 552.8,759.4 552.9,757.3 552.3,755.1 552.4,753.0 552.7,750.8 552.8,748.7 552.9,746.5 552.6,744.4 552.4,742.2 552.7,740.1 552.5,737.9 553.2,735.8 552.7,733.6 552.7,731.5 553.5,729.3 553.1,727.2 553.8,725.0 553.5,722.9 554.0,720.8 553.2,718.6 553.7,716.4 554.1,714.3 553.3,712.1 553.9,710.0 554.6,707.9 553.9,705.7 554.8,703.6 555.3,701.5 555.3,699.3 554.9,697.1 554.8,694.9 555.5,692.8 556.3,690.5 557.0,688.1 556.8,690.7 557.9,693.1 557.5,695.7 558.7,698.1 558.6,700.6 560.9,699.8 561.0,702.3 562.5,704.4 562.5,706.9 563.5,709.2 564.1,711.6 564.9,709.5 565.0,707.4 565.5,705.4 565.7,703.3 565.9,701.2 565.9,699.1 566.0,701.6 566.9,704.0 567.0,706.5 567.6,709.0 567.5,711.6 567.9,714.2 568.7,716.8 569.5,719.4 570.0,721.0 571.1,723.3 571.6,725.7 572.4,727.8 571.5,730.0 572.0,732.1 572.6,734.1 572.8,736.2 573.1,738.3 573.0,740.6 573.8,742.7 574.2,744.9 574.6,747.1 574.7,749.3 575.8,751.6 576.3,754.0 576.0,751.9 577.0,749.9 577.0,747.7 577.4,745.7 577.1,743.5 577.9,741.5 578.0,738.8 578.0,736.2 578.6,733.6 579.3,735.7 579.3,737.8 578.8,739.9 579.5,742.0 579.7,744.1 579.8,746.2 580.0,748.8 580.9,751.4 581.0,754.0 582.0,756.0 581.8,758.3 582.3,760.3 582.3,758.1 582.6,755.9 582.4,753.6 582.8,751.4 582.9,749.1 582.4,746.8 582.8,744.6 582.9,742.4 582.6,740.1 583.0,737.9 583.2,735.6 583.7,733.4 583.8,731.1 583.4,728.9 583.3,726.5 583.9,724.2 583.4,721.8 583.6,719.4 584.3,717.1 584.5,714.7 585.7,717.9 585.7,720.3 586.9,722.5 586.6,725.0 587.3,727.3 587.2,729.7 588.3,732.0 588.3,734.4 588.9,736.8 590.5,735.2 592.8,738.3 592.7,740.5 593.5,742.5 593.4,744.6 593.6,746.7 594.0,748.8 594.4,750.9 594.8,753.4 596.0,755.6 595.9,757.9 596.2,760.0 597.1,762.1 597.5,764.3 597.5,762.0 598.0,759.9 598.4,757.7 599.1,755.6 601.5,754.0 601.8,752.0 602.3,749.9 601.7,747.7 602.7,745.7 603.0,743.6 603.0,741.5 604.6,739.9 605.1,742.2 605.1,744.6 605.8,746.9 605.4,749.4 606.5,751.6 606.2,754.0 607.8,750.9 608.7,748.6 608.9,746.2 609.1,743.9 609.3,741.5 609.3,739.3 610.2,737.3 610.5,735.2 609.7,733.0 610.7,731.0 610.6,728.9 611.4,726.9 611.5,724.7 611.7,722.6 613.3,721.8 613.2,724.0 613.6,726.1 613.2,728.2 613.3,730.4 614.2,732.5 613.8,734.6 614.4,736.8 614.6,738.9 615.0,741.1 615.0,743.3 615.3,745.5 614.5,747.8 614.6,750.0 615.7,752.1 615.2,754.4 615.6,756.6 615.6,758.8 616.8,761.0 617.2,763.5 617.2,761.4 617.4,759.3 618.3,757.2 617.7,755.0 618.1,753.0 618.8,750.9 618.9,748.6 618.6,746.3 619.6,744.2 619.8,741.9 620.3,739.7 619.8,737.4 620.3,735.2 620.6,732.8 621.4,730.5 621.9,728.1 622.5,730.3 622.3,732.6 623.0,734.7 622.7,737.0 622.9,739.3 623.5,741.5 623.7,744.2 624.0,746.8 625.1,749.3 625.3,747.1 625.5,744.8 626.2,742.6 626.3,740.4 626.3,738.1 626.3,735.8 626.6,733.6 627.9,732.0 628.4,734.4 628.9,736.7 628.3,739.1 629.4,741.4 628.9,743.9 629.5,746.2 630.0,748.3 630.2,750.5 631.4,752.5 631.6,754.7 631.9,756.8 632.9,758.8 634.1,761.0 634.5,763.5 635.7,766.2 636.9,769.0 639.2,772.1 641.6,773.7 643.9,771.4 645.2,769.0 646.3,766.6 646.5,764.2 647.1,761.9 647.3,759.5 647.9,757.2 648.1,755.0 647.7,752.6 648.5,750.5 648.7,748.2 648.8,745.9 649.1,743.7 649.5,741.5 650.0,739.1 650.2,736.8 650.2,734.4 650.7,732.0 650.6,729.7 651.0,727.3 652.6,725.0 653.7,727.6 654.2,730.5 655.1,732.6 655.1,734.8 655.0,737.1 655.0,739.3 655.7,741.5 655.9,744.2 656.8,746.7 657.3,749.3 657.3,752.1 658.4,754.6 658.9,757.2 659.0,759.4 660.0,761.4 660.5,763.5 660.8,761.3 661.2,759.1 660.5,756.8 660.4,754.6 661.1,752.4 661.1,750.2 660.9,747.9 660.6,745.7 661.2,743.5 661.3,741.3 661.4,739.1 662.0,736.9 661.8,734.6 662.0,732.4 662.3,730.2 662.2,728.0 662.0,725.7 663.2,723.8 664.4,721.8 664.4,724.0 664.9,726.1 665.2,728.3 665.6,730.5 665.6,732.7 665.9,734.9 665.8,737.1 665.9,739.4 665.6,741.6 665.9,743.8 665.9,746.1 666.1,748.3 666.1,750.5 666.4,752.7 666.8,755.0 666.8,757.2 667.4,759.4 667.1,761.6 667.3,763.9 668.0,766.0 668.3,768.2 670.7,770.6 673.8,769.8 677.0,767.4 676.6,765.3 677.5,763.1 677.2,761.0 677.3,758.8 676.9,756.6 677.5,754.5 677.9,752.4 677.6,750.2 677.6,748.1 678.0,745.9 677.3,743.7 678.0,741.6 678.6,739.5 678.4,737.3 678.2,735.2 679.8,735.2 680.0,737.3 679.8,739.5 679.9,741.7 680.5,743.9 680.6,746.0 679.9,748.3 680.7,750.4 681.0,752.6 680.2,754.8 680.6,757.0 680.9,759.1 680.8,761.3 680.9,763.5 681.2,765.7 682.3,767.6 682.5,769.8 683.9,771.5 685.6,772.9 689.6,773.7 692.0,773.6 694.3,772.9 696.7,772.9 699.0,772.1 701.2,770.7 703.7,769.8 706.2,768.3 708.5,766.6 710.7,765.2 713.2,764.3 715.5,764.0 717.9,763.5 720.0,763.9 723.1,762.3 726.2,760.0 728.6,756.9 728.3,754.5 729.2,752.2 729.4,749.9 728.9,747.5 728.9,745.1 730.0,742.8 729.8,740.5 729.7,738.1 730.4,735.6 729.8,732.8 730.6,730.3 730.2,732.5 730.7,734.6 731.1,736.7 731.1,738.8 730.8,741.0 730.9,743.1 731.7,745.2 731.3,747.4 731.9,749.5 731.1,751.6 731.7,753.8 733.3,756.1 733.6,753.9 734.5,751.9 734.7,749.7 734.8,747.5 735.0,745.3 734.7,743.1 735.1,740.9 734.7,738.7 734.8,736.5 735.6,734.4 735.2,732.2 735.8,730.0 735.2,727.8 735.6,725.6 736.0,723.4 736.1,721.2 735.7,718.9 735.5,716.7 735.9,714.5 736.2,712.2 735.8,710.0 736.0,707.8 735.9,705.5 736.6,703.3 737.1,701.1 736.4,698.8 736.2,696.6 736.9,694.4 737.6,691.9 738.2,689.4 738.8,686.9 738.8,684.2 738.7,686.5 739.2,688.7 738.7,691.0 739.7,693.3 739.1,695.6 740.0,697.8 739.7,700.1 739.8,702.3 740.0,704.6 740.0,706.9 740.4,709.1 740.4,711.3 739.7,713.6 740.2,715.8 740.1,718.0 740.6,720.3 740.1,722.5 740.6,724.7 740.3,727.0 740.0,729.2 739.9,731.4 741.1,733.6 740.2,735.9 740.6,738.1 740.4,740.4 741.2,742.6 741.3,744.8 741.2,747.1 741.0,749.3 741.8,751.5 741.9,753.8 743.1,751.5 743.4,749.1 743.4,751.3 744.4,753.4 743.7,755.7 745.0,757.7 744.7,760.0 744.8,757.8 745.9,755.9 746.2,753.8 747.1,756.2 747.0,758.7 747.6,761.2 747.5,763.7 747.8,766.2 748.7,764.3 749.3,762.2 749.4,760.0 750.9,756.9 752.0,758.8 752.5,760.9 752.5,763.1 752.6,765.3 754.1,767.2 754.1,769.4 756.7,770.9 756.7,768.8 756.9,766.6 757.1,764.4 757.3,762.3 758.3,760.2 758.8,758.1 759.0,755.9 759.1,753.8 759.6,751.5 759.4,749.3 759.2,747.0 759.6,744.8 760.1,742.6 759.8,740.4 759.4,738.1 759.2,735.9 760.4,733.7 760.1,731.4 759.9,729.2 760.3,727.0 760.3,724.7 760.3,722.5 760.5,720.3 760.1,718.0 760.6,715.8 760.8,713.6 760.7,711.3 761.7,709.1 761.4,706.9 762.1,704.9 763.0,703.0 765.0,702.2 764.9,704.5 765.0,706.7 765.1,709.0 765.2,711.2 765.3,713.5 766.0,715.7 765.3,718.0 766.4,720.2 766.1,722.5 766.4,724.6 767.7,726.4 768.8,728.8 768.5,731.1 768.6,733.5 769.8,735.7 769.9,738.1 769.2,740.5 769.7,742.8 770.0,745.1 770.0,747.5 771.6,744.4 772.9,741.9 772.6,739.0 773.9,736.6 774.2,738.8 774.6,740.9 775.3,743.1 775.3,745.3 775.5,747.5 775.5,750.0 775.6,752.6 777.0,754.9 776.7,757.5 777.0,760.0 776.9,757.6 778.2,755.4 777.7,752.9 778.6,750.6 778.8,747.7 780.2,745.2 780.7,747.3 780.7,749.5 781.6,751.6 781.7,753.8 781.4,751.5 782.2,749.3 782.3,747.1 782.5,744.8 781.9,742.6 782.1,740.4 782.0,738.1 782.4,735.9 782.2,733.7 782.3,731.4 782.9,729.2 783.2,727.0 782.8,724.7 782.8,722.5 782.8,719.8 783.8,717.3 784.1,714.7 786.4,716.2 787.6,718.2 788.8,720.2 791.1,722.5 793.4,721.7 793.7,724.6 795.0,727.2 795.1,729.4 795.2,731.6 795.7,733.8 796.2,735.9 796.6,738.1 796.4,740.4 796.8,742.6 797.7,744.6 798.2,746.8 798.1,749.1 798.7,751.1 798.9,753.2 799.8,755.2 799.9,757.4 800.0,759.5 800.5,761.6 801.2,763.9 800.5,766.4 800.9,768.8 801.5,771.2 801.8,773.6 801.7,776.0 802.1,773.3 802.6,770.7 803.3,768.2 804.1,765.9 804.3,763.5 804.9,761.1 805.6,763.9 806.4,766.6 808.8,763.5 808.5,761.3 809.5,759.1 808.9,756.8 809.1,754.6 808.9,752.4 810.1,750.2 809.7,748.0 810.3,745.8 810.4,743.6 810.6,741.4 810.6,739.2 810.3,736.9 811.2,734.7 811.6,732.3 811.9,730.0 811.9,727.5 813.5,724.4 814.0,726.5 813.6,728.7 813.7,730.8 813.3,733.0 813.7,735.1 813.9,737.2 813.9,739.4 814.5,741.5 813.9,743.6 814.4,745.7 814.7,747.9 814.7,745.7 814.9,743.5 815.6,741.3 815.2,739.1 814.8,736.9 814.9,734.7 815.7,732.6 815.6,730.4 816.2,728.2 815.8,726.0 817.8,723.6 819.7,726.0 820.6,728.0 820.8,730.1 821.3,732.2 821.8,734.7 822.8,736.9 824.4,740.0 826.0,738.5 827.2,740.7 827.5,743.2 828.1,745.3 827.6,747.4 828.1,749.5 828.3,751.6 828.2,753.8 827.9,755.9 828.1,758.0 828.7,760.1 828.8,762.2 828.0,764.4 828.3,766.5 829.0,768.6 828.2,770.8 828.8,772.9 828.3,770.7 828.9,768.6 829.6,766.6 829.6,764.5 829.2,762.3 830.1,760.3 829.8,758.1 830.3,756.1 830.5,754.0 830.1,751.8 830.5,749.7 830.5,747.6 831.1,745.6 831.1,743.4 831.1,741.3 831.3,739.2 831.7,737.1 831.2,735.0 832.8,734.2 833.1,736.4 833.3,738.6 832.6,740.8 832.6,742.9 833.0,745.1 833.1,747.3 833.2,749.5 832.7,751.7 832.8,753.8 833.1,756.0 833.8,758.2 832.9,760.4 833.4,762.5 833.8,764.7 833.7,766.9 833.2,769.1 834.1,771.3 834.0,773.4 833.6,775.6 833.5,773.4 834.4,771.3 834.4,769.1 834.8,766.9 834.4,764.7 834.6,762.5 834.8,760.3 834.9,758.1 835.1,755.9 835.2,753.8 834.9,756.0 834.9,758.3 835.7,760.5 835.6,762.8 836.2,765.1 836.3,767.3 836.2,769.6 836.3,771.9 836.5,774.1 836.7,776.4 839.1,775.6 839.7,773.4 838.8,771.2 839.4,769.0 839.9,766.8 839.7,764.6 839.6,762.4 839.4,760.2 839.5,758.0 840.2,755.8 840.3,753.6 840.1,751.4 840.4,749.2 840.5,747.0 840.5,744.8 840.0,742.5 840.2,740.3 840.3,738.1 840.1,740.3 840.7,742.4 840.4,744.6 840.8,746.8 841.1,748.9 841.1,751.1 841.6,753.2 841.5,755.4 841.5,757.6 842.1,759.7 842.0,761.9 842.0,764.1 841.9,766.2 842.5,764.0 842.3,761.7 842.1,759.4 843.0,757.2 842.3,754.9 842.7,752.6 843.2,750.4 843.2,748.1 843.1,745.8 843.6,743.5 843.4,741.2 844.1,743.3 844.4,745.5 845.3,747.5 845.6,745.2 846.4,742.9 846.4,740.5 845.9,738.1 846.2,735.7 846.9,733.4 848.1,729.5 847.6,731.8 848.6,733.9 848.9,736.2 848.7,738.4 848.4,740.6 847.9,742.8 848.7,745.0 848.3,747.2 848.3,749.5 849.2,751.7 848.7,753.9 848.3,756.1 848.9,758.3 848.9,760.5 849.2,762.7 848.6,765.0 848.6,767.2 849.2,769.4 848.8,767.1 849.4,764.9 849.4,762.7 849.7,760.5 849.2,758.2 849.4,756.0 849.5,753.7 849.8,751.5 850.3,749.3 850.4,747.1 850.4,744.8 850.4,742.6 849.7,740.3 850.3,738.1 851.1,740.2 851.5,742.4 852.3,744.4 852.7,746.7 852.6,749.1 852.3,751.4 853.4,753.7 852.7,756.1 853.7,758.4 853.6,760.8 853.6,763.1 854.7,760.0 855.3,757.9 854.6,755.7 855.1,753.6 855.0,751.5 855.7,749.4 856.0,747.2 855.2,745.1 855.6,743.0 856.2,740.8 855.9,738.7 855.9,736.6 856.6,738.7 856.3,741.0 857.1,743.1 857.2,745.3 857.5,747.5 858.3,749.9 857.4,752.6 858.0,755.0 857.9,757.5 858.6,760.0 858.2,762.4 859.1,764.7 858.9,767.0 859.2,769.4 858.9,771.7 859.4,774.1 860.2,777.0 861.7,779.5 863.5,780.9 864.8,782.7 868.0,785.0 870.3,781.9 870.2,779.5 870.9,777.2 870.8,774.8 870.7,772.5 870.9,770.1 871.6,767.8 871.8,765.5 871.9,763.1 871.7,765.6 872.6,767.8 872.9,770.2 873.4,772.5 874.4,774.5 874.6,776.6 875.0,778.8 875.1,776.4 876.0,774.1 875.9,771.7 876.6,769.4 876.5,766.8 877.0,764.4 877.5,761.9 877.6,759.4 878.1,756.9 878.4,759.2 879.3,761.5 878.8,764.0 879.7,766.2 881.2,763.1 881.8,765.3 882.8,767.3 883.6,769.4 884.9,771.8 885.4,774.5 885.9,777.2 888.3,779.5 889.6,777.7 890.6,775.6 891.6,773.6 892.5,771.6 893.0,769.4 894.5,766.2 895.5,764.3 895.4,762.0 896.1,760.0 896.4,762.5 896.9,765.0 897.5,767.4 897.8,769.9 897.7,772.5 898.2,770.1 899.2,767.8 900.2,770.3 900.2,773.0 900.8,775.6 902.2,777.4 903.9,778.8 907.0,780.3 908.3,778.0 909.4,775.6 909.9,773.5 909.7,771.3 910.0,769.1 910.6,767.0 910.8,769.4 910.6,771.8 911.4,774.1 912.1,776.4 911.7,778.8 914.8,778.8 917.2,775.6 916.7,773.4 917.2,771.2 917.7,769.1 917.2,766.8 917.5,764.7 918.2,762.5 918.6,760.3 918.0,758.1 918.4,755.9 918.4,753.8 919.5,750.6 921.1,753.8 921.1,756.0 921.7,758.2 921.3,760.4 921.5,762.7 921.4,764.9 920.8,767.1 921.1,769.4" fill="none" stroke="#0000ff" stroke-width="4.0" stroke-linejoin="round" stroke-linecap="round" clip-path="url(#cb)"/>
<polyline points="157.0,800.0 157.3,790.3 165.6,789.4 181.2,788.8 196.9,788.8 212.5,788.8 228.1,788.8 240.6,788.8 240.9,746.9 241.9,738.3 243.8,735.2 246.9,733.6 251.6,732.8 259.4,732.5 275.0,732.0 290.6,731.2 300.0,730.5 300.0,730.3 306.2,730.0 310.9,728.4 313.3,728.1 314.1,742.5 315.6,758.1 318.0,767.5 320.3,773.8 323.4,777.7 328.1,780.8 334.4,783.1 340.6,784.7 350.0,785.8 359.4,786.2 368.8,786.7 376.6,787.0 376.9,788.1 411.2,788.1 411.6,775.3 417.2,774.2 425.0,774.1 440.6,774.1 449.2,773.9 450.0,774.1 453.1,773.3 457.0,772.8 457.8,778.8 459.4,781.9 462.5,784.2 468.8,785.8 475.0,786.9 482.0,787.8 482.8,788.6 581.7,788.6 580.6,630.6 581.7,622.8 584.1,618.1 587.2,615.8 591.9,614.7 598.1,613.4 602.0,611.9 604.1,609.5 605.6,608.0 605.6,640.0 606.7,644.7 606.2,683.8 607.5,715.0 608.3,761.9 609.8,774.4 615.3,780.6 621.6,784.5 629.4,786.1 638.8,788.4 663.8,787.7 665.3,787.7 666.1,740.0 667.7,735.3 671.6,733.0 679.4,731.9 695.0,731.4 707.5,730.6 711.4,730.3 712.5,736.9 715.3,740.8 720.0,742.3 720.0,742.0 727.8,742.8 735.6,742.8 736.4,747.5 738.8,761.6 741.9,777.2 745.0,785.0 748.1,790.5 751.2,793.6 755.9,795.9 762.2,797.5 770.0,798.8 779.4,799.5 788.8,800.3 798.1,801.4 801.2,803.0 813.8,803.0 921.5,803.0" fill="none" stroke="#ff0000" stroke-width="3.5" stroke-linejoin="round" stroke-linecap="round" clip-path="url(#cb)"/>
<polyline points="157.0,807.8 159.4,806.2 162.5,805.5 165.6,804.7 168.8,805.5 171.9,803.9 175.0,803.9 178.1,803.1 181.2,804.4 184.4,806.2 187.5,807.8 190.6,806.2 191.9,804.4 193.8,803.1 196.9,800.8 200.0,799.7 203.1,800.8 206.2,803.1 209.4,805.0 212.5,802.8 215.6,805.5 218.0,806.6 220.3,805.0 223.4,804.4 225.8,805.0 228.1,802.3 231.2,800.0 234.4,799.2 237.5,798.1 239.8,798.4 239.6,800.7 240.0,802.8 240.8,805.0 240.7,807.2 240.9,809.4 241.0,811.6 240.8,813.8 240.7,816.0 241.5,818.2 241.6,820.4 240.7,822.6 241.2,824.8 240.8,827.0 241.8,829.2 241.3,831.4 241.0,833.6 241.6,835.8 240.8,838.1 240.8,840.3 241.9,842.5 242.0,844.7 241.4,846.9 242.5,848.9 243.8,850.8 246.1,853.1 248.4,854.7 251.6,852.3 254.7,852.3 257.8,850.8 260.9,849.2 263.3,850.8 266.4,850.0 269.5,849.7 271.7,849.1 273.4,847.7 274.9,846.0 276.6,844.5 277.9,842.7 279.7,841.4 281.2,839.8 282.8,838.3 285.2,837.5 287.5,838.3 288.2,835.7 289.8,833.6 291.4,835.9 291.6,833.5 292.4,831.2 293.0,828.9 293.5,826.6 293.7,824.2 294.5,821.9 295.2,824.2 295.5,826.5 295.5,828.9 296.0,831.2 296.1,833.6 297.7,836.7 297.9,833.8 299.2,831.2 300.0,830.0 300.1,832.7 301.0,835.2 301.6,837.8 302.6,839.9 303.9,841.7 307.0,842.2 308.3,840.5 310.2,839.4 311.9,837.3 312.5,834.7 313.1,832.5 312.3,830.3 312.7,828.1 313.3,826.0 313.4,823.8 313.8,821.6 313.3,819.4 313.9,817.2 313.8,815.0 313.8,812.8 313.7,810.6 314.2,808.4 314.7,806.1 314.8,803.9 314.5,801.7 314.8,799.4 314.8,797.2 315.5,794.6 317.2,792.5 317.2,790.0 318.2,787.5 318.0,785.0 318.0,782.5 318.8,780.0 319.3,777.9 320.0,775.9 320.3,773.8 320.4,776.0 321.1,778.1 321.3,780.3 321.6,782.5 321.9,784.7 322.7,782.2 322.9,779.5 323.4,776.9 323.8,774.5 324.5,772.2 325.0,769.8 325.9,772.3 326.2,774.9 325.7,777.5 326.2,780.0 326.3,782.2 327.4,784.2 328.1,786.2 328.5,784.1 328.8,782.0 329.7,780.0 329.8,777.7 330.6,775.5 330.4,773.2 330.3,770.9 330.8,768.7 330.2,766.3 330.7,764.1 331.4,761.9 331.1,759.6 331.1,757.3 331.2,755.0 331.3,752.5 331.9,750.0 332.7,747.6 331.9,744.9 332.8,742.5 335.2,740.9 337.5,741.7 337.5,743.9 337.7,746.1 338.0,748.2 338.8,750.3 338.5,752.5 338.6,754.7 339.0,756.8 339.0,759.0 339.3,761.2 339.8,763.3 338.9,765.5 339.4,767.7 339.9,769.8 339.6,772.0 339.7,774.2 340.0,776.3 340.1,778.5 339.9,780.7 339.9,782.9 340.0,785.0 340.3,787.2 340.3,789.4 339.9,787.2 340.2,785.0 340.3,782.8 340.9,780.6 341.3,778.5 341.3,776.3 341.4,774.1 341.6,771.9 341.0,769.7 341.4,767.5 342.0,765.4 342.0,763.2 341.5,761.0 341.6,758.9 341.8,756.7 342.9,754.6 342.5,752.4 343.0,750.3 344.5,748.8 346.9,747.2 349.2,750.3 350.2,752.8 350.1,755.5 350.8,758.1 351.2,760.3 351.7,762.5 351.9,764.8 351.6,767.1 352.3,769.2 352.4,771.5 352.3,773.8 352.2,775.9 352.7,778.0 353.0,780.1 353.0,782.2 353.7,784.3 353.4,786.4 353.5,788.5 354.0,790.6 354.2,792.7 353.9,794.8 355.2,792.2 355.5,789.4 355.6,787.2 355.4,785.0 356.1,782.8 356.5,780.7 355.7,778.4 355.8,776.2 356.1,774.0 357.0,771.9 356.5,769.7 357.0,767.5 358.0,765.2 358.6,762.8 358.6,765.0 358.9,767.1 359.5,769.2 358.8,771.5 359.2,773.6 359.7,775.7 360.3,777.8 360.2,780.0 360.5,777.7 360.3,775.3 360.7,773.0 360.5,770.6 361.0,768.3 360.4,765.9 360.9,763.6 361.2,761.2 363.3,759.7 364.8,758.1 366.4,756.6 366.1,759.1 366.4,761.6 367.3,764.0 366.9,766.6 367.5,769.1 367.5,766.5 368.5,764.1 368.5,761.6 368.4,759.0 368.8,756.6 369.2,753.9 369.7,751.2 371.1,748.8 373.4,747.2 375.0,748.8 375.4,750.9 376.6,752.7 376.5,750.2 378.0,748.0 378.1,745.6 379.7,742.5 382.0,740.9 382.3,743.2 383.5,745.1 384.4,747.2 384.8,744.7 385.9,742.5 387.1,740.0 388.0,737.5 388.3,734.7 390.6,732.3 392.2,735.5 392.5,737.9 393.2,740.2 393.8,742.5 394.4,744.5 395.0,746.6 395.3,748.8 395.9,751.1 395.5,753.5 396.0,755.8 396.5,758.1 396.8,760.4 396.6,762.8 397.1,760.5 397.1,758.1 397.7,755.8 398.1,753.4 398.9,755.5 398.9,757.7 400.0,759.7 401.0,757.7 400.5,755.4 401.6,753.4 403.1,755.0 404.1,757.1 404.5,759.2 404.3,761.6 405.5,763.6 406.6,760.9 407.0,758.1 408.6,761.2 409.9,763.9 410.9,766.7 411.0,764.5 411.9,762.5 412.5,760.3 412.5,758.1 414.1,756.0 414.8,753.4 416.9,755.0 417.6,752.6 418.8,750.3 421.1,748.8 423.4,748.0 425.0,750.3 427.3,753.4 427.4,755.6 428.2,757.7 428.9,759.7 429.2,761.8 428.8,764.1 430.0,766.1 429.7,768.3 430.7,770.4 430.8,772.5 430.2,774.8 430.9,776.9 430.8,774.6 431.6,772.4 431.5,770.2 432.0,768.0 431.6,765.7 431.7,763.5 432.0,761.2 432.2,758.9 433.2,756.6 433.3,754.2 433.6,751.9 433.4,754.4 433.8,756.9 435.0,759.3 434.8,761.9 435.2,764.4 435.9,766.6 436.2,768.8 436.3,771.0 435.6,773.3 435.9,775.6 436.1,777.8 436.7,780.0 437.3,782.6 437.3,785.2 437.8,787.8 438.7,785.8 438.7,783.6 439.4,781.6 439.6,779.4 439.4,777.2 439.3,775.1 439.7,772.9 440.6,770.9 440.4,768.7 441.0,766.6 440.6,764.4 441.0,762.0 441.1,759.6 442.1,757.4 442.2,755.0 443.2,752.8 442.8,750.2 444.1,748.0 444.5,745.6 446.9,743.3 449.2,742.5 450.0,744.4 452.3,742.0 455.5,739.7 455.8,737.6 456.6,735.6 458.2,734.0 458.6,731.9 460.3,734.0 460.9,736.6 463.3,736.6 465.6,738.1 468.0,741.2 469.4,743.0 470.3,745.2 472.7,747.5 475.0,749.1 477.0,747.9 478.1,745.9 480.5,749.1 481.6,751.4 482.5,753.8 483.1,755.9 483.1,758.1 483.1,760.3 482.6,762.5 483.5,764.7 482.7,766.9 483.4,769.1 482.8,771.3 483.0,773.5 483.6,775.6 485.2,778.8 486.5,777.0 488.3,775.6 490.6,777.2 490.9,774.8 491.8,772.5 491.9,770.0 493.0,767.8 493.9,765.8 494.0,763.4 495.3,761.6 495.5,758.8 497.4,756.5 497.7,753.8 498.2,751.6 499.3,749.6 500.0,747.5 502.3,744.4 505.5,742.8 508.6,741.2 509.7,738.9 510.9,736.6 511.5,734.1 512.5,731.9 514.1,729.5 514.6,731.7 513.7,733.8 513.7,736.0 513.7,738.1 514.8,740.3 514.8,742.4 514.4,744.6 514.0,746.7 514.6,748.9 514.5,751.0 514.6,753.2 515.1,755.3 514.8,757.5 515.2,759.6 515.3,761.7 515.6,763.9 515.4,766.0 514.6,768.2 515.3,770.3 515.3,772.5 515.6,770.3 515.6,768.1 516.0,765.9 515.4,763.7 515.4,761.5 515.5,759.3 515.5,757.1 516.2,754.9 516.4,752.7 515.7,750.4 515.8,748.2 516.1,746.0 516.2,743.8 516.3,741.6 516.0,739.4 515.8,737.2 516.4,735.0 516.8,737.2 517.1,739.3 516.6,741.5 517.3,743.7 517.4,745.8 516.8,748.0 517.3,750.2 516.8,752.4 517.2,754.5 516.8,756.7 517.8,758.9 517.4,761.0 517.2,763.2 518.1,765.4 517.2,767.6 518.2,769.7 517.6,771.9 518.0,774.1 518.6,771.9 518.5,769.6 518.0,767.4 517.9,765.2 518.4,763.0 519.0,760.8 518.4,758.6 519.2,756.4 518.4,754.1 519.4,751.9 518.4,749.7 519.1,747.5 519.4,749.7 518.8,751.9 519.0,754.2 519.0,756.4 519.2,758.6 519.4,760.8 519.6,763.0 520.3,765.2 520.1,767.4 520.5,769.6 519.9,771.9 520.3,774.1 520.6,771.9 520.2,769.7 520.0,767.5 521.2,765.3 521.1,763.1 520.9,760.9 520.9,758.8 521.4,756.6 521.0,754.4 521.0,752.2 521.0,750.0 521.0,747.8 520.8,745.6 521.7,743.4 521.6,741.2 521.8,743.3 521.7,745.5 522.4,747.5 522.1,749.6 522.5,751.7 522.6,753.8 522.5,755.9 521.9,758.1 522.6,760.1 522.7,762.2 522.5,764.3 523.0,766.4 523.4,768.5 522.9,770.6 523.0,772.7 523.1,774.8 523.5,772.6 523.4,770.3 523.9,768.1 524.2,765.9 523.8,763.6 524.3,761.4 524.5,759.1 524.7,756.9 525.2,759.1 525.1,761.3 525.1,763.6 524.8,765.8 525.0,768.1 525.9,770.2 525.8,772.5 526.0,770.3 525.4,768.1 525.5,766.0 526.1,763.8 526.7,761.7 525.9,759.5 526.7,757.3 526.9,755.2 526.3,753.0 526.9,750.8 527.2,748.6 526.7,746.5 527.1,744.3 527.3,742.1 527.2,740.0 527.6,737.8 527.7,735.6 527.3,733.4 527.1,735.7 527.9,737.8 528.7,739.9 528.9,742.1 528.9,744.4 529.3,746.5 529.0,748.6 528.9,750.7 529.8,752.8 529.1,754.9 529.2,757.0 529.7,759.1 529.6,761.2 530.1,763.3 529.5,765.4 530.4,767.5 529.3,769.6 530.0,771.7 530.5,769.5 530.4,767.3 530.1,765.1 530.9,762.9 531.1,760.7 530.2,758.5 531.1,756.3 531.3,754.1 531.2,751.9 531.4,749.7 531.2,747.5 531.5,749.7 531.1,751.9 531.2,754.1 532.0,756.2 531.7,758.5 532.3,760.6 532.7,762.8 532.7,765.0 533.1,767.2 532.8,769.4 533.4,767.3 533.6,765.1 532.6,762.9 533.3,760.8 533.2,758.6 532.9,756.5 533.3,754.3 533.3,752.2 534.0,750.1 533.2,747.9 533.5,745.7 533.9,743.6 533.5,741.4 534.3,739.3 534.4,737.2 534.4,735.0 534.2,737.4 535.1,739.7 535.2,742.0 535.1,744.4 535.6,746.7 535.4,749.1 536.0,751.4 535.9,753.8 535.8,756.0 535.8,758.3 535.9,760.6 535.8,762.9 536.5,765.1 536.6,767.4 536.3,769.7 536.5,771.9 536.9,774.2 537.2,776.5 537.2,778.8 538.4,781.0 539.1,783.4 538.8,781.2 539.8,779.2 539.2,777.0 540.1,774.9 540.1,772.7 540.8,770.6 540.7,768.4 540.6,766.2 541.4,764.0 540.6,761.5 541.2,759.2 541.5,756.9 541.4,754.5 541.8,752.2 541.8,749.8 542.2,747.5 542.5,745.0 542.2,742.4 543.1,740.0 543.4,737.5 543.8,735.0 544.3,732.3 545.2,729.8 546.1,727.2 547.2,725.0 547.7,722.5 547.5,724.6 547.8,726.8 547.6,728.9 548.0,731.0 548.3,733.1 548.6,735.3 548.3,737.4 547.9,739.6 547.6,741.7 547.8,743.8 548.2,745.9 547.7,748.1 548.4,750.2 548.0,752.3 548.5,754.5 548.2,756.6 547.9,758.7 548.8,760.9 549.0,763.0 548.5,765.1 548.7,767.2 548.8,769.4 548.6,767.2 548.3,765.1 548.8,762.9 548.9,760.8 548.9,758.6 549.5,756.5 549.2,754.3 549.4,752.2 549.7,750.1 549.6,747.9 549.3,745.7 549.7,743.6 549.6,741.5 549.7,739.3 549.7,737.2 549.5,735.0 549.8,732.9 549.8,730.7 550.3,728.6 550.1,726.4 550.3,724.3 550.2,722.1 550.3,720.0 550.0,717.8 550.0,720.1 550.5,722.3 550.8,724.6 550.4,726.9 550.4,729.1 551.0,731.4 551.6,733.6 551.0,735.9 551.6,738.1 551.7,740.2 551.8,742.3 552.4,744.4 551.9,746.5 551.8,748.6 552.2,750.7 552.4,752.8 552.2,754.9 553.0,757.0 552.5,759.1 552.1,761.2 552.5,763.3 552.9,765.4 552.7,767.5 552.9,769.6 553.1,771.7 552.9,769.6 553.0,767.5 553.9,765.4 553.2,763.3 553.1,761.2 554.1,759.1 553.8,757.0 553.7,754.9 554.0,752.8 554.4,750.7 553.8,748.6 554.5,746.5 554.7,744.4 554.9,742.3 554.3,740.2 554.7,738.1 554.9,736.0 554.6,733.9 555.0,731.8 554.7,729.6 555.5,727.6 555.7,725.5 555.1,723.3 555.1,721.2 556.1,719.1 555.9,717.0 556.1,714.9 555.2,712.7 556.4,710.7 556.1,708.5 555.8,706.4 556.1,704.3 556.2,702.2 556.0,704.3 556.0,706.4 556.7,708.5 556.3,710.6 556.8,712.7 555.9,714.8 556.6,716.9 556.1,719.0 556.3,721.1 556.5,723.2 557.0,725.3 556.7,727.4 557.2,729.5 557.2,731.6 556.6,733.7 557.0,735.8 556.6,737.9 557.3,740.0 556.7,742.1 556.8,744.2 557.3,746.3 557.6,748.4 557.3,750.5 557.2,752.6 557.7,754.7 557.6,756.8 557.8,758.9 557.2,761.0 556.9,763.1 557.8,765.2 558.0,767.3 557.5,769.4 557.8,767.2 558.0,765.1 558.2,762.9 557.8,760.7 557.5,758.6 558.2,756.4 557.3,754.2 558.1,752.1 557.4,749.9 557.8,747.7 558.0,745.6 557.9,743.4 557.6,741.2 557.8,739.1 558.5,736.9 558.1,734.8 558.3,732.6 557.9,730.4 558.6,728.3 558.1,726.1 558.5,723.9 558.9,721.8 559.1,719.6 558.0,717.4 558.9,715.3 558.6,713.1 560.2,714.7 560.3,716.9 561.4,718.8 561.7,720.9 562.6,723.2 563.3,725.6 564.0,728.0 564.8,730.3 565.5,728.2 565.1,726.0 565.9,723.9 565.9,721.7 565.4,719.5 566.5,717.5 565.6,715.2 566.4,713.1 567.1,715.3 566.7,717.6 567.6,719.8 567.4,722.0 568.0,724.2 567.8,726.5 568.0,728.8 568.0,731.2 568.3,733.5 569.7,735.7 569.5,738.1 569.2,735.8 570.0,733.6 569.8,735.9 571.0,738.0 570.9,740.3 571.4,742.5 571.6,744.8 571.9,747.0 571.6,749.3 571.6,751.6 571.7,753.9 572.0,756.1 572.1,758.4 572.5,760.6 573.1,762.8 573.1,765.1 573.2,767.2 572.9,769.4 573.5,771.6 574.1,773.7 574.5,775.8 573.6,778.1 574.1,780.2 574.4,782.4 574.3,780.1 574.7,777.8 574.8,775.5 574.8,773.2 574.4,770.9 574.8,768.6 575.0,766.3 574.8,764.0 575.8,761.8 575.3,759.5 575.5,757.2 575.4,759.5 575.5,761.8 575.5,764.1 575.6,766.4 575.7,768.7 576.4,770.9 575.6,773.2 576.7,775.5 575.9,777.8 576.1,780.1 576.6,782.4 577.1,780.3 576.3,778.1 576.4,776.1 577.4,774.0 577.1,771.9 577.1,769.8 577.9,767.7 576.9,765.6 577.6,763.5 577.6,761.4 577.3,759.3 577.9,757.2 578.0,755.0 578.6,752.8 579.1,750.6 578.3,748.3 579.1,746.2 580.2,747.8 580.2,749.9 580.8,752.1 579.9,754.3 580.8,756.5 580.9,758.6 580.5,760.8 580.1,763.0 580.6,765.2 580.8,767.4 580.1,769.5 580.1,771.7 580.0,773.9 580.7,776.1 580.6,778.3 580.8,780.4 580.5,782.6 580.7,784.8 580.7,787.0 580.2,789.2 580.0,791.3 580.5,793.5 581.1,795.7 580.5,797.9 580.7,800.0 580.1,802.2 580.7,804.4 580.4,806.5 580.3,808.7 580.5,810.8 580.7,812.9 580.3,815.1 580.3,817.2 581.0,819.3 581.2,821.5 580.9,823.6 580.7,825.7 581.2,827.9 580.9,830.0 580.7,832.1 581.3,834.3 580.4,836.4 580.6,838.5 581.0,840.7 581.0,842.8 581.0,844.9 581.0,847.1 580.5,849.2 580.8,851.3 580.8,853.5 581.2,855.6 580.3,857.7 581.0,859.9 581.0,862.0 581.4,864.1 580.3,866.3 580.9,868.4 580.4,870.5 580.4,872.7 580.3,874.8 580.5,876.9 580.4,879.1 580.4,881.2 580.5,883.3 581.3,885.5 580.9,887.6 580.8,889.7 580.3,891.9 580.6,894.0 580.7,896.1 580.6,898.3 581.1,900.4 580.4,902.5 580.8,904.7 581.1,906.8 581.0,908.9 580.4,911.1 580.9,913.2 581.4,915.3 581.4,917.5 580.8,919.6 580.9,921.7 580.5,923.9 581.4,926.0 581.1,928.1 581.0,930.3 581.0,932.4 582.1,934.4 581.8,936.5 581.4,934.4 582.1,932.3 581.9,930.1 581.8,928.0 582.1,925.9 582.6,923.7 582.6,921.6 582.2,919.4 582.3,917.3 583.3,915.2 583.2,913.1 582.8,910.9 583.7,908.8 583.4,906.7 583.1,904.0 583.8,901.5 584.6,899.0 584.5,896.4 584.5,899.0 585.4,901.5 584.9,904.2 585.7,906.7 585.9,909.0 585.8,911.4 586.1,913.8 586.9,916.1 586.8,918.5 587.3,920.8 588.0,923.2 588.9,925.5 591.2,923.2 592.8,925.5 592.5,927.7 593.0,929.8 593.3,931.9 593.5,934.0 593.5,936.1 594.4,938.1 595.2,940.7 595.8,943.3 596.0,946.0 596.2,948.4 596.7,950.8 597.5,953.1 597.9,950.7 598.1,948.3 598.4,946.0 599.2,943.7 599.1,941.3 601.5,938.1 602.4,935.6 602.8,932.9 603.4,930.3 604.2,932.4 603.4,934.6 604.2,936.7 604.7,938.9 604.9,941.0 604.7,943.3 605.7,945.3 605.4,947.6 605.0,945.4 605.2,943.3 605.9,941.2 605.8,939.1 606.1,936.9 605.6,934.8 605.7,932.7 605.7,930.5 605.7,928.4 605.7,926.3 606.1,924.2 606.3,922.0 605.6,919.9 605.9,917.8 605.6,915.6 605.6,913.5 605.9,911.4 605.9,909.3 606.0,907.1 606.0,905.0 606.5,902.9 605.5,900.8 606.1,898.7 606.5,896.6 606.2,894.4 606.1,892.3 605.8,890.2 605.9,888.1 606.5,886.0 606.5,883.8 606.2,881.7 606.5,879.6 606.6,877.5 606.5,875.4 605.9,873.3 606.1,871.1 606.5,869.0 606.0,866.9 606.4,864.8 606.1,862.7 606.0,860.5 606.1,858.4 606.2,856.3 605.8,854.2 606.2,852.0 606.3,849.9 606.0,847.7 606.2,845.6 606.4,843.5 607.2,841.4 607.0,839.2 606.7,837.1 607.7,835.0 606.9,832.8 607.3,830.7 607.6,828.6 607.4,826.4 607.7,824.3 607.5,822.1 608.0,819.9 607.7,817.8 608.0,815.6 607.8,813.4 608.5,811.3 608.2,809.1 607.6,806.9 607.7,804.8 608.8,802.6 607.9,800.5 607.8,798.3 608.1,796.1 608.4,794.0 608.5,791.8 609.2,789.5 608.7,787.1 609.2,784.7 609.5,782.4 608.7,780.0 609.3,777.6 610.6,779.2 610.8,777.0 611.4,774.8 611.0,772.6 611.1,770.4 611.0,768.2 611.8,766.0 611.9,763.8 611.0,761.6 611.6,759.4 611.7,757.2 611.9,755.0 612.5,752.8 612.2,750.5 612.7,748.3 613.3,746.2 613.7,748.4 613.7,750.7 613.6,753.0 613.7,755.2 614.0,757.5 614.4,759.7 614.8,761.9 615.4,764.0 615.1,766.2 614.9,768.4 615.4,770.5 615.2,772.6 614.8,774.8 615.8,776.9 615.0,779.1 616.0,781.2 615.7,783.4 615.6,785.5 617.2,787.1 618.2,784.6 617.9,781.8 618.8,779.2 619.0,777.0 619.0,774.8 619.7,772.6 620.0,770.5 619.3,768.2 619.7,766.0 620.3,763.8 620.1,761.6 619.8,759.4 620.3,757.2 621.0,755.0 620.8,752.8 621.3,750.6 621.0,748.3 621.9,746.2 621.7,748.6 622.5,750.9 622.6,753.3 623.5,755.6 623.5,758.4 624.8,760.8 625.1,763.5 625.4,761.1 625.5,758.8 626.2,756.4 626.5,754.1 626.1,751.7 626.6,749.3 628.2,750.9 628.7,753.0 628.5,755.1 629.1,757.2 629.7,759.2 629.9,761.3 629.8,763.5 630.3,765.9 630.8,768.2 631.0,770.7 632.1,772.9 632.9,775.0 633.6,777.2 634.5,779.2 636.1,781.4 636.9,783.9 639.2,787.1 641.6,788.7 643.9,787.1 646.3,783.9 646.7,781.8 647.1,779.7 647.9,777.6 648.4,775.3 648.1,772.9 648.3,770.5 648.8,768.2 649.2,765.8 649.5,763.5 649.4,761.4 649.9,759.3 649.6,757.2 650.6,755.1 650.6,753.0 650.5,750.9 650.1,748.8 650.6,746.7 651.0,744.6 652.0,741.9 652.6,739.1 653.2,741.9 654.2,744.6 654.1,746.8 654.2,748.9 655.2,750.9 655.2,753.0 655.7,755.1 655.7,757.2 656.4,759.2 656.7,761.3 656.8,763.5 657.3,765.5 657.0,767.7 657.3,769.8 657.7,772.0 658.4,774.1 658.9,776.3 659.7,778.4 660.1,775.6 661.2,772.9 661.0,770.7 661.6,768.4 662.0,766.2 661.6,763.9 661.2,761.7 661.3,759.4 661.8,757.2 662.3,755.0 661.8,752.7 662.0,750.4 662.7,748.2 663.2,746.0 662.5,743.7 662.8,741.5 663.7,739.1 664.4,736.8 665.0,739.1 665.6,741.5 666.2,743.6 665.9,745.8 666.1,748.0 666.0,750.1 665.4,752.3 665.6,754.5 666.3,756.6 666.3,758.8 665.6,760.9 666.3,763.1 666.1,765.3 666.2,767.4 666.4,769.6 666.5,771.7 666.4,773.9 666.1,776.1 665.5,778.2 665.8,780.4 666.3,782.6 665.8,784.7 666.3,786.9 666.1,789.1 666.3,791.2 665.6,793.4 666.3,795.5 665.8,797.7 666.0,799.9 665.8,802.0 666.1,804.2 665.8,806.4 666.4,808.5 666.3,810.7 666.2,812.8 666.4,814.9 666.7,817.0 666.8,819.1 666.9,821.2 667.2,823.3 666.8,825.4 667.2,827.5 667.5,829.6 668.1,831.7 669.2,833.8 669.3,836.1 669.9,838.2 673.0,839.8 676.2,839.0 676.2,836.6 676.6,834.2 677.3,831.9 677.8,829.6 677.9,827.3 677.6,825.0 677.7,822.7 678.1,820.4 678.1,818.1 678.1,815.8 677.8,813.5 678.2,811.3 678.6,809.0 678.5,806.7 678.5,804.4 679.8,804.4 679.8,806.7 679.5,809.0 679.7,811.3 679.8,813.6 680.7,815.8 680.4,818.1 680.0,820.4 680.7,822.7 679.8,825.0 680.8,827.3 680.4,829.6 680.5,832.2 681.8,834.6 681.6,837.3 682.5,839.8 683.7,842.0 685.6,843.7 688.4,843.9 691.1,844.5 693.3,844.7 695.3,843.6 697.4,843.7 699.7,843.3 701.6,842.0 703.7,841.4 706.1,840.1 708.5,839.0 710.1,837.1 712.4,835.9 712.8,833.8 712.6,831.6 713.2,829.6 715.5,826.4 717.6,825.4 719.5,824.1 720.0,824.8 723.1,822.5 724.9,821.2 726.2,819.4 728.6,816.2 728.9,813.9 728.3,811.5 729.5,809.3 729.6,806.9 729.4,804.5 729.3,802.2 729.6,799.8 729.7,797.5 730.5,795.0 730.3,792.3 730.6,789.7 730.4,792.0 730.7,794.2 731.1,796.5 730.6,798.7 731.3,801.0 731.2,803.2 732.0,805.5 731.6,807.7 731.7,810.0 733.0,812.2 733.3,814.7 734.8,813.1 735.2,811.0 734.4,808.8 734.5,806.6 734.7,804.4 734.8,802.3 735.4,800.1 735.3,798.0 735.2,795.8 736.2,793.7 736.2,791.5 736.0,789.3 736.2,787.2 735.9,785.0 736.4,782.8 735.8,780.5 736.6,778.3 736.0,776.1 736.5,773.8 736.3,771.6 736.2,769.4 737.0,767.2 737.2,764.9 736.6,762.7 737.4,760.5 736.8,758.2 737.3,756.0 737.2,753.8 737.9,751.6 737.7,749.4 736.9,747.2 737.5,745.1 737.5,742.9 737.5,740.8 738.2,738.6 737.9,736.4 738.3,734.3 738.3,732.1 738.3,729.9 737.8,727.8 738.4,725.6 739.5,722.5 739.4,724.8 739.2,727.1 740.1,729.3 739.6,731.6 739.9,733.9 740.1,736.1 739.8,738.4 739.5,740.7 740.7,742.9 739.8,745.2 740.3,747.5 740.5,749.7 740.0,751.9 740.8,754.1 740.2,756.3 741.0,758.5 740.8,760.7 740.1,763.0 740.5,765.2 740.4,767.4 740.8,769.6 740.8,771.8 740.9,774.0 740.6,776.2 740.7,778.4 741.4,780.6 741.1,782.8 741.1,785.0 741.3,782.8 741.5,780.5 742.1,778.3 742.1,776.1 741.5,773.8 741.9,771.6 742.2,769.4 743.1,766.2 743.7,768.4 744.0,770.7 744.1,772.9 744.1,775.2 743.6,777.4 743.9,779.7 744.2,781.9 744.9,779.4 744.6,776.8 744.7,774.3 746.0,772.0 745.8,769.4 745.7,771.6 745.9,773.8 747.3,775.9 747.2,778.1 747.3,780.3 748.0,777.7 748.7,775.2 748.9,772.5 748.9,774.7 749.9,776.7 750.5,778.8 750.7,776.5 750.5,774.3 751.8,772.2 752.3,770.1 752.0,767.8 752.1,770.5 752.9,773.1 753.6,775.6 755.9,778.0 758.3,775.6 758.4,773.3 758.5,770.9 759.4,768.6 759.8,766.3 760.1,764.0 759.8,761.6 759.5,759.3 760.1,757.1 760.1,754.9 760.1,752.6 760.6,750.4 760.8,748.2 760.7,745.9 760.7,743.7 760.8,741.5 760.8,739.2 760.7,737.0 760.5,734.8 761.2,732.6 760.9,730.3 760.6,728.1 761.4,725.9 761.2,723.7 761.5,721.6 761.7,719.4 761.7,717.2 762.4,715.0 761.6,712.8 761.5,710.6 762.2,708.4 763.8,706.1 765.3,706.9 764.8,709.0 765.6,711.1 765.7,713.2 765.5,715.3 765.3,717.4 764.9,719.5 765.2,721.6 765.7,723.7 765.5,725.8 765.6,727.9 765.6,730.0 765.7,732.1 766.1,734.2 765.8,736.3 765.8,738.4 766.1,740.5 765.4,742.6 766.0,744.7 766.2,746.8 765.8,748.9 765.5,751.0 765.6,753.1 765.8,755.2 765.7,757.3 766.2,759.4 766.4,761.5 766.3,763.6 766.2,765.7 766.1,767.8 765.9,765.6 766.2,763.5 765.9,761.3 765.9,759.1 766.1,757.0 766.1,754.8 766.9,752.6 766.6,750.5 766.3,748.3 766.6,746.1 767.2,744.0 766.9,741.8 766.9,739.6 766.8,737.4 766.6,735.2 767.2,733.1 766.6,730.9 767.2,728.8 767.5,731.2 768.4,733.4 769.0,735.5 768.3,737.7 768.8,739.8 768.5,741.9 768.6,744.0 769.3,746.1 768.8,748.2 769.5,750.3 769.3,752.4 769.2,754.5 769.4,756.6 769.0,758.8 768.7,760.9 769.5,763.0 769.0,765.1 769.8,767.2 769.3,769.3 769.7,771.4 769.6,773.5 769.7,775.6 769.3,773.4 770.3,771.3 769.6,769.1 770.0,767.0 769.9,764.8 770.6,762.7 770.4,760.5 770.5,758.3 770.8,756.2 770.2,754.0 770.1,751.8 771.1,749.7 770.8,747.5 772.3,744.4 772.9,742.0 773.9,739.7 773.6,741.9 773.5,744.0 774.0,746.1 774.7,748.3 773.8,750.4 774.2,752.6 774.7,754.7 774.8,756.9 774.5,759.0 775.0,761.2 774.2,763.3 774.5,765.5 774.4,767.6 775.0,769.8 774.4,771.9 775.0,774.1 774.7,771.8 775.5,769.6 775.0,767.4 774.8,765.2 775.1,763.0 775.3,760.8 776.0,758.6 775.7,756.3 775.9,754.1 776.2,751.9 775.9,749.7 776.2,747.5 776.3,750.0 776.5,752.5 776.5,755.1 777.2,757.5 777.5,760.0 777.3,762.3 777.4,764.5 777.8,766.7 778.5,768.9 778.9,771.1 779.3,773.3 779.1,775.6 779.6,773.5 778.9,771.3 779.5,769.1 779.5,767.0 779.1,764.8 779.4,762.6 780.3,760.5 780.1,758.3 780.6,756.2 780.7,754.0 779.9,751.8 780.7,749.7 780.6,747.5 781.3,749.7 781.0,751.9 781.1,754.2 780.6,756.4 781.1,758.6 781.7,760.8 781.5,763.1 781.6,765.3 782.1,767.5 782.0,769.7 781.5,772.0 781.5,774.2 782.2,776.4 782.6,774.3 781.8,772.1 782.8,770.0 782.3,767.8 782.8,765.6 782.1,763.5 782.1,761.3 783.0,759.2 782.3,757.0 782.1,754.8 782.7,752.7 783.3,750.5 783.2,748.4 782.7,746.2 783.4,744.1 783.2,741.9 783.3,739.8 783.2,737.6 782.9,735.4 783.5,733.3 783.1,731.1 783.7,729.0 783.3,726.8 783.7,724.7 783.3,722.5 784.0,720.5 784.8,718.6 786.9,720.2 787.0,722.3 786.9,724.5 787.3,726.6 787.5,728.7 787.0,730.9 786.8,733.1 787.5,735.2 786.9,737.4 787.0,739.5 787.1,741.6 787.6,743.8 786.9,746.0 787.2,748.1 787.6,750.2 788.2,752.4 787.7,754.5 788.4,756.7 787.4,758.8 788.1,761.0 788.0,763.1 787.9,760.9 788.2,758.7 788.3,756.5 788.3,754.3 788.3,752.1 788.5,749.9 788.8,747.7 788.4,745.5 788.5,743.3 789.0,741.1 788.1,738.8 788.3,736.6 788.6,734.4 788.5,732.2 789.4,730.0 788.6,727.8 789.1,725.6 791.1,724.8 793.4,724.1 794.4,726.0 794.7,728.2 795.0,730.3 795.2,732.7 795.1,735.0 795.2,737.4 795.6,739.7 796.2,742.0 796.6,744.4 797.4,746.8 797.7,749.3 797.3,751.9 797.4,754.4 798.1,756.9 798.7,759.3 798.2,762.0 799.0,764.4 799.3,766.9 799.7,769.4 800.3,772.0 801.7,774.4 802.0,777.2 802.2,774.5 803.6,772.1 803.6,769.4 803.8,767.0 804.1,764.6 805.2,762.3 806.2,765.0 806.7,767.8 809.1,764.7 809.5,762.5 809.0,760.2 809.1,758.0 809.3,755.8 809.7,753.6 810.1,751.4 809.7,749.2 810.5,747.0 810.8,744.8 810.7,742.6 810.0,740.3 810.6,738.1 810.8,735.7 811.9,733.5 812.2,731.2 812.2,728.8 813.8,725.6 814.3,727.7 814.0,729.9 814.3,732.0 813.9,734.2 814.9,736.2 814.7,738.4 814.2,740.6 814.2,742.7 815.3,744.8 814.8,746.9 815.0,749.1 815.3,746.9 815.7,744.7 815.2,742.5 816.0,740.3 815.2,738.1 815.2,735.9 815.3,733.7 816.0,731.6 815.5,729.4 816.1,727.2 818.1,724.8 820.0,727.2 820.8,729.2 821.4,731.3 821.6,733.4 822.8,735.6 823.1,738.1 824.7,741.2 826.2,739.7 826.5,742.2 827.8,744.4 828.1,746.5 827.4,748.6 827.8,750.8 828.5,752.8 827.7,755.0 828.9,757.1 827.9,759.2 829.1,761.3 828.9,763.4 828.6,765.6 829.4,767.7 828.6,769.8 829.5,771.9 829.1,774.1 829.6,771.9 828.7,769.7 829.5,767.6 829.2,765.4 829.4,763.2 829.8,761.0 829.8,758.9 829.9,756.7 830.3,754.5 829.9,752.3 830.0,750.2 830.7,748.0 830.4,745.8 831.3,743.7 830.8,741.5 831.0,739.3 830.6,737.1 831.2,735.0 832.8,734.2 833.4,736.4 833.4,738.6 832.8,740.8 832.8,742.9 832.5,745.1 833.1,747.3 832.8,749.5 833.3,751.6 833.7,753.8 833.3,756.0 833.0,758.2 832.9,760.4 832.8,762.6 833.0,764.7 833.3,766.9 833.4,769.1 833.5,771.3 833.6,773.4 833.6,775.6 834.0,773.4 834.0,771.3 834.5,769.1 834.2,766.9 834.3,764.7 834.9,762.5 834.9,760.3 834.9,758.1 835.1,755.9 835.2,753.8 835.0,756.0 835.3,758.3 835.9,760.5 836.0,762.8 835.8,765.1 836.6,767.3 836.3,769.6 835.9,771.9 836.9,774.1 836.7,776.4 839.1,775.6 839.1,773.4 839.4,771.2 839.8,769.0 839.6,766.8 839.6,764.6 839.4,762.4 839.5,760.2 839.8,758.0 839.5,755.8 840.1,753.6 839.3,751.3 840.2,749.2 840.3,747.0 839.9,744.7 839.6,742.5 840.0,740.3 840.3,738.1 840.3,740.3 840.2,742.5 840.2,744.6 841.1,746.8 841.4,748.9 841.5,751.1 840.6,753.3 841.1,755.4 841.8,757.6 841.3,759.8 841.1,762.0 841.6,764.1 841.9,766.2 841.7,764.0 842.7,761.7 842.5,759.4 842.1,757.1 842.9,754.9 842.7,752.6 843.0,750.3 842.9,748.1 842.9,745.8 843.2,743.5 843.4,741.2 844.0,743.3 844.7,745.4 845.3,747.5 846.0,745.2 845.3,742.8 845.7,740.4 846.9,738.2 846.7,735.8 846.9,733.4 848.1,729.5 848.0,731.7 848.1,734.0 848.6,736.2 848.5,738.4 848.8,740.6 848.9,742.8 848.0,745.0 848.3,747.2 848.2,749.5 849.3,751.7 848.5,753.9 849.1,756.1 848.9,758.3 848.8,760.5 849.6,762.7 849.3,764.9 849.1,767.2 849.2,769.4 849.7,767.2 849.4,764.9 849.2,762.7 849.7,760.5 849.7,758.2 849.4,756.0 849.8,753.8 849.6,751.5 849.3,749.3 849.8,747.0 849.6,744.8 850.1,742.6 850.2,740.4 850.3,738.1 850.6,740.3 851.4,742.4 852.3,744.4 852.2,746.7 852.1,749.1 853.1,751.4 853.1,753.7 853.4,756.1 853.8,758.4 853.4,760.8 853.6,763.1 854.7,760.0 854.8,757.9 854.5,755.7 855.5,753.6 855.7,751.5 854.7,749.3 854.8,747.2 855.0,745.1 855.9,743.0 856.1,740.8 855.3,738.7 855.9,736.6 856.8,738.7 856.5,740.9 857.1,743.1 857.8,745.2 857.5,747.5 858.3,749.9 858.3,752.5 858.5,755.0 858.6,757.5 858.6,760.0 858.7,762.3 859.2,764.7 859.3,767.0 859.5,769.4 858.8,771.7 859.4,774.1 860.8,776.7 861.7,779.5 863.2,781.1 864.8,782.7 868.0,785.0 870.3,781.9 870.4,779.5 870.5,777.2 870.8,774.8 870.5,772.5 870.9,770.1 871.7,767.8 872.0,765.5 871.9,763.1 872.6,765.4 873.0,767.7 872.6,770.2 873.4,772.5 874.4,774.5 874.1,776.8 875.0,778.8 875.8,776.5 875.4,774.0 876.6,771.8 876.6,769.4 876.5,766.8 876.6,764.3 877.2,761.8 877.6,759.4 878.1,756.9 878.4,759.2 879.0,761.6 879.0,764.0 879.7,766.2 881.2,763.1 881.8,765.3 883.2,767.1 883.6,769.4 884.7,771.9 884.9,774.7 885.9,777.2 888.3,779.5 889.1,777.3 890.6,775.6 891.9,773.7 892.5,771.6 893.0,769.4 894.5,766.2 894.7,764.1 895.3,762.0 896.1,760.0 896.7,762.5 896.8,765.0 897.3,767.5 897.9,769.9 897.7,772.5 898.2,770.1 899.2,767.8 900.1,770.3 900.4,773.0 900.8,775.6 902.4,777.1 903.9,778.8 907.0,780.3 908.6,778.2 909.4,775.6 909.9,773.5 910.1,771.3 910.7,769.2 910.6,767.0 911.0,769.4 911.1,771.7 911.6,774.0 911.1,776.4 911.7,778.8 914.8,778.8 917.2,775.6 917.8,773.5 917.9,771.3 917.7,769.1 917.2,766.8 917.3,764.7 918.3,762.5 918.5,760.3 918.2,758.1 918.8,756.0 918.4,753.8 919.5,750.6 921.1,753.8 920.6,756.0 920.8,758.2 921.2,760.4 921.1,762.7 921.3,764.9 921.2,767.1 921.1,769.4" fill="none" stroke="#00bfbf" stroke-width="4.0" stroke-linejoin="round" stroke-linecap="round" clip-path="url(#cb)"/>
<rect x="806" y="878" width="113" height="136" fill="#fff"/>
<line x1="811" y1="903.3" x2="842" y2="903.3" stroke="#0000ff" stroke-width="3"/>
<line x1="811" y1="950" x2="842" y2="950" stroke="#ff0000" stroke-width="3"/>
<line x1="811" y1="992.5" x2="842" y2="992.5" stroke="#00bfbf" stroke-width="3"/>
<text x="845.5" y="907.5" font-size="28">p<tspan dy="13.3" font-size="22" letter-spacing="1.6">PVA</tspan></text>
<text x="845.5" y="954.2" font-size="28">p<tspan dy="13.8" font-size="22" letter-spacing="0.7">PEVs</tspan></text>
<text x="845.5" y="1004.8" font-size="28.5">Δp</text>
<text transform="translate(87.5,803.7) rotate(-90)" text-anchor="middle" font-size="32.6" textLength="71" lengthAdjust="spacing">(kW)</text>
<text x="502" y="1088.2" text-anchor="middle" font-size="32.5">(<tspan font-weight="bold">b</tspan>)</text>
</g>
<g>
<line x1="213.5" y1="1134.5" x2="213.5" y2="1565.5" stroke="#555" stroke-width="1.15" stroke-dasharray="8 7.6"/>
<line x1="298.5" y1="1134.5" x2="298.5" y2="1565.5" stroke="#555" stroke-width="1.15" stroke-dasharray="8 7.6"/>
<line x1="383.5" y1="1134.5" x2="383.5" y2="1565.5" stroke="#909090" stroke-width="1.15" stroke-dasharray="8 7.6"/>
<line x1="468.5" y1="1134.5" x2="468.5" y2="1565.5" stroke="#999" stroke-width="1.15" stroke-dasharray="8 7.6"/>
<line x1="552.5" y1="1134.5" x2="552.5" y2="1565.5" stroke="#909090" stroke-width="1.15" stroke-dasharray="8 7.6"/>
<line x1="637.5" y1="1134.5" x2="637.5" y2="1565.5" stroke="#aaa" stroke-width="1.15" stroke-dasharray="8 7.6"/>
<line x1="722.5" y1="1134.5" x2="722.5" y2="1565.5" stroke="#555" stroke-width="1.15" stroke-dasharray="8 7.6"/>
<line x1="807.5" y1="1134.5" x2="807.5" y2="1565.5" stroke="#555" stroke-width="1.15" stroke-dasharray="8 7.6"/>
<line x1="128.5" y1="1504.5" x2="892.5" y2="1504.5" stroke="#2222ff" stroke-opacity="0.75" stroke-width="1.1" stroke-dasharray="8 7.6"/>
<line x1="128.5" y1="1442.5" x2="892.5" y2="1442.5" stroke="#2222ff" stroke-opacity="0.45" stroke-width="1.1" stroke-dasharray="8 7.6"/>
<line x1="128.5" y1="1381.5" x2="892.5" y2="1381.5" stroke="#2222ff" stroke-opacity="0.8" stroke-width="1.1" stroke-dasharray="8 7.6"/>
<line x1="128.5" y1="1319.5" x2="892.5" y2="1319.5" stroke="#2222ff" stroke-opacity="0.8" stroke-width="1.1" stroke-dasharray="8 7.6"/>
<line x1="128.5" y1="1257.5" x2="892.5" y2="1257.5" stroke="#2222ff" stroke-opacity="0.35" stroke-width="1.1" stroke-dasharray="8 7.6"/>
<line x1="128.5" y1="1196.5" x2="892.5" y2="1196.5" stroke="#2222ff" stroke-opacity="0.4" stroke-width="1.1" stroke-dasharray="8 7.6"/>
<line x1="128.5" y1="1134.5" x2="892.5" y2="1134.5" stroke="#555" stroke-width="1.3"/>
<line x1="128.5" y1="1565.5" x2="892.5" y2="1565.5" stroke="#777" stroke-width="1.2"/>
<line x1="128.5" y1="1134.5" x2="128.5" y2="1565.5" stroke="#9999ff" stroke-width="1"/>
<line x1="892.5" y1="1134.5" x2="892.5" y2="1565.5" stroke="#ff6060" stroke-width="1"/>
<line x1="128.5" y1="1565.5" x2="128.5" y2="1560.5" stroke="#555" stroke-width="1"/>
<text transform="translate(128.50,1594.30) scale(1,1.09)" fill="#000" text-anchor="middle" font-size="29" >9h</text>
<line x1="213.5" y1="1565.5" x2="213.5" y2="1560.5" stroke="#555" stroke-width="1"/>
<text transform="translate(214.59,1594.30) scale(1,1.09)" fill="#000" text-anchor="middle" font-size="29" >10h</text>
<line x1="298.5" y1="1565.5" x2="298.5" y2="1560.5" stroke="#555" stroke-width="1"/>
<text transform="translate(299.48,1594.30) scale(1,1.09)" fill="#000" text-anchor="middle" font-size="29" >11h</text>
<line x1="383.5" y1="1565.5" x2="383.5" y2="1560.5" stroke="#555" stroke-width="1"/>
<text transform="translate(384.37,1594.30) scale(1,1.09)" fill="#000" text-anchor="middle" font-size="29" >12h</text>
<line x1="468.5" y1="1565.5" x2="468.5" y2="1560.5" stroke="#555" stroke-width="1"/>
<text transform="translate(469.26,1594.30) scale(1,1.09)" fill="#000" text-anchor="middle" font-size="29" >13h</text>
<line x1="552.5" y1="1565.5" x2="552.5" y2="1560.5" stroke="#555" stroke-width="1"/>
<text transform="translate(554.14,1594.30) scale(1,1.09)" fill="#000" text-anchor="middle" font-size="29" >14h</text>
<line x1="637.5" y1="1565.5" x2="637.5" y2="1560.5" stroke="#555" stroke-width="1"/>
<text transform="translate(639.03,1594.30) scale(1,1.09)" fill="#000" text-anchor="middle" font-size="29" >15h</text>
<line x1="722.5" y1="1565.5" x2="722.5" y2="1560.5" stroke="#555" stroke-width="1"/>
<text transform="translate(723.92,1594.30) scale(1,1.09)" fill="#000" text-anchor="middle" font-size="29" >16h</text>
<line x1="807.5" y1="1565.5" x2="807.5" y2="1560.5" stroke="#555" stroke-width="1"/>
<text transform="translate(808.81,1594.30) scale(1,1.09)" fill="#000" text-anchor="middle" font-size="29" >17h</text>
<line x1="892.5" y1="1565.5" x2="892.5" y2="1560.5" stroke="#555" stroke-width="1"/>
<text transform="translate(893.70,1594.30) scale(1,1.09)" fill="#000" text-anchor="middle" font-size="29" >18h</text>
<line x1="892.5" y1="1504.2" x2="886.5" y2="1504.2" stroke="#ff6060" stroke-width="1"/>
<text transform="translate(125.50,1515.70) scale(1,1.09)" fill="#0000ff" text-anchor="end" font-size="29" >0</text>
<text transform="translate(896.00,1514.70) scale(1,1.09)" fill="#ff0000" text-anchor="start" font-size="29" >0</text>
<line x1="892.5" y1="1442.6" x2="886.5" y2="1442.6" stroke="#ff6060" stroke-width="1"/>
<text transform="translate(125.50,1454.10) scale(1,1.09)" fill="#0000ff" text-anchor="end" font-size="29" >20</text>
<text transform="translate(896.00,1453.10) scale(1,1.09)" fill="#ff0000" text-anchor="start" font-size="29" >0.2</text>
<line x1="892.5" y1="1381.0" x2="886.5" y2="1381.0" stroke="#ff6060" stroke-width="1"/>
<text transform="translate(125.50,1392.50) scale(1,1.09)" fill="#0000ff" text-anchor="end" font-size="29" >40</text>
<text transform="translate(896.00,1391.50) scale(1,1.09)" fill="#ff0000" text-anchor="start" font-size="29" >0.4</text>
<line x1="892.5" y1="1319.4" x2="886.5" y2="1319.4" stroke="#ff6060" stroke-width="1"/>
<text transform="translate(125.50,1330.90) scale(1,1.09)" fill="#0000ff" text-anchor="end" font-size="29" >60</text>
<text transform="translate(896.00,1329.90) scale(1,1.09)" fill="#ff0000" text-anchor="start" font-size="29" >0.6</text>
<line x1="892.5" y1="1257.8" x2="886.5" y2="1257.8" stroke="#ff6060" stroke-width="1"/>
<text transform="translate(125.50,1269.30) scale(1,1.09)" fill="#0000ff" text-anchor="end" font-size="29" >80</text>
<text transform="translate(896.00,1268.30) scale(1,1.09)" fill="#ff0000" text-anchor="start" font-size="29" >0.8</text>
<line x1="892.5" y1="1196.2" x2="886.5" y2="1196.2" stroke="#ff6060" stroke-width="1"/>
<text transform="translate(125.50,1207.70) scale(1,1.09)" fill="#0000ff" text-anchor="end" font-size="29" >100</text>
<text transform="translate(896.00,1206.70) scale(1,1.09)" fill="#ff0000" text-anchor="start" font-size="29" >1</text>
<clipPath id="cc"><rect x="128.5" y="1134.5" width="764.0" height="431.0"/></clipPath>
<polyline points="128.2,1349.9 137.6,1352.3 149.3,1353.4 163.9,1355.8 178.6,1355.2 193.2,1356.7 202.0,1357.0 212.9,1355.2 216.7,1367.5 225.5,1393.9 234.3,1420.2 243.1,1442.2 246.0,1442.8 287.0,1442.8 291.4,1439.3 297.2,1432.0 303.1,1423.2 306.0,1411.5 310.4,1398.3 314.8,1390.9 319.2,1379.2 323.6,1366.0 328.0,1363.1 332.4,1355.8 338.3,1344.1 344.1,1330.9 348.5,1319.2 354.4,1301.6 360.2,1285.5 366.1,1267.9 369.9,1257.0 552.7,1257.0 554.2,1265.0 558.6,1285.5 563.0,1311.8 567.4,1341.1 571.8,1376.3 574.7,1399.7 576.8,1417.3 578.5,1423.8 582.0,1421.7 585.0,1414.4 587.9,1410.0 591.4,1406.2 593.8,1398.3 598.1,1388.0 602.5,1379.2 606.9,1373.4 611.3,1369.8 615.7,1366.9 620.1,1361.6 623.0,1352.8 626.0,1344.1 630.4,1335.3 633.3,1332.3 635.4,1325.0 637.1,1321.5 640.0,1323.5 643.5,1330.9 648.0,1339.7 652.3,1344.1 656.7,1352.8 661.1,1363.1 665.5,1371.9 669.9,1382.2 674.3,1392.4 678.7,1402.7 683.1,1412.9 687.5,1419.7 691.9,1426.1 696.3,1431.4 700.7,1434.9 705.1,1437.8 707.4,1438.7 709.5,1434.9 710.9,1427.6 715.3,1421.7 719.7,1414.4 724.1,1407.0 728.5,1401.2 732.0,1396.8 734.4,1385.1 735.8,1376.3 738.8,1367.5 743.2,1358.7 747.6,1349.9 752.0,1342.6 754.9,1339.7 757.8,1326.5 760.7,1314.8 763.7,1303.0 766.6,1292.8 769.5,1286.9 773.9,1281.1 778.3,1275.2 781.8,1269.4 784.2,1260.6 785.9,1257.0 893.0,1257.1" fill="none" stroke="#0000ff" stroke-width="3.8" stroke-linejoin="round" stroke-linecap="round" clip-path="url(#cc)"/>
<polyline points="128.0,1196.2 244.5,1196.2 244.5,1503.9 286.1,1503.9 286.1,1196.2 369.9,1196.2 369.9,1503.9 552.7,1503.9 552.7,1196.2 785.8,1196.2 785.8,1503.9 893.0,1503.9" fill="none" stroke="#ff0000" stroke-width="3.5" stroke-linejoin="round" stroke-linecap="round" clip-path="url(#cc)"/>
<text transform="translate(68,1352) rotate(-90)" fill="#0000ff" text-anchor="middle" font-size="32.6" textLength="124" lengthAdjust="spacing">SOC (%)</text>
<text transform="translate(962.3,1351.5) rotate(-90)" fill="#ff0000" text-anchor="middle" font-size="33">K</text>
<text x="502" y="1637.3" text-anchor="middle" font-size="32.5">(<tspan font-weight="bold">c</tspan>)</text>
</g>
</svg>
</body></html>
